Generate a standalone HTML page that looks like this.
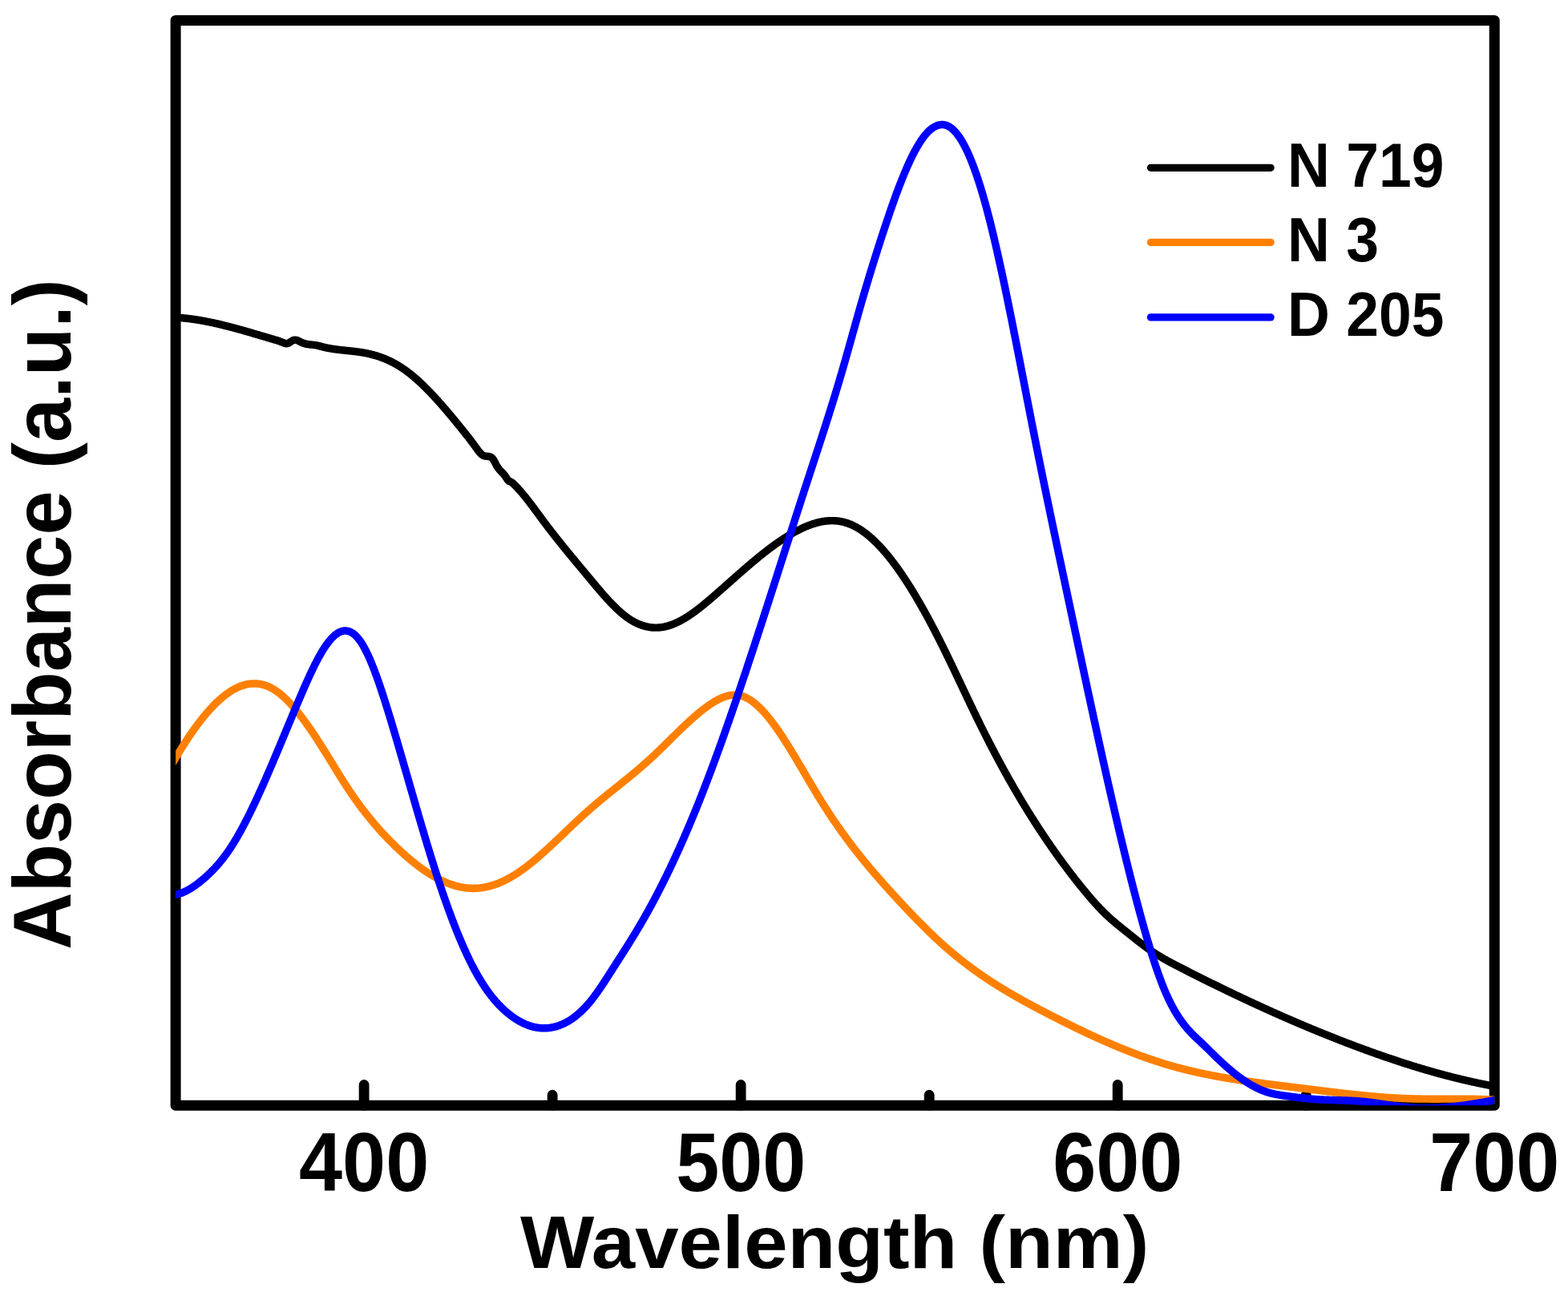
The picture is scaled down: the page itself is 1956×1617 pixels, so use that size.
<!DOCTYPE html>
<html><head><meta charset="utf-8"><title>Absorbance spectra</title>
<style>html,body{margin:0;padding:0;background:#fff;overflow:hidden}svg{display:block}</style>
</head><body>
<svg xmlns="http://www.w3.org/2000/svg" width="1956" height="1617" viewBox="0 0 1956 1617">
<defs><clipPath id="c"><rect x="219.1" y="25.4" width="1645.15" height="1353.80"/></clipPath></defs>
<rect width="1956" height="1617" fill="#fff"/>
<rect x="219.1" y="25.4" width="1645.15" height="1353.80" fill="none" stroke="#000" stroke-width="13" stroke-linejoin="round"/>
<g stroke="#000" stroke-width="12.8" stroke-linecap="round"><line x1="454.12" y1="1379.20" x2="454.12" y2="1353.5"/><line x1="924.16" y1="1379.20" x2="924.16" y2="1353.5"/><line x1="1394.21" y1="1379.20" x2="1394.21" y2="1353.5"/><line x1="689.14" y1="1379.20" x2="689.14" y2="1366.2"/><line x1="1159.19" y1="1379.20" x2="1159.19" y2="1366.2"/><line x1="1629.23" y1="1379.20" x2="1629.23" y2="1366.2"/></g>
<g clip-path="url(#c)" fill="none" stroke-width="9.45" stroke-linejoin="round" stroke-linecap="round">
<path stroke="#000" d="M215.0,395.9L215.5,396.0 216.0,396.0 216.5,396.0 217.0,396.0 217.5,396.0 218.0,396.1 218.5,396.1 219.0,396.1 219.5,396.1 220.0,396.2 220.5,396.2 221.0,396.2 221.5,396.3 222.0,396.3 222.5,396.3 223.0,396.4 223.5,396.4 224.0,396.4 224.5,396.5 225.0,396.5 225.5,396.6 226.0,396.6 226.5,396.6 227.0,396.7 227.5,396.7 228.0,396.8 228.5,396.8 229.0,396.9 229.5,396.9 230.0,397.0 230.5,397.0 231.0,397.1 231.5,397.1 232.0,397.2 232.5,397.2 233.0,397.3 233.5,397.3 234.0,397.4 234.5,397.5 235.0,397.5 235.5,397.6 236.0,397.6 236.5,397.7 237.0,397.8 237.5,397.8 238.0,397.9 238.5,398.0 239.0,398.0 239.5,398.1 240.0,398.2 240.5,398.2 241.0,398.3 241.5,398.4 242.0,398.4 242.5,398.5 243.0,398.6 243.5,398.7 244.0,398.7 244.5,398.8 245.0,398.9 245.5,399.0 246.0,399.0 246.5,399.1 247.0,399.2 247.5,399.3 248.0,399.4 248.5,399.4 249.0,399.5 249.5,399.6 250.0,399.7 250.5,399.8 251.0,399.9 251.5,400.0 252.0,400.1 252.5,400.1 253.0,400.2 253.5,400.3 254.0,400.4 254.5,400.5 255.0,400.6 255.5,400.7 256.0,400.8 256.5,400.9 257.0,401.0 257.5,401.1 258.0,401.2 258.5,401.3 259.0,401.4 259.5,401.5 260.0,401.6 260.5,401.7 261.0,401.8 261.5,401.9 262.0,402.0 262.5,402.1 263.0,402.2 263.5,402.3 264.0,402.4 264.5,402.5 265.0,402.6 265.5,402.7 266.0,402.8 266.5,402.9 267.0,403.0 267.5,403.1 268.0,403.3 268.5,403.4 269.0,403.5 269.5,403.6 270.0,403.7 270.5,403.8 271.0,403.9 271.5,404.0 272.0,404.2 272.5,404.3 273.0,404.4 273.5,404.5 274.0,404.6 274.5,404.7 275.0,404.9 275.5,405.0 276.0,405.1 276.5,405.2 277.0,405.3 277.5,405.5 278.0,405.6 278.5,405.7 279.0,405.8 279.5,406.0 280.0,406.1 280.5,406.2 281.0,406.3 281.5,406.5 282.0,406.6 282.5,406.7 283.0,406.8 283.5,407.0 284.0,407.1 284.5,407.2 285.0,407.3 285.5,407.5 286.0,407.6 286.5,407.7 287.0,407.9 287.5,408.0 288.0,408.1 288.5,408.3 289.0,408.4 289.5,408.5 290.0,408.6 290.5,408.8 291.0,408.9 291.5,409.0 292.0,409.2 292.5,409.3 293.0,409.5 293.5,409.6 294.0,409.7 294.5,409.9 295.0,410.0 295.5,410.1 296.0,410.3 296.5,410.4 297.0,410.5 297.5,410.7 298.0,410.8 298.5,411.0 299.0,411.1 299.5,411.2 300.0,411.4 300.5,411.5 301.0,411.7 301.5,411.8 302.0,411.9 302.5,412.1 303.0,412.2 303.5,412.4 304.0,412.5 304.5,412.6 305.0,412.8 305.5,412.9 306.0,413.1 306.5,413.2 307.0,413.4 307.5,413.5 308.0,413.6 308.5,413.8 309.0,413.9 309.5,414.1 310.0,414.2 310.5,414.4 311.0,414.5 311.5,414.7 312.0,414.8 312.5,414.9 313.0,415.1 313.5,415.2 314.0,415.4 314.5,415.5 315.0,415.7 315.5,415.8 316.0,416.0 316.5,416.1 317.0,416.3 317.5,416.4 318.0,416.6 318.5,416.7 319.0,416.8 319.5,417.0 320.0,417.1 320.5,417.3 321.0,417.4 321.5,417.6 322.0,417.7 322.5,417.9 323.0,418.0 323.5,418.2 324.0,418.3 324.5,418.5 325.0,418.6 325.5,418.8 326.0,418.9 326.5,419.1 327.0,419.2 327.5,419.4 328.0,419.5 328.5,419.6 329.0,419.8 329.5,419.9 330.0,420.1 330.5,420.2 331.0,420.4 331.5,420.5 332.0,420.7 332.5,420.8 333.0,421.0 333.5,421.1 334.0,421.3 334.5,421.4 335.0,421.6 335.5,421.7 336.0,421.9 336.5,422.0 337.0,422.2 337.5,422.3 338.0,422.5 338.5,422.6 339.0,422.8 339.5,422.9 340.0,423.0 340.5,423.2 341.0,423.3 341.5,423.5 342.0,423.6 342.5,423.8 343.0,423.9 343.5,424.1 344.0,424.2 344.5,424.4 345.0,424.5 345.5,424.7 346.0,424.9 346.5,425.0 347.0,425.2 347.5,425.4 348.0,425.5 348.5,425.7 349.0,425.9 349.5,426.1 350.0,426.3 350.5,426.4 351.0,426.6 351.5,426.8 352.0,427.0 352.5,427.3 353.0,427.5 353.5,427.7 354.0,427.9 354.5,428.1 355.0,428.2 355.5,428.4 356.0,428.5 356.5,428.6 357.0,428.7 357.5,428.7 358.0,428.7 358.5,428.6 359.0,428.4 359.5,428.2 360.0,428.0 360.5,427.8 361.0,427.5 361.5,427.1 362.0,426.8 362.5,426.5 363.0,426.1 363.5,425.8 364.0,425.5 364.5,425.2 365.0,424.9 365.5,424.6 366.0,424.4 366.5,424.3 367.0,424.2 367.5,424.1 368.0,424.1 368.5,424.1 369.0,424.2 369.5,424.2 370.0,424.4 370.5,424.5 371.0,424.7 371.5,424.9 372.0,425.1 372.5,425.3 373.0,425.6 373.5,425.8 374.0,426.1 374.5,426.4 375.0,426.6 375.5,426.9 376.0,427.1 376.5,427.4 377.0,427.6 377.5,427.8 378.0,428.0 378.5,428.2 379.0,428.4 379.5,428.5 380.0,428.7 380.5,428.8 381.0,428.9 381.5,429.1 382.0,429.2 382.5,429.3 383.0,429.4 383.5,429.5 384.0,429.5 384.5,429.6 385.0,429.7 385.5,429.7 386.0,429.8 386.5,429.9 387.0,429.9 387.5,430.0 388.0,430.0 388.5,430.1 389.0,430.1 389.5,430.2 390.0,430.2 390.5,430.3 391.0,430.3 391.5,430.4 392.0,430.4 392.5,430.5 393.0,430.6 393.5,430.6 394.0,430.7 394.5,430.8 395.0,430.9 395.5,431.0 396.0,431.1 396.5,431.2 397.0,431.3 397.5,431.5 398.0,431.6 398.5,431.7 399.0,431.9 399.5,432.0 400.0,432.1 400.5,432.3 401.0,432.4 401.5,432.5 402.0,432.7 402.5,432.8 403.0,432.9 403.5,433.1 404.0,433.2 404.5,433.3 405.0,433.4 405.5,433.5 406.0,433.6 406.5,433.7 407.0,433.8 407.5,434.0 408.0,434.1 408.5,434.2 409.0,434.3 409.5,434.4 410.0,434.4 410.5,434.5 411.0,434.6 411.5,434.7 412.0,434.8 412.5,434.9 413.0,435.0 413.5,435.1 414.0,435.1 414.5,435.2 415.0,435.3 415.5,435.4 416.0,435.5 416.5,435.5 417.0,435.6 417.5,435.7 418.0,435.7 418.5,435.8 419.0,435.9 419.5,435.9 420.0,436.0 420.5,436.1 421.0,436.1 421.5,436.2 422.0,436.3 422.5,436.3 423.0,436.4 423.5,436.4 424.0,436.5 424.5,436.6 425.0,436.6 425.5,436.7 426.0,436.7 426.5,436.8 427.0,436.8 427.5,436.9 428.0,436.9 428.5,437.0 429.0,437.0 429.5,437.1 430.0,437.2 430.5,437.2 431.0,437.3 431.5,437.3 432.0,437.4 432.5,437.4 433.0,437.5 433.5,437.5 434.0,437.6 434.5,437.6 435.0,437.7 435.5,437.7 436.0,437.8 436.5,437.8 437.0,437.9 437.5,437.9 438.0,438.0 438.5,438.0 439.0,438.1 439.5,438.1 440.0,438.2 440.5,438.3 441.0,438.3 441.5,438.4 442.0,438.4 442.5,438.5 443.0,438.6 443.5,438.6 444.0,438.7 444.5,438.7 445.0,438.8 445.5,438.9 446.0,438.9 446.5,439.0 447.0,439.1 447.5,439.1 448.0,439.2 448.5,439.3 449.0,439.4 449.5,439.4 450.0,439.5 450.5,439.6 451.0,439.7 451.5,439.7 452.0,439.8 452.5,439.9 453.0,440.0 453.5,440.1 454.0,440.2 454.5,440.3 455.0,440.3 455.5,440.4 456.0,440.5 456.5,440.6 457.0,440.7 457.5,440.8 458.0,440.9 458.5,441.0 459.0,441.1 459.5,441.3 460.0,441.4 460.5,441.5 461.0,441.6 461.5,441.7 462.0,441.8 462.5,442.0 463.0,442.1 463.5,442.2 464.0,442.3 464.5,442.5 465.0,442.6 465.5,442.7 466.0,442.9 466.5,443.0 467.0,443.1 467.5,443.3 468.0,443.4 468.5,443.6 469.0,443.7 469.5,443.9 470.0,444.0 470.5,444.2 471.0,444.3 471.5,444.5 472.0,444.7 472.5,444.8 473.0,445.0 473.5,445.2 474.0,445.3 474.5,445.5 475.0,445.7 475.5,445.9 476.0,446.1 476.5,446.2 477.0,446.4 477.5,446.6 478.0,446.8 478.5,447.0 479.0,447.2 479.5,447.4 480.0,447.6 480.5,447.8 481.0,448.0 481.5,448.2 482.0,448.5 482.5,448.7 483.0,448.9 483.5,449.1 484.0,449.3 484.5,449.6 485.0,449.8 485.5,450.0 486.0,450.3 486.5,450.5 487.0,450.7 487.5,451.0 488.0,451.2 488.5,451.5 489.0,451.7 489.5,452.0 490.0,452.2 490.5,452.5 491.0,452.8 491.5,453.0 492.0,453.3 492.5,453.6 493.0,453.9 493.5,454.1 494.0,454.4 494.5,454.7 495.0,455.0 495.5,455.3 496.0,455.6 496.5,455.9 497.0,456.2 497.5,456.5 498.0,456.8 498.5,457.1 499.0,457.4 499.5,457.7 500.0,458.1 500.5,458.4 501.0,458.7 501.5,459.0 502.0,459.4 502.5,459.7 503.0,460.0 503.5,460.4 504.0,460.7 504.5,461.1 505.0,461.4 505.5,461.8 506.0,462.1 506.5,462.5 507.0,462.9 507.5,463.2 508.0,463.6 508.5,464.0 509.0,464.4 509.5,464.8 510.0,465.1 510.5,465.5 511.0,465.9 511.5,466.3 512.0,466.7 512.5,467.1 513.0,467.5 513.5,467.9 514.0,468.3 514.5,468.7 515.0,469.2 515.5,469.6 516.0,470.0 516.5,470.4 517.0,470.8 517.5,471.3 518.0,471.7 518.5,472.1 519.0,472.6 519.5,473.0 520.0,473.4 520.5,473.9 521.0,474.3 521.5,474.8 522.0,475.2 522.5,475.7 523.0,476.2 523.5,476.6 524.0,477.1 524.5,477.5 525.0,478.0 525.5,478.5 526.0,479.0 526.5,479.4 527.0,479.9 527.5,480.4 528.0,480.9 528.5,481.4 529.0,481.8 529.5,482.3 530.0,482.8 530.5,483.3 531.0,483.8 531.5,484.3 532.0,484.8 532.5,485.3 533.0,485.8 533.5,486.3 534.0,486.8 534.5,487.4 535.0,487.9 535.5,488.4 536.0,488.9 536.5,489.4 537.0,489.9 537.5,490.5 538.0,491.0 538.5,491.5 539.0,492.1 539.5,492.6 540.0,493.1 540.5,493.7 541.0,494.2 541.5,494.7 542.0,495.3 542.5,495.8 543.0,496.4 543.5,496.9 544.0,497.5 544.5,498.0 545.0,498.6 545.5,499.1 546.0,499.7 546.5,500.2 547.0,500.8 547.5,501.3 548.0,501.9 548.5,502.5 549.0,503.0 549.5,503.6 550.0,504.2 550.5,504.7 551.0,505.3 551.5,505.9 552.0,506.5 552.5,507.0 553.0,507.6 553.5,508.2 554.0,508.8 554.5,509.3 555.0,509.9 555.5,510.5 556.0,511.1 556.5,511.7 557.0,512.3 557.5,512.9 558.0,513.4 558.5,514.0 559.0,514.6 559.5,515.2 560.0,515.8 560.5,516.4 561.0,517.0 561.5,517.6 562.0,518.2 562.5,518.8 563.0,519.4 563.5,520.0 564.0,520.6 564.5,521.2 565.0,521.8 565.5,522.4 566.0,523.0 566.5,523.6 567.0,524.2 567.5,524.8 568.0,525.4 568.5,526.1 569.0,526.7 569.5,527.3 570.0,527.9 570.5,528.5 571.0,529.1 571.5,529.7 572.0,530.3 572.5,531.0 573.0,531.6 573.5,532.2 574.0,532.8 574.5,533.4 575.0,534.0 575.5,534.7 576.0,535.3 576.5,535.9 577.0,536.5 577.5,537.1 578.0,537.8 578.5,538.4 579.0,539.0 579.5,539.6 580.0,540.3 580.5,540.9 581.0,541.5 581.5,542.2 582.0,542.8 582.5,543.4 583.0,544.1 583.5,544.7 584.0,545.3 584.5,546.0 585.0,546.6 585.5,547.3 586.0,547.9 586.5,548.6 587.0,549.2 587.5,549.9 588.0,550.5 588.5,551.2 589.0,551.9 589.5,552.5 590.0,553.2 590.5,553.9 591.0,554.6 591.5,555.3 592.0,555.9 592.5,556.6 593.0,557.3 593.5,558.0 594.0,558.7 594.5,559.4 595.0,560.1 595.5,560.8 596.0,561.5 596.5,562.2 597.0,562.8 597.5,563.4 598.0,564.0 598.5,564.6 599.0,565.2 599.5,565.7 600.0,566.2 600.5,566.7 601.0,567.1 601.5,567.5 602.0,567.8 602.5,568.1 603.0,568.4 603.5,568.6 604.0,568.8 604.5,568.9 605.0,569.0 605.5,569.1 606.0,569.2 606.5,569.2 607.0,569.3 607.5,569.3 608.0,569.3 608.5,569.4 609.0,569.4 609.5,569.5 610.0,569.6 610.5,569.7 611.0,569.8 611.5,570.0 612.0,570.2 612.5,570.5 613.0,570.8 613.5,571.1 614.0,571.6 614.5,572.1 615.0,572.7 615.5,573.4 616.0,574.2 616.5,575.1 617.0,576.0 617.5,577.0 618.0,578.0 618.5,579.0 619.0,580.0 619.5,580.9 620.0,581.7 620.5,582.5 621.0,583.3 621.5,584.0 622.0,584.6 622.5,585.3 623.0,585.9 623.5,586.5 624.0,587.0 624.5,587.6 625.0,588.1 625.5,588.6 626.0,589.1 626.5,589.6 627.0,590.2 627.5,590.7 628.0,591.2 628.5,591.8 629.0,592.4 629.5,593.0 630.0,593.7 630.5,594.4 631.0,595.2 631.5,596.0 632.0,596.8 632.5,597.5 633.0,598.2 633.5,598.9 634.0,599.4 634.5,599.9 635.0,600.3 635.5,600.5 636.0,600.7 636.5,600.9 637.0,601.1 637.5,601.3 638.0,601.6 638.5,601.9 639.0,602.3 639.5,602.7 640.0,603.2 640.5,603.6 641.0,604.1 641.5,604.6 642.0,605.1 642.5,605.6 643.0,606.1 643.5,606.6 644.0,607.1 644.5,607.6 645.0,608.2 645.5,608.7 646.0,609.2 646.5,609.8 647.0,610.3 647.5,610.9 648.0,611.4 648.5,612.0 649.0,612.6 649.5,613.1 650.0,613.7 650.5,614.3 651.0,614.9 651.5,615.5 652.0,616.1 652.5,616.7 653.0,617.3 653.5,617.9 654.0,618.5 654.5,619.1 655.0,619.7 655.5,620.3 656.0,621.0 656.5,621.6 657.0,622.2 657.5,622.9 658.0,623.5 658.5,624.1 659.0,624.8 659.5,625.4 660.0,626.1 660.5,626.7 661.0,627.4 661.5,628.0 662.0,628.7 662.5,629.3 663.0,630.0 663.5,630.7 664.0,631.3 664.5,632.0 665.0,632.7 665.5,633.3 666.0,634.0 666.5,634.7 667.0,635.4 667.5,636.0 668.0,636.7 668.5,637.4 669.0,638.1 669.5,638.7 670.0,639.4 670.5,640.1 671.0,640.8 671.5,641.5 672.0,642.1 672.5,642.8 673.0,643.5 673.5,644.2 674.0,644.8 674.5,645.5 675.0,646.2 675.5,646.9 676.0,647.6 676.5,648.2 677.0,648.9 677.5,649.6 678.0,650.2 678.5,650.9 679.0,651.6 679.5,652.3 680.0,652.9 680.5,653.6 681.0,654.3 681.5,654.9 682.0,655.6 682.5,656.2 683.0,656.9 683.5,657.6 684.0,658.2 684.5,658.9 685.0,659.5 685.5,660.2 686.0,660.8 686.5,661.5 687.0,662.1 687.5,662.8 688.0,663.4 688.5,664.1 689.0,664.7 689.5,665.3 690.0,666.0 690.5,666.6 691.0,667.3 691.5,667.9 692.0,668.5 692.5,669.2 693.0,669.8 693.5,670.4 694.0,671.1 694.5,671.7 695.0,672.3 695.5,673.0 696.0,673.6 696.5,674.2 697.0,674.8 697.5,675.5 698.0,676.1 698.5,676.7 699.0,677.3 699.5,678.0 700.0,678.6 700.5,679.2 701.0,679.8 701.5,680.4 702.0,681.1 702.5,681.7 703.0,682.3 703.5,682.9 704.0,683.5 704.5,684.2 705.0,684.8 705.5,685.4 706.0,686.0 706.5,686.6 707.0,687.2 707.5,687.8 708.0,688.4 708.5,689.1 709.0,689.7 709.5,690.3 710.0,690.9 710.5,691.5 711.0,692.1 711.5,692.7 712.0,693.3 712.5,693.9 713.0,694.5 713.5,695.1 714.0,695.7 714.5,696.3 715.0,696.9 715.5,697.5 716.0,698.1 716.5,698.7 717.0,699.4 717.5,700.0 718.0,700.6 718.5,701.2 719.0,701.8 719.5,702.4 720.0,703.0 720.5,703.6 721.0,704.2 721.5,704.8 722.0,705.4 722.5,706.0 723.0,706.6 723.5,707.2 724.0,707.8 724.5,708.4 725.0,709.0 725.5,709.6 726.0,710.2 726.5,710.8 727.0,711.4 727.5,712.0 728.0,712.6 728.5,713.2 729.0,713.8 729.5,714.4 730.0,715.0 730.5,715.6 731.0,716.2 731.5,716.8 732.0,717.4 732.5,718.0 733.0,718.6 733.5,719.2 734.0,719.8 734.5,720.4 735.0,721.0 735.5,721.6 736.0,722.2 736.5,722.8 737.0,723.4 737.5,724.0 738.0,724.6 738.5,725.2 739.0,725.8 739.5,726.4 740.0,727.0 740.5,727.6 741.0,728.2 741.5,728.8 742.0,729.4 742.5,730.0 743.0,730.6 743.5,731.2 744.0,731.8 744.5,732.4 745.0,733.0 745.5,733.5 746.0,734.1 746.5,734.7 747.0,735.3 747.5,735.9 748.0,736.5 748.5,737.1 749.0,737.7 749.5,738.2 750.0,738.8 750.5,739.4 751.0,740.0 751.5,740.5 752.0,741.1 752.5,741.7 753.0,742.3 753.5,742.8 754.0,743.4 754.5,744.0 755.0,744.5 755.5,745.1 756.0,745.6 756.5,746.2 757.0,746.7 757.5,747.3 758.0,747.8 758.5,748.4 759.0,748.9 759.5,749.5 760.0,750.0 760.5,750.5 761.0,751.1 761.5,751.6 762.0,752.1 762.5,752.6 763.0,753.2 763.5,753.7 764.0,754.2 764.5,754.7 765.0,755.2 765.5,755.7 766.0,756.2 766.5,756.7 767.0,757.2 767.5,757.7 768.0,758.2 768.5,758.7 769.0,759.2 769.5,759.6 770.0,760.1 770.5,760.6 771.0,761.0 771.5,761.5 772.0,762.0 772.5,762.4 773.0,762.9 773.5,763.3 774.0,763.7 774.5,764.2 775.0,764.6 775.5,765.0 776.0,765.5 776.5,765.9 777.0,766.3 777.5,766.7 778.0,767.1 778.5,767.5 779.0,767.9 779.5,768.3 780.0,768.7 780.5,769.1 781.0,769.4 781.5,769.8 782.0,770.2 782.5,770.5 783.0,770.9 783.5,771.2 784.0,771.6 784.5,771.9 785.0,772.3 785.5,772.6 786.0,772.9 786.5,773.2 787.0,773.6 787.5,773.9 788.0,774.2 788.5,774.5 789.0,774.8 789.5,775.0 790.0,775.3 790.5,775.6 791.0,775.9 791.5,776.1 792.0,776.4 792.5,776.7 793.0,776.9 793.5,777.2 794.0,777.4 794.5,777.6 795.0,777.9 795.5,778.1 796.0,778.3 796.5,778.5 797.0,778.8 797.5,779.0 798.0,779.2 798.5,779.4 799.0,779.5 799.5,779.7 800.0,779.9 800.5,780.1 801.0,780.3 801.5,780.4 802.0,780.6 802.5,780.7 803.0,780.9 803.5,781.0 804.0,781.2 804.5,781.3 805.0,781.4 805.5,781.6 806.0,781.7 806.5,781.8 807.0,781.9 807.5,782.0 808.0,782.1 808.5,782.2 809.0,782.3 809.5,782.4 810.0,782.5 810.5,782.6 811.0,782.6 811.5,782.7 812.0,782.8 812.5,782.8 813.0,782.9 813.5,782.9 814.0,783.0 814.5,783.0 815.0,783.0 815.5,783.1 816.0,783.1 816.5,783.1 817.0,783.1 817.5,783.1 818.0,783.1 818.5,783.1 819.0,783.1 819.5,783.1 820.0,783.1 820.5,783.1 821.0,783.0 821.5,783.0 822.0,783.0 822.5,782.9 823.0,782.9 823.5,782.8 824.0,782.8 824.5,782.7 825.0,782.7 825.5,782.6 826.0,782.5 826.5,782.4 827.0,782.4 827.5,782.3 828.0,782.2 828.5,782.1 829.0,782.0 829.5,781.9 830.0,781.8 830.5,781.7 831.0,781.5 831.5,781.4 832.0,781.3 832.5,781.1 833.0,781.0 833.5,780.9 834.0,780.7 834.5,780.6 835.0,780.4 835.5,780.2 836.0,780.1 836.5,779.9 837.0,779.7 837.5,779.6 838.0,779.4 838.5,779.2 839.0,779.0 839.5,778.8 840.0,778.6 840.5,778.4 841.0,778.2 841.5,778.0 842.0,777.8 842.5,777.6 843.0,777.3 843.5,777.1 844.0,776.9 844.5,776.6 845.0,776.4 845.5,776.2 846.0,775.9 846.5,775.7 847.0,775.4 847.5,775.2 848.0,774.9 848.5,774.7 849.0,774.4 849.5,774.1 850.0,773.8 850.5,773.6 851.0,773.3 851.5,773.0 852.0,772.7 852.5,772.4 853.0,772.1 853.5,771.9 854.0,771.6 854.5,771.3 855.0,770.9 855.5,770.6 856.0,770.3 856.5,770.0 857.0,769.7 857.5,769.4 858.0,769.1 858.5,768.7 859.0,768.4 859.5,768.1 860.0,767.8 860.5,767.4 861.0,767.1 861.5,766.7 862.0,766.4 862.5,766.0 863.0,765.7 863.5,765.4 864.0,765.0 864.5,764.6 865.0,764.3 865.5,763.9 866.0,763.6 866.5,763.2 867.0,762.8 867.5,762.5 868.0,762.1 868.5,761.7 869.0,761.3 869.5,761.0 870.0,760.6 870.5,760.2 871.0,759.8 871.5,759.4 872.0,759.0 872.5,758.7 873.0,758.3 873.5,757.9 874.0,757.5 874.5,757.1 875.0,756.7 875.5,756.3 876.0,755.9 876.5,755.5 877.0,755.1 877.5,754.7 878.0,754.3 878.5,753.9 879.0,753.4 879.5,753.0 880.0,752.6 880.5,752.2 881.0,751.8 881.5,751.4 882.0,751.0 882.5,750.5 883.0,750.1 883.5,749.7 884.0,749.3 884.5,748.8 885.0,748.4 885.5,748.0 886.0,747.6 886.5,747.1 887.0,746.7 887.5,746.3 888.0,745.9 888.5,745.4 889.0,745.0 889.5,744.6 890.0,744.1 890.5,743.7 891.0,743.3 891.5,742.8 892.0,742.4 892.5,741.9 893.0,741.5 893.5,741.1 894.0,740.6 894.5,740.2 895.0,739.8 895.5,739.3 896.0,738.9 896.5,738.4 897.0,738.0 897.5,737.6 898.0,737.1 898.5,736.7 899.0,736.2 899.5,735.8 900.0,735.4 900.5,734.9 901.0,734.5 901.5,734.0 902.0,733.6 902.5,733.1 903.0,732.7 903.5,732.3 904.0,731.8 904.5,731.4 905.0,730.9 905.5,730.5 906.0,730.0 906.5,729.6 907.0,729.2 907.5,728.7 908.0,728.3 908.5,727.8 909.0,727.4 909.5,726.9 910.0,726.5 910.5,726.1 911.0,725.6 911.5,725.2 912.0,724.7 912.5,724.3 913.0,723.8 913.5,723.4 914.0,723.0 914.5,722.5 915.0,722.1 915.5,721.6 916.0,721.2 916.5,720.7 917.0,720.3 917.5,719.9 918.0,719.4 918.5,719.0 919.0,718.5 919.5,718.1 920.0,717.7 920.5,717.2 921.0,716.8 921.5,716.3 922.0,715.9 922.5,715.5 923.0,715.0 923.5,714.6 924.0,714.1 924.5,713.7 925.0,713.3 925.5,712.8 926.0,712.4 926.5,712.0 927.0,711.5 927.5,711.1 928.0,710.7 928.5,710.2 929.0,709.8 929.5,709.4 930.0,708.9 930.5,708.5 931.0,708.1 931.5,707.6 932.0,707.2 932.5,706.8 933.0,706.3 933.5,705.9 934.0,705.5 934.5,705.1 935.0,704.6 935.5,704.2 936.0,703.8 936.5,703.4 937.0,702.9 937.5,702.5 938.0,702.1 938.5,701.7 939.0,701.2 939.5,700.8 940.0,700.4 940.5,700.0 941.0,699.6 941.5,699.2 942.0,698.7 942.5,698.3 943.0,697.9 943.5,697.5 944.0,697.1 944.5,696.7 945.0,696.3 945.5,695.9 946.0,695.4 946.5,695.0 947.0,694.6 947.5,694.2 948.0,693.8 948.5,693.4 949.0,693.0 949.5,692.6 950.0,692.2 950.5,691.8 951.0,691.4 951.5,691.0 952.0,690.6 952.5,690.2 953.0,689.8 953.5,689.4 954.0,689.0 954.5,688.6 955.0,688.3 955.5,687.9 956.0,687.5 956.5,687.1 957.0,686.7 957.5,686.3 958.0,685.9 958.5,685.6 959.0,685.2 959.5,684.8 960.0,684.4 960.5,684.0 961.0,683.7 961.5,683.3 962.0,682.9 962.5,682.5 963.0,682.2 963.5,681.8 964.0,681.4 964.5,681.1 965.0,680.7 965.5,680.3 966.0,680.0 966.5,679.6 967.0,679.3 967.5,678.9 968.0,678.5 968.5,678.2 969.0,677.8 969.5,677.5 970.0,677.1 970.5,676.8 971.0,676.4 971.5,676.1 972.0,675.7 972.5,675.4 973.0,675.1 973.5,674.7 974.0,674.4 974.5,674.1 975.0,673.7 975.5,673.4 976.0,673.1 976.5,672.7 977.0,672.4 977.5,672.1 978.0,671.7 978.5,671.4 979.0,671.1 979.5,670.8 980.0,670.5 980.5,670.2 981.0,669.8 981.5,669.5 982.0,669.2 982.5,668.9 983.0,668.6 983.5,668.3 984.0,668.0 984.5,667.7 985.0,667.4 985.5,667.1 986.0,666.8 986.5,666.5 987.0,666.2 987.5,665.9 988.0,665.6 988.5,665.4 989.0,665.1 989.5,664.8 990.0,664.5 990.5,664.2 991.0,664.0 991.5,663.7 992.0,663.4 992.5,663.1 993.0,662.9 993.5,662.6 994.0,662.3 994.5,662.1 995.0,661.8 995.5,661.6 996.0,661.3 996.5,661.1 997.0,660.8 997.5,660.6 998.0,660.3 998.5,660.1 999.0,659.8 999.5,659.6 1000.0,659.4 1000.5,659.1 1001.0,658.9 1001.5,658.7 1002.0,658.4 1002.5,658.2 1003.0,658.0 1003.5,657.8 1004.0,657.5 1004.5,657.3 1005.0,657.1 1005.5,656.9 1006.0,656.7 1006.5,656.5 1007.0,656.3 1007.5,656.1 1008.0,655.9 1008.5,655.7 1009.0,655.5 1009.5,655.3 1010.0,655.1 1010.5,654.9 1011.0,654.8 1011.5,654.6 1012.0,654.4 1012.5,654.2 1013.0,654.1 1013.5,653.9 1014.0,653.7 1014.5,653.6 1015.0,653.4 1015.5,653.3 1016.0,653.1 1016.5,653.0 1017.0,652.8 1017.5,652.7 1018.0,652.5 1018.5,652.4 1019.0,652.2 1019.5,652.1 1020.0,652.0 1020.5,651.9 1021.0,651.7 1021.5,651.6 1022.0,651.5 1022.5,651.4 1023.0,651.3 1023.5,651.2 1024.0,651.1 1024.5,651.0 1025.0,650.9 1025.5,650.8 1026.0,650.7 1026.5,650.6 1027.0,650.5 1027.5,650.4 1028.0,650.4 1028.5,650.3 1029.0,650.2 1029.5,650.2 1030.0,650.1 1030.5,650.0 1031.0,650.0 1031.5,649.9 1032.0,649.9 1032.5,649.9 1033.0,649.8 1033.5,649.8 1034.0,649.7 1034.5,649.7 1035.0,649.7 1035.5,649.7 1036.0,649.7 1036.5,649.6 1037.0,649.6 1037.5,649.6 1038.0,649.6 1038.5,649.6 1039.0,649.6 1039.5,649.7 1040.0,649.7 1040.5,649.7 1041.0,649.7 1041.5,649.7 1042.0,649.8 1042.5,649.8 1043.0,649.8 1043.5,649.9 1044.0,649.9 1044.5,650.0 1045.0,650.0 1045.5,650.1 1046.0,650.2 1046.5,650.2 1047.0,650.3 1047.5,650.4 1048.0,650.5 1048.5,650.6 1049.0,650.7 1049.5,650.8 1050.0,650.9 1050.5,651.0 1051.0,651.1 1051.5,651.2 1052.0,651.3 1052.5,651.4 1053.0,651.6 1053.5,651.7 1054.0,651.8 1054.5,652.0 1055.0,652.1 1055.5,652.3 1056.0,652.4 1056.5,652.6 1057.0,652.7 1057.5,652.9 1058.0,653.1 1058.5,653.3 1059.0,653.5 1059.5,653.6 1060.0,653.8 1060.5,654.0 1061.0,654.2 1061.5,654.5 1062.0,654.7 1062.5,654.9 1063.0,655.1 1063.5,655.3 1064.0,655.6 1064.5,655.8 1065.0,656.1 1065.5,656.3 1066.0,656.6 1066.5,656.8 1067.0,657.1 1067.5,657.4 1068.0,657.6 1068.5,657.9 1069.0,658.2 1069.5,658.5 1070.0,658.8 1070.5,659.1 1071.0,659.4 1071.5,659.7 1072.0,660.0 1072.5,660.3 1073.0,660.6 1073.5,660.9 1074.0,661.3 1074.5,661.6 1075.0,661.9 1075.5,662.3 1076.0,662.6 1076.5,663.0 1077.0,663.3 1077.5,663.7 1078.0,664.1 1078.5,664.4 1079.0,664.8 1079.5,665.2 1080.0,665.6 1080.5,665.9 1081.0,666.3 1081.5,666.7 1082.0,667.1 1082.5,667.5 1083.0,668.0 1083.5,668.4 1084.0,668.8 1084.5,669.2 1085.0,669.6 1085.5,670.1 1086.0,670.5 1086.5,670.9 1087.0,671.4 1087.5,671.8 1088.0,672.3 1088.5,672.7 1089.0,673.2 1089.5,673.7 1090.0,674.1 1090.5,674.6 1091.0,675.1 1091.5,675.6 1092.0,676.1 1092.5,676.5 1093.0,677.0 1093.5,677.5 1094.0,678.0 1094.5,678.5 1095.0,679.1 1095.5,679.6 1096.0,680.1 1096.5,680.6 1097.0,681.1 1097.5,681.7 1098.0,682.2 1098.5,682.7 1099.0,683.3 1099.5,683.8 1100.0,684.4 1100.5,684.9 1101.0,685.5 1101.5,686.1 1102.0,686.6 1102.5,687.2 1103.0,687.8 1103.5,688.4 1104.0,688.9 1104.5,689.5 1105.0,690.1 1105.5,690.7 1106.0,691.3 1106.5,691.9 1107.0,692.5 1107.5,693.1 1108.0,693.7 1108.5,694.3 1109.0,695.0 1109.5,695.6 1110.0,696.2 1110.5,696.9 1111.0,697.5 1111.5,698.1 1112.0,698.8 1112.5,699.4 1113.0,700.1 1113.5,700.7 1114.0,701.4 1114.5,702.0 1115.0,702.7 1115.5,703.4 1116.0,704.0 1116.5,704.7 1117.0,705.4 1117.5,706.1 1118.0,706.8 1118.5,707.4 1119.0,708.1 1119.5,708.8 1120.0,709.5 1120.5,710.2 1121.0,710.9 1121.5,711.6 1122.0,712.4 1122.5,713.1 1123.0,713.8 1123.5,714.5 1124.0,715.2 1124.5,716.0 1125.0,716.7 1125.5,717.4 1126.0,718.2 1126.5,718.9 1127.0,719.7 1127.5,720.4 1128.0,721.2 1128.5,721.9 1129.0,722.7 1129.5,723.4 1130.0,724.2 1130.5,725.0 1131.0,725.7 1131.5,726.5 1132.0,727.3 1132.5,728.1 1133.0,728.9 1133.5,729.7 1134.0,730.4 1134.5,731.2 1135.0,732.0 1135.5,732.8 1136.0,733.6 1136.5,734.4 1137.0,735.2 1137.5,736.1 1138.0,736.9 1138.5,737.7 1139.0,738.5 1139.5,739.3 1140.0,740.2 1140.5,741.0 1141.0,741.8 1141.5,742.7 1142.0,743.5 1142.5,744.3 1143.0,745.2 1143.5,746.0 1144.0,746.9 1144.5,747.7 1145.0,748.6 1145.5,749.4 1146.0,750.3 1146.5,751.2 1147.0,752.0 1147.5,752.9 1148.0,753.8 1148.5,754.7 1149.0,755.5 1149.5,756.4 1150.0,757.3 1150.5,758.2 1151.0,759.1 1151.5,760.0 1152.0,760.8 1152.5,761.7 1153.0,762.6 1153.5,763.5 1154.0,764.4 1154.5,765.4 1155.0,766.3 1155.5,767.2 1156.0,768.1 1156.5,769.0 1157.0,769.9 1157.5,770.8 1158.0,771.8 1158.5,772.7 1159.0,773.6 1159.5,774.6 1160.0,775.5 1160.5,776.4 1161.0,777.4 1161.5,778.3 1162.0,779.3 1162.5,780.2 1163.0,781.2 1163.5,782.1 1164.0,783.1 1164.5,784.0 1165.0,785.0 1165.5,785.9 1166.0,786.9 1166.5,787.9 1167.0,788.8 1167.5,789.8 1168.0,790.8 1168.5,791.7 1169.0,792.7 1169.5,793.7 1170.0,794.7 1170.5,795.7 1171.0,796.6 1171.5,797.6 1172.0,798.6 1172.5,799.6 1173.0,800.6 1173.5,801.6 1174.0,802.6 1174.5,803.6 1175.0,804.6 1175.5,805.6 1176.0,806.6 1176.5,807.6 1177.0,808.6 1177.5,809.6 1178.0,810.6 1178.5,811.7 1179.0,812.7 1179.5,813.7 1180.0,814.7 1180.5,815.7 1181.0,816.8 1181.5,817.8 1182.0,818.8 1182.5,819.9 1183.0,820.9 1183.5,821.9 1184.0,822.9 1184.5,824.0 1185.0,825.0 1185.5,826.1 1186.0,827.1 1186.5,828.1 1187.0,829.2 1187.5,830.2 1188.0,831.3 1188.5,832.3 1189.0,833.4 1189.5,834.4 1190.0,835.4 1190.5,836.5 1191.0,837.5 1191.5,838.6 1192.0,839.6 1192.5,840.7 1193.0,841.8 1193.5,842.8 1194.0,843.9 1194.5,844.9 1195.0,846.0 1195.5,847.0 1196.0,848.1 1196.5,849.1 1197.0,850.2 1197.5,851.2 1198.0,852.3 1198.5,853.4 1199.0,854.4 1199.5,855.5 1200.0,856.5 1200.5,857.6 1201.0,858.6 1201.5,859.7 1202.0,860.8 1202.5,861.8 1203.0,862.9 1203.5,863.9 1204.0,865.0 1204.5,866.0 1205.0,867.1 1205.5,868.1 1206.0,869.2 1206.5,870.3 1207.0,871.3 1207.5,872.4 1208.0,873.4 1208.5,874.5 1209.0,875.5 1209.5,876.6 1210.0,877.6 1210.5,878.7 1211.0,879.7 1211.5,880.8 1212.0,881.8 1212.5,882.8 1213.0,883.9 1213.5,884.9 1214.0,886.0 1214.5,887.0 1215.0,888.1 1215.5,889.1 1216.0,890.1 1216.5,891.2 1217.0,892.2 1217.5,893.2 1218.0,894.3 1218.5,895.3 1219.0,896.3 1219.5,897.3 1220.0,898.4 1220.5,899.4 1221.0,900.4 1221.5,901.4 1222.0,902.4 1222.5,903.5 1223.0,904.5 1223.5,905.5 1224.0,906.5 1224.5,907.5 1225.0,908.5 1225.5,909.5 1226.0,910.5 1226.5,911.5 1227.0,912.5 1227.5,913.5 1228.0,914.5 1228.5,915.5 1229.0,916.5 1229.5,917.5 1230.0,918.5 1230.5,919.5 1231.0,920.4 1231.5,921.4 1232.0,922.4 1232.5,923.4 1233.0,924.4 1233.5,925.3 1234.0,926.3 1234.5,927.3 1235.0,928.3 1235.5,929.2 1236.0,930.2 1236.5,931.2 1237.0,932.1 1237.5,933.1 1238.0,934.0 1238.5,935.0 1239.0,935.9 1239.5,936.9 1240.0,937.9 1240.5,938.8 1241.0,939.8 1241.5,940.7 1242.0,941.6 1242.5,942.6 1243.0,943.5 1243.5,944.5 1244.0,945.4 1244.5,946.3 1245.0,947.3 1245.5,948.2 1246.0,949.1 1246.5,950.1 1247.0,951.0 1247.5,951.9 1248.0,952.8 1248.5,953.8 1249.0,954.7 1249.5,955.6 1250.0,956.5 1250.5,957.4 1251.0,958.4 1251.5,959.3 1252.0,960.2 1252.5,961.1 1253.0,962.0 1253.5,962.9 1254.0,963.8 1254.5,964.7 1255.0,965.6 1255.5,966.5 1256.0,967.4 1256.5,968.3 1257.0,969.2 1257.5,970.1 1258.0,971.0 1258.5,971.9 1259.0,972.7 1259.5,973.6 1260.0,974.5 1260.5,975.4 1261.0,976.3 1261.5,977.1 1262.0,978.0 1262.5,978.9 1263.0,979.8 1263.5,980.6 1264.0,981.5 1264.5,982.4 1265.0,983.2 1265.5,984.1 1266.0,985.0 1266.5,985.8 1267.0,986.7 1267.5,987.5 1268.0,988.4 1268.5,989.3 1269.0,990.1 1269.5,991.0 1270.0,991.8 1270.5,992.7 1271.0,993.5 1271.5,994.3 1272.0,995.2 1272.5,996.0 1273.0,996.9 1273.5,997.7 1274.0,998.5 1274.5,999.4 1275.0,1000.2 1275.5,1001.0 1276.0,1001.9 1276.5,1002.7 1277.0,1003.5 1277.5,1004.3 1278.0,1005.2 1278.5,1006.0 1279.0,1006.8 1279.5,1007.6 1280.0,1008.4 1280.5,1009.2 1281.0,1010.1 1281.5,1010.9 1282.0,1011.7 1282.5,1012.5 1283.0,1013.3 1283.5,1014.1 1284.0,1014.9 1284.5,1015.7 1285.0,1016.5 1285.5,1017.3 1286.0,1018.1 1286.5,1018.9 1287.0,1019.7 1287.5,1020.5 1288.0,1021.3 1288.5,1022.1 1289.0,1022.8 1289.5,1023.6 1290.0,1024.4 1290.5,1025.2 1291.0,1026.0 1291.5,1026.8 1292.0,1027.5 1292.5,1028.3 1293.0,1029.1 1293.5,1029.9 1294.0,1030.6 1294.5,1031.4 1295.0,1032.2 1295.5,1032.9 1296.0,1033.7 1296.5,1034.5 1297.0,1035.2 1297.5,1036.0 1298.0,1036.7 1298.5,1037.5 1299.0,1038.3 1299.5,1039.0 1300.0,1039.8 1300.5,1040.5 1301.0,1041.3 1301.5,1042.0 1302.0,1042.8 1302.5,1043.5 1303.0,1044.3 1303.5,1045.0 1304.0,1045.7 1304.5,1046.5 1305.0,1047.2 1305.5,1048.0 1306.0,1048.7 1306.5,1049.4 1307.0,1050.2 1307.5,1050.9 1308.0,1051.6 1308.5,1052.3 1309.0,1053.1 1309.5,1053.8 1310.0,1054.5 1310.5,1055.2 1311.0,1056.0 1311.5,1056.7 1312.0,1057.4 1312.5,1058.1 1313.0,1058.8 1313.5,1059.5 1314.0,1060.3 1314.5,1061.0 1315.0,1061.7 1315.5,1062.4 1316.0,1063.1 1316.5,1063.8 1317.0,1064.5 1317.5,1065.2 1318.0,1065.9 1318.5,1066.6 1319.0,1067.3 1319.5,1068.0 1320.0,1068.7 1320.5,1069.4 1321.0,1070.1 1321.5,1070.8 1322.0,1071.5 1322.5,1072.1 1323.0,1072.8 1323.5,1073.5 1324.0,1074.2 1324.5,1074.9 1325.0,1075.6 1325.5,1076.2 1326.0,1076.9 1326.5,1077.6 1327.0,1078.3 1327.5,1078.9 1328.0,1079.6 1328.5,1080.3 1329.0,1081.0 1329.5,1081.6 1330.0,1082.3 1330.5,1083.0 1331.0,1083.6 1331.5,1084.3 1332.0,1085.0 1332.5,1085.6 1333.0,1086.3 1333.5,1086.9 1334.0,1087.6 1334.5,1088.3 1335.0,1088.9 1335.5,1089.6 1336.0,1090.2 1336.5,1090.9 1337.0,1091.5 1337.5,1092.2 1338.0,1092.8 1338.5,1093.5 1339.0,1094.1 1339.5,1094.7 1340.0,1095.4 1340.5,1096.0 1341.0,1096.7 1341.5,1097.3 1342.0,1097.9 1342.5,1098.6 1343.0,1099.2 1343.5,1099.8 1344.0,1100.5 1344.5,1101.1 1345.0,1101.7 1345.5,1102.4 1346.0,1103.0 1346.5,1103.6 1347.0,1104.2 1347.5,1104.9 1348.0,1105.5 1348.5,1106.1 1349.0,1106.7 1349.5,1107.3 1350.0,1107.9 1350.5,1108.6 1351.0,1109.2 1351.5,1109.8 1352.0,1110.4 1352.5,1111.0 1353.0,1111.6 1353.5,1112.2 1354.0,1112.8 1354.5,1113.4 1355.0,1114.0 1355.5,1114.6 1356.0,1115.2 1356.5,1115.8 1357.0,1116.4 1357.5,1117.0 1358.0,1117.6 1358.5,1118.2 1359.0,1118.8 1359.5,1119.4 1360.0,1119.9 1360.5,1120.5 1361.0,1121.1 1361.5,1121.7 1362.0,1122.3 1362.5,1122.8 1363.0,1123.4 1363.5,1124.0 1364.0,1124.5 1364.5,1125.1 1365.0,1125.7 1365.5,1126.2 1366.0,1126.8 1366.5,1127.3 1367.0,1127.9 1367.5,1128.4 1368.0,1129.0 1368.5,1129.5 1369.0,1130.1 1369.5,1130.6 1370.0,1131.1 1370.5,1131.7 1371.0,1132.2 1371.5,1132.7 1372.0,1133.3 1372.5,1133.8 1373.0,1134.3 1373.5,1134.8 1374.0,1135.3 1374.5,1135.8 1375.0,1136.4 1375.5,1136.9 1376.0,1137.4 1376.5,1137.9 1377.0,1138.4 1377.5,1138.9 1378.0,1139.3 1378.5,1139.8 1379.0,1140.3 1379.5,1140.8 1380.0,1141.3 1380.5,1141.8 1381.0,1142.2 1381.5,1142.7 1382.0,1143.2 1382.5,1143.6 1383.0,1144.1 1383.5,1144.5 1384.0,1145.0 1384.5,1145.4 1385.0,1145.9 1385.5,1146.3 1386.0,1146.8 1386.5,1147.2 1387.0,1147.7 1387.5,1148.1 1388.0,1148.5 1388.5,1149.0 1389.0,1149.4 1389.5,1149.8 1390.0,1150.2 1390.5,1150.7 1391.0,1151.1 1391.5,1151.5 1392.0,1151.9 1392.5,1152.3 1393.0,1152.8 1393.5,1153.2 1394.0,1153.6 1394.5,1154.0 1395.0,1154.4 1395.5,1154.8 1396.0,1155.2 1396.5,1155.6 1397.0,1156.1 1397.5,1156.5 1398.0,1156.9 1398.5,1157.3 1399.0,1157.7 1399.5,1158.1 1400.0,1158.5 1400.5,1158.9 1401.0,1159.3 1401.5,1159.7 1402.0,1160.1 1402.5,1160.5 1403.0,1160.9 1403.5,1161.3 1404.0,1161.7 1404.5,1162.1 1405.0,1162.5 1405.5,1162.9 1406.0,1163.3 1406.5,1163.7 1407.0,1164.1 1407.5,1164.5 1408.0,1164.9 1408.5,1165.3 1409.0,1165.7 1409.5,1166.1 1410.0,1166.5 1410.5,1166.9 1411.0,1167.3 1411.5,1167.7 1412.0,1168.1 1412.5,1168.5 1413.0,1168.9 1413.5,1169.3 1414.0,1169.7 1414.5,1170.1 1415.0,1170.5 1415.5,1170.9 1416.0,1171.3 1416.5,1171.7 1417.0,1172.1 1417.5,1172.5 1418.0,1172.9 1418.5,1173.3 1419.0,1173.7 1419.5,1174.0 1420.0,1174.4 1420.5,1174.8 1421.0,1175.2 1421.5,1175.6 1422.0,1176.0 1422.5,1176.4 1423.0,1176.7 1423.5,1177.1 1424.0,1177.5 1424.5,1177.9 1425.0,1178.3 1425.5,1178.6 1426.0,1179.0 1426.5,1179.4 1427.0,1179.8 1427.5,1180.1 1428.0,1180.5 1428.5,1180.9 1429.0,1181.2 1429.5,1181.6 1430.0,1182.0 1430.5,1182.3 1431.0,1182.7 1431.5,1183.0 1432.0,1183.4 1432.5,1183.8 1433.0,1184.1 1433.5,1184.5 1434.0,1184.8 1434.5,1185.2 1435.0,1185.5 1435.5,1185.9 1436.0,1186.2 1436.5,1186.6 1437.0,1186.9 1437.5,1187.2 1438.0,1187.6 1438.5,1187.9 1439.0,1188.3 1439.5,1188.6 1440.0,1188.9 1440.5,1189.2 1441.0,1189.6 1441.5,1189.9 1442.0,1190.2 1442.5,1190.5 1443.0,1190.9 1443.5,1191.2 1444.0,1191.5 1444.5,1191.8 1445.0,1192.1 1445.5,1192.4 1446.0,1192.7 1446.5,1193.0 1447.0,1193.3 1447.5,1193.6 1448.0,1193.9 1448.5,1194.2 1449.0,1194.5 1449.5,1194.8 1450.0,1195.1 1450.5,1195.4 1451.0,1195.7 1451.5,1196.0 1452.0,1196.3 1452.5,1196.6 1453.0,1196.8 1453.5,1197.1 1454.0,1197.4 1454.5,1197.7 1455.0,1198.0 1455.5,1198.2 1456.0,1198.5 1456.5,1198.8 1457.0,1199.1 1457.5,1199.3 1458.0,1199.6 1458.5,1199.9 1459.0,1200.2 1459.5,1200.4 1460.0,1200.7 1460.5,1201.0 1461.0,1201.2 1461.5,1201.5 1462.0,1201.8 1462.5,1202.0 1463.0,1202.3 1463.5,1202.5 1464.0,1202.8 1464.5,1203.1 1465.0,1203.3 1465.5,1203.6 1466.0,1203.9 1466.5,1204.1 1467.0,1204.4 1467.5,1204.6 1468.0,1204.9 1468.5,1205.1 1469.0,1205.4 1469.5,1205.7 1470.0,1205.9 1470.5,1206.2 1471.0,1206.4 1471.5,1206.7 1472.0,1206.9 1472.5,1207.2 1473.0,1207.5 1473.5,1207.7 1474.0,1208.0 1474.5,1208.2 1475.0,1208.5 1475.5,1208.7 1476.0,1209.0 1476.5,1209.2 1477.0,1209.5 1477.5,1209.8 1478.0,1210.0 1478.5,1210.3 1479.0,1210.5 1479.5,1210.8 1480.0,1211.0 1480.5,1211.3 1481.0,1211.5 1481.5,1211.8 1482.0,1212.0 1482.5,1212.3 1483.0,1212.6 1483.5,1212.8 1484.0,1213.1 1484.5,1213.3 1485.0,1213.6 1485.5,1213.8 1486.0,1214.1 1486.5,1214.3 1487.0,1214.6 1487.5,1214.8 1488.0,1215.1 1488.5,1215.3 1489.0,1215.6 1489.5,1215.8 1490.0,1216.1 1490.5,1216.3 1491.0,1216.6 1491.5,1216.9 1492.0,1217.1 1492.5,1217.4 1493.0,1217.6 1493.5,1217.9 1494.0,1218.1 1494.5,1218.4 1495.0,1218.6 1495.5,1218.9 1496.0,1219.1 1496.5,1219.4 1497.0,1219.6 1497.5,1219.9 1498.0,1220.1 1498.5,1220.4 1499.0,1220.6 1499.5,1220.9 1500.0,1221.1 1500.5,1221.4 1501.0,1221.6 1501.5,1221.9 1502.0,1222.1 1502.5,1222.4 1503.0,1222.6 1503.5,1222.9 1504.0,1223.1 1504.5,1223.3 1505.0,1223.6 1505.5,1223.8 1506.0,1224.1 1506.5,1224.3 1507.0,1224.6 1507.5,1224.8 1508.0,1225.1 1508.5,1225.3 1509.0,1225.6 1509.5,1225.8 1510.0,1226.1 1510.5,1226.3 1511.0,1226.6 1511.5,1226.8 1512.0,1227.1 1512.5,1227.3 1513.0,1227.5 1513.5,1227.8 1514.0,1228.0 1514.5,1228.3 1515.0,1228.5 1515.5,1228.8 1516.0,1229.0 1516.5,1229.3 1517.0,1229.5 1517.5,1229.8 1518.0,1230.0 1518.5,1230.2 1519.0,1230.5 1519.5,1230.7 1520.0,1231.0 1520.5,1231.2 1521.0,1231.5 1521.5,1231.7 1522.0,1232.0 1522.5,1232.2 1523.0,1232.4 1523.5,1232.7 1524.0,1232.9 1524.5,1233.2 1525.0,1233.4 1525.5,1233.7 1526.0,1233.9 1526.5,1234.1 1527.0,1234.4 1527.5,1234.6 1528.0,1234.9 1528.5,1235.1 1529.0,1235.3 1529.5,1235.6 1530.0,1235.8 1530.5,1236.1 1531.0,1236.3 1531.5,1236.6 1532.0,1236.8 1532.5,1237.0 1533.0,1237.3 1533.5,1237.5 1534.0,1237.8 1534.5,1238.0 1535.0,1238.2 1535.5,1238.5 1536.0,1238.7 1536.5,1239.0 1537.0,1239.2 1537.5,1239.4 1538.0,1239.7 1538.5,1239.9 1539.0,1240.2 1539.5,1240.4 1540.0,1240.6 1540.5,1240.9 1541.0,1241.1 1541.5,1241.3 1542.0,1241.6 1542.5,1241.8 1543.0,1242.1 1543.5,1242.3 1544.0,1242.5 1544.5,1242.8 1545.0,1243.0 1545.5,1243.2 1546.0,1243.5 1546.5,1243.7 1547.0,1244.0 1547.5,1244.2 1548.0,1244.4 1548.5,1244.7 1549.0,1244.9 1549.5,1245.1 1550.0,1245.4 1550.5,1245.6 1551.0,1245.8 1551.5,1246.1 1552.0,1246.3 1552.5,1246.5 1553.0,1246.8 1553.5,1247.0 1554.0,1247.2 1554.5,1247.5 1555.0,1247.7 1555.5,1247.9 1556.0,1248.2 1556.5,1248.4 1557.0,1248.7 1557.5,1248.9 1558.0,1249.1 1558.5,1249.4 1559.0,1249.6 1559.5,1249.8 1560.0,1250.0 1560.5,1250.3 1561.0,1250.5 1561.5,1250.7 1562.0,1251.0 1562.5,1251.2 1563.0,1251.4 1563.5,1251.7 1564.0,1251.9 1564.5,1252.1 1565.0,1252.4 1565.5,1252.6 1566.0,1252.8 1566.5,1253.1 1567.0,1253.3 1567.5,1253.5 1568.0,1253.8 1568.5,1254.0 1569.0,1254.2 1569.5,1254.4 1570.0,1254.7 1570.5,1254.9 1571.0,1255.1 1571.5,1255.4 1572.0,1255.6 1572.5,1255.8 1573.0,1256.0 1573.5,1256.3 1574.0,1256.5 1574.5,1256.7 1575.0,1257.0 1575.5,1257.2 1576.0,1257.4 1576.5,1257.6 1577.0,1257.9 1577.5,1258.1 1578.0,1258.3 1578.5,1258.5 1579.0,1258.8 1579.5,1259.0 1580.0,1259.2 1580.5,1259.5 1581.0,1259.7 1581.5,1259.9 1582.0,1260.1 1582.5,1260.4 1583.0,1260.6 1583.5,1260.8 1584.0,1261.0 1584.5,1261.3 1585.0,1261.5 1585.5,1261.7 1586.0,1261.9 1586.5,1262.2 1587.0,1262.4 1587.5,1262.6 1588.0,1262.8 1588.5,1263.1 1589.0,1263.3 1589.5,1263.5 1590.0,1263.7 1590.5,1264.0 1591.0,1264.2 1591.5,1264.4 1592.0,1264.6 1592.5,1264.8 1593.0,1265.1 1593.5,1265.3 1594.0,1265.5 1594.5,1265.7 1595.0,1266.0 1595.5,1266.2 1596.0,1266.4 1596.5,1266.6 1597.0,1266.8 1597.5,1267.1 1598.0,1267.3 1598.5,1267.5 1599.0,1267.7 1599.5,1267.9 1600.0,1268.2 1600.5,1268.4 1601.0,1268.6 1601.5,1268.8 1602.0,1269.0 1602.5,1269.3 1603.0,1269.5 1603.5,1269.7 1604.0,1269.9 1604.5,1270.1 1605.0,1270.4 1605.5,1270.6 1606.0,1270.8 1606.5,1271.0 1607.0,1271.2 1607.5,1271.4 1608.0,1271.7 1608.5,1271.9 1609.0,1272.1 1609.5,1272.3 1610.0,1272.5 1610.5,1272.7 1611.0,1273.0 1611.5,1273.2 1612.0,1273.4 1612.5,1273.6 1613.0,1273.8 1613.5,1274.0 1614.0,1274.3 1614.5,1274.5 1615.0,1274.7 1615.5,1274.9 1616.0,1275.1 1616.5,1275.3 1617.0,1275.5 1617.5,1275.8 1618.0,1276.0 1618.5,1276.2 1619.0,1276.4 1619.5,1276.6 1620.0,1276.8 1620.5,1277.0 1621.0,1277.3 1621.5,1277.5 1622.0,1277.7 1622.5,1277.9 1623.0,1278.1 1623.5,1278.3 1624.0,1278.5 1624.5,1278.7 1625.0,1279.0 1625.5,1279.2 1626.0,1279.4 1626.5,1279.6 1627.0,1279.8 1627.5,1280.0 1628.0,1280.2 1628.5,1280.4 1629.0,1280.6 1629.5,1280.8 1630.0,1281.1 1630.5,1281.3 1631.0,1281.5 1631.5,1281.7 1632.0,1281.9 1632.5,1282.1 1633.0,1282.3 1633.5,1282.5 1634.0,1282.7 1634.5,1282.9 1635.0,1283.1 1635.5,1283.4 1636.0,1283.6 1636.5,1283.8 1637.0,1284.0 1637.5,1284.2 1638.0,1284.4 1638.5,1284.6 1639.0,1284.8 1639.5,1285.0 1640.0,1285.2 1640.5,1285.4 1641.0,1285.6 1641.5,1285.8 1642.0,1286.0 1642.5,1286.3 1643.0,1286.5 1643.5,1286.7 1644.0,1286.9 1644.5,1287.1 1645.0,1287.3 1645.5,1287.5 1646.0,1287.7 1646.5,1287.9 1647.0,1288.1 1647.5,1288.3 1648.0,1288.5 1648.5,1288.7 1649.0,1288.9 1649.5,1289.1 1650.0,1289.3 1650.5,1289.5 1651.0,1289.7 1651.5,1289.9 1652.0,1290.1 1652.5,1290.3 1653.0,1290.5 1653.5,1290.7 1654.0,1290.9 1654.5,1291.1 1655.0,1291.3 1655.5,1291.5 1656.0,1291.7 1656.5,1291.9 1657.0,1292.1 1657.5,1292.3 1658.0,1292.5 1658.5,1292.7 1659.0,1292.9 1659.5,1293.1 1660.0,1293.3 1660.5,1293.5 1661.0,1293.7 1661.5,1293.9 1662.0,1294.1 1662.5,1294.3 1663.0,1294.5 1663.5,1294.7 1664.0,1294.9 1664.5,1295.1 1665.0,1295.3 1665.5,1295.5 1666.0,1295.7 1666.5,1295.9 1667.0,1296.1 1667.5,1296.3 1668.0,1296.5 1668.5,1296.7 1669.0,1296.9 1669.5,1297.1 1670.0,1297.3 1670.5,1297.5 1671.0,1297.7 1671.5,1297.9 1672.0,1298.1 1672.5,1298.3 1673.0,1298.4 1673.5,1298.6 1674.0,1298.8 1674.5,1299.0 1675.0,1299.2 1675.5,1299.4 1676.0,1299.6 1676.5,1299.8 1677.0,1300.0 1677.5,1300.2 1678.0,1300.4 1678.5,1300.6 1679.0,1300.8 1679.5,1301.0 1680.0,1301.1 1680.5,1301.3 1681.0,1301.5 1681.5,1301.7 1682.0,1301.9 1682.5,1302.1 1683.0,1302.3 1683.5,1302.5 1684.0,1302.7 1684.5,1302.9 1685.0,1303.1 1685.5,1303.2 1686.0,1303.4 1686.5,1303.6 1687.0,1303.8 1687.5,1304.0 1688.0,1304.2 1688.5,1304.4 1689.0,1304.6 1689.5,1304.8 1690.0,1304.9 1690.5,1305.1 1691.0,1305.3 1691.5,1305.5 1692.0,1305.7 1692.5,1305.9 1693.0,1306.1 1693.5,1306.3 1694.0,1306.4 1694.5,1306.6 1695.0,1306.8 1695.5,1307.0 1696.0,1307.2 1696.5,1307.4 1697.0,1307.6 1697.5,1307.7 1698.0,1307.9 1698.5,1308.1 1699.0,1308.3 1699.5,1308.5 1700.0,1308.7 1700.5,1308.8 1701.0,1309.0 1701.5,1309.2 1702.0,1309.4 1702.5,1309.6 1703.0,1309.8 1703.5,1309.9 1704.0,1310.1 1704.5,1310.3 1705.0,1310.5 1705.5,1310.7 1706.0,1310.9 1706.5,1311.0 1707.0,1311.2 1707.5,1311.4 1708.0,1311.6 1708.5,1311.8 1709.0,1311.9 1709.5,1312.1 1710.0,1312.3 1710.5,1312.5 1711.0,1312.7 1711.5,1312.8 1712.0,1313.0 1712.5,1313.2 1713.0,1313.4 1713.5,1313.6 1714.0,1313.7 1714.5,1313.9 1715.0,1314.1 1715.5,1314.3 1716.0,1314.4 1716.5,1314.6 1717.0,1314.8 1717.5,1315.0 1718.0,1315.1 1718.5,1315.3 1719.0,1315.5 1719.5,1315.7 1720.0,1315.9 1720.5,1316.0 1721.0,1316.2 1721.5,1316.4 1722.0,1316.6 1722.5,1316.7 1723.0,1316.9 1723.5,1317.1 1724.0,1317.3 1724.5,1317.4 1725.0,1317.6 1725.5,1317.8 1726.0,1317.9 1726.5,1318.1 1727.0,1318.3 1727.5,1318.5 1728.0,1318.6 1728.5,1318.8 1729.0,1319.0 1729.5,1319.2 1730.0,1319.3 1730.5,1319.5 1731.0,1319.7 1731.5,1319.8 1732.0,1320.0 1732.5,1320.2 1733.0,1320.3 1733.5,1320.5 1734.0,1320.7 1734.5,1320.9 1735.0,1321.0 1735.5,1321.2 1736.0,1321.4 1736.5,1321.5 1737.0,1321.7 1737.5,1321.9 1738.0,1322.0 1738.5,1322.2 1739.0,1322.4 1739.5,1322.5 1740.0,1322.7 1740.5,1322.9 1741.0,1323.0 1741.5,1323.2 1742.0,1323.4 1742.5,1323.5 1743.0,1323.7 1743.5,1323.9 1744.0,1324.0 1744.5,1324.2 1745.0,1324.4 1745.5,1324.5 1746.0,1324.7 1746.5,1324.8 1747.0,1325.0 1747.5,1325.2 1748.0,1325.3 1748.5,1325.5 1749.0,1325.7 1749.5,1325.8 1750.0,1326.0 1750.5,1326.1 1751.0,1326.3 1751.5,1326.5 1752.0,1326.6 1752.5,1326.8 1753.0,1326.9 1753.5,1327.1 1754.0,1327.3 1754.5,1327.4 1755.0,1327.6 1755.5,1327.7 1756.0,1327.9 1756.5,1328.1 1757.0,1328.2 1757.5,1328.4 1758.0,1328.5 1758.5,1328.7 1759.0,1328.9 1759.5,1329.0 1760.0,1329.2 1760.5,1329.3 1761.0,1329.5 1761.5,1329.6 1762.0,1329.8 1762.5,1329.9 1763.0,1330.1 1763.5,1330.3 1764.0,1330.4 1764.5,1330.6 1765.0,1330.7 1765.5,1330.9 1766.0,1331.0 1766.5,1331.2 1767.0,1331.3 1767.5,1331.5 1768.0,1331.6 1768.5,1331.8 1769.0,1331.9 1769.5,1332.1 1770.0,1332.2 1770.5,1332.4 1771.0,1332.5 1771.5,1332.7 1772.0,1332.8 1772.5,1333.0 1773.0,1333.1 1773.5,1333.3 1774.0,1333.4 1774.5,1333.6 1775.0,1333.7 1775.5,1333.9 1776.0,1334.0 1776.5,1334.2 1777.0,1334.3 1777.5,1334.5 1778.0,1334.6 1778.5,1334.8 1779.0,1334.9 1779.5,1335.1 1780.0,1335.2 1780.5,1335.4 1781.0,1335.5 1781.5,1335.7 1782.0,1335.8 1782.5,1335.9 1783.0,1336.1 1783.5,1336.2 1784.0,1336.4 1784.5,1336.5 1785.0,1336.7 1785.5,1336.8 1786.0,1336.9 1786.5,1337.1 1787.0,1337.2 1787.5,1337.4 1788.0,1337.5 1788.5,1337.7 1789.0,1337.8 1789.5,1337.9 1790.0,1338.1 1790.5,1338.2 1791.0,1338.4 1791.5,1338.5 1792.0,1338.6 1792.5,1338.8 1793.0,1338.9 1793.5,1339.0 1794.0,1339.2 1794.5,1339.3 1795.0,1339.5 1795.5,1339.6 1796.0,1339.7 1796.5,1339.9 1797.0,1340.0 1797.5,1340.1 1798.0,1340.3 1798.5,1340.4 1799.0,1340.5 1799.5,1340.7 1800.0,1340.8 1800.5,1340.9 1801.0,1341.1 1801.5,1341.2 1802.0,1341.3 1802.5,1341.5 1803.0,1341.6 1803.5,1341.7 1804.0,1341.9 1804.5,1342.0 1805.0,1342.1 1805.5,1342.3 1806.0,1342.4 1806.5,1342.5 1807.0,1342.7 1807.5,1342.8 1808.0,1342.9 1808.5,1343.0 1809.0,1343.2 1809.5,1343.3 1810.0,1343.4 1810.5,1343.6 1811.0,1343.7 1811.5,1343.8 1812.0,1343.9 1812.5,1344.1 1813.0,1344.2 1813.5,1344.3 1814.0,1344.4 1814.5,1344.6 1815.0,1344.7 1815.5,1344.8 1816.0,1344.9 1816.5,1345.1 1817.0,1345.2 1817.5,1345.3 1818.0,1345.4 1818.5,1345.6 1819.0,1345.7 1819.5,1345.8 1820.0,1345.9 1820.5,1346.0 1821.0,1346.2 1821.5,1346.3 1822.0,1346.4 1822.5,1346.5 1823.0,1346.6 1823.5,1346.8 1824.0,1346.9 1824.5,1347.0 1825.0,1347.1 1825.5,1347.2 1826.0,1347.4 1826.5,1347.5 1827.0,1347.6 1827.5,1347.7 1828.0,1347.8 1828.5,1347.9 1829.0,1348.1 1829.5,1348.2 1830.0,1348.3 1830.5,1348.4 1831.0,1348.5 1831.5,1348.6 1832.0,1348.7 1832.5,1348.9 1833.0,1349.0 1833.5,1349.1 1834.0,1349.2 1834.5,1349.3 1835.0,1349.4 1835.5,1349.5 1836.0,1349.6 1836.5,1349.8 1837.0,1349.9 1837.5,1350.0 1838.0,1350.1 1838.5,1350.2 1839.0,1350.3 1839.5,1350.4 1840.0,1350.5 1840.5,1350.6 1841.0,1350.7 1841.5,1350.8 1842.0,1350.9 1842.5,1351.1 1843.0,1351.2 1843.5,1351.3 1844.0,1351.4 1844.5,1351.5 1845.0,1351.6 1845.5,1351.7 1846.0,1351.8 1846.5,1351.9 1847.0,1352.0 1847.5,1352.1 1848.0,1352.2 1848.5,1352.3 1849.0,1352.4 1849.5,1352.5 1850.0,1352.6 1850.5,1352.7 1851.0,1352.8 1851.5,1352.9 1852.0,1353.0 1852.5,1353.1 1853.0,1353.2 1853.5,1353.3 1854.0,1353.4 1854.5,1353.5 1855.0,1353.6 1855.5,1353.7 1856.0,1353.8 1856.5,1353.9 1857.0,1354.0 1857.5,1354.1 1858.0,1354.2 1858.5,1354.3 1859.0,1354.4 1859.5,1354.5 1860.0,1354.6 1860.5,1354.6 1861.0,1354.7 1861.5,1354.8 1862.0,1354.9 1862.5,1355.0 1863.0,1355.1 1863.5,1355.2 1864.0,1355.3 1864.5,1355.4 1865.0,1355.5 1865.5,1355.6 1866.0,1355.6 1866.5,1355.7 1867.0,1355.8 1867.5,1355.9 1868.0,1356.0"/>
<path stroke="#ff8000" d="M215.0,952.7L215.5,951.8 216.0,950.9 216.5,950.1 217.0,949.2 217.5,948.4 218.0,947.5 218.5,946.7 219.0,945.8 219.5,945.0 220.0,944.1 220.5,943.3 221.0,942.5 221.5,941.6 222.0,940.8 222.5,940.0 223.0,939.1 223.5,938.3 224.0,937.5 224.5,936.7 225.0,935.9 225.5,935.1 226.0,934.3 226.5,933.5 227.0,932.7 227.5,931.9 228.0,931.1 228.5,930.3 229.0,929.5 229.5,928.7 230.0,927.9 230.5,927.2 231.0,926.4 231.5,925.6 232.0,924.8 232.5,924.1 233.0,923.3 233.5,922.5 234.0,921.8 234.5,921.0 235.0,920.3 235.5,919.5 236.0,918.8 236.5,918.1 237.0,917.3 237.5,916.6 238.0,915.8 238.5,915.1 239.0,914.4 239.5,913.7 240.0,913.0 240.5,912.2 241.0,911.5 241.5,910.8 242.0,910.1 242.5,909.4 243.0,908.7 243.5,908.0 244.0,907.3 244.5,906.7 245.0,906.0 245.5,905.3 246.0,904.6 246.5,904.0 247.0,903.3 247.5,902.6 248.0,902.0 248.5,901.3 249.0,900.6 249.5,900.0 250.0,899.4 250.5,898.7 251.0,898.1 251.5,897.4 252.0,896.8 252.5,896.2 253.0,895.6 253.5,894.9 254.0,894.3 254.5,893.7 255.0,893.1 255.5,892.5 256.0,891.9 256.5,891.3 257.0,890.7 257.5,890.1 258.0,889.5 258.5,889.0 259.0,888.4 259.5,887.8 260.0,887.2 260.5,886.7 261.0,886.1 261.5,885.6 262.0,885.0 262.5,884.5 263.0,883.9 263.5,883.4 264.0,882.8 264.5,882.3 265.0,881.8 265.5,881.2 266.0,880.7 266.5,880.2 267.0,879.7 267.5,879.2 268.0,878.7 268.5,878.2 269.0,877.7 269.5,877.2 270.0,876.7 270.5,876.2 271.0,875.8 271.5,875.3 272.0,874.8 272.5,874.4 273.0,873.9 273.5,873.5 274.0,873.0 274.5,872.6 275.0,872.1 275.5,871.7 276.0,871.3 276.5,870.8 277.0,870.4 277.5,870.0 278.0,869.6 278.5,869.2 279.0,868.8 279.5,868.4 280.0,868.0 280.5,867.6 281.0,867.2 281.5,866.8 282.0,866.4 282.5,866.1 283.0,865.7 283.5,865.3 284.0,865.0 284.5,864.6 285.0,864.3 285.5,863.9 286.0,863.6 286.5,863.3 287.0,862.9 287.5,862.6 288.0,862.3 288.5,862.0 289.0,861.7 289.5,861.4 290.0,861.1 290.5,860.8 291.0,860.5 291.5,860.2 292.0,859.9 292.5,859.7 293.0,859.4 293.5,859.1 294.0,858.9 294.5,858.6 295.0,858.4 295.5,858.1 296.0,857.9 296.5,857.7 297.0,857.4 297.5,857.2 298.0,857.0 298.5,856.8 299.0,856.6 299.5,856.4 300.0,856.2 300.5,856.0 301.0,855.8 301.5,855.6 302.0,855.5 302.5,855.3 303.0,855.1 303.5,855.0 304.0,854.8 304.5,854.7 305.0,854.5 305.5,854.4 306.0,854.3 306.5,854.2 307.0,854.0 307.5,853.9 308.0,853.8 308.5,853.7 309.0,853.6 309.5,853.5 310.0,853.4 310.5,853.4 311.0,853.3 311.5,853.2 312.0,853.2 312.5,853.1 313.0,853.1 313.5,853.0 314.0,853.0 314.5,852.9 315.0,852.9 315.5,852.9 316.0,852.9 316.5,852.9 317.0,852.9 317.5,852.9 318.0,852.9 318.5,852.9 319.0,852.9 319.5,852.9 320.0,852.9 320.5,853.0 321.0,853.0 321.5,853.1 322.0,853.1 322.5,853.2 323.0,853.3 323.5,853.3 324.0,853.4 324.5,853.5 325.0,853.6 325.5,853.7 326.0,853.8 326.5,853.9 327.0,854.0 327.5,854.1 328.0,854.3 328.5,854.4 329.0,854.5 329.5,854.7 330.0,854.8 330.5,855.0 331.0,855.2 331.5,855.3 332.0,855.5 332.5,855.7 333.0,855.9 333.5,856.1 334.0,856.3 334.5,856.5 335.0,856.7 335.5,856.9 336.0,857.2 336.5,857.4 337.0,857.6 337.5,857.9 338.0,858.1 338.5,858.4 339.0,858.7 339.5,858.9 340.0,859.2 340.5,859.5 341.0,859.8 341.5,860.1 342.0,860.4 342.5,860.7 343.0,861.1 343.5,861.4 344.0,861.7 344.5,862.1 345.0,862.4 345.5,862.8 346.0,863.1 346.5,863.5 347.0,863.8 347.5,864.2 348.0,864.6 348.5,865.0 349.0,865.4 349.5,865.8 350.0,866.2 350.5,866.6 351.0,867.0 351.5,867.5 352.0,867.9 352.5,868.3 353.0,868.8 353.5,869.2 354.0,869.7 354.5,870.1 355.0,870.6 355.5,871.0 356.0,871.5 356.5,872.0 357.0,872.5 357.5,873.0 358.0,873.5 358.5,874.0 359.0,874.5 359.5,875.0 360.0,875.5 360.5,876.0 361.0,876.5 361.5,877.1 362.0,877.6 362.5,878.1 363.0,878.7 363.5,879.2 364.0,879.8 364.5,880.3 365.0,880.9 365.5,881.5 366.0,882.0 366.5,882.6 367.0,883.2 367.5,883.8 368.0,884.4 368.5,885.0 369.0,885.6 369.5,886.2 370.0,886.8 370.5,887.4 371.0,888.0 371.5,888.6 372.0,889.3 372.5,889.9 373.0,890.5 373.5,891.1 374.0,891.8 374.5,892.4 375.0,893.1 375.5,893.7 376.0,894.4 376.5,895.0 377.0,895.7 377.5,896.4 378.0,897.0 378.5,897.7 379.0,898.4 379.5,899.1 380.0,899.7 380.5,900.4 381.0,901.1 381.5,901.8 382.0,902.5 382.5,903.2 383.0,903.9 383.5,904.6 384.0,905.3 384.5,906.0 385.0,906.7 385.5,907.5 386.0,908.2 386.5,908.9 387.0,909.6 387.5,910.3 388.0,911.1 388.5,911.8 389.0,912.5 389.5,913.3 390.0,914.0 390.5,914.8 391.0,915.5 391.5,916.3 392.0,917.0 392.5,917.8 393.0,918.5 393.5,919.3 394.0,920.0 394.5,920.8 395.0,921.6 395.5,922.3 396.0,923.1 396.5,923.9 397.0,924.7 397.5,925.4 398.0,926.2 398.5,927.0 399.0,927.8 399.5,928.5 400.0,929.3 400.5,930.1 401.0,930.9 401.5,931.7 402.0,932.5 402.5,933.3 403.0,934.1 403.5,934.9 404.0,935.7 404.5,936.5 405.0,937.2 405.5,938.0 406.0,938.9 406.5,939.7 407.0,940.5 407.5,941.3 408.0,942.1 408.5,942.9 409.0,943.7 409.5,944.5 410.0,945.3 410.5,946.1 411.0,946.9 411.5,947.7 412.0,948.5 412.5,949.4 413.0,950.2 413.5,951.0 414.0,951.8 414.5,952.6 415.0,953.4 415.5,954.3 416.0,955.1 416.5,955.9 417.0,956.7 417.5,957.5 418.0,958.3 418.5,959.2 419.0,960.0 419.5,960.8 420.0,961.6 420.5,962.4 421.0,963.2 421.5,964.0 422.0,964.8 422.5,965.7 423.0,966.5 423.5,967.3 424.0,968.1 424.5,968.9 425.0,969.7 425.5,970.5 426.0,971.3 426.5,972.1 427.0,972.9 427.5,973.7 428.0,974.5 428.5,975.3 429.0,976.0 429.5,976.8 430.0,977.6 430.5,978.4 431.0,979.2 431.5,979.9 432.0,980.7 432.5,981.5 433.0,982.2 433.5,983.0 434.0,983.8 434.5,984.5 435.0,985.3 435.5,986.0 436.0,986.8 436.5,987.5 437.0,988.2 437.5,989.0 438.0,989.7 438.5,990.5 439.0,991.2 439.5,991.9 440.0,992.6 440.5,993.4 441.0,994.1 441.5,994.8 442.0,995.5 442.5,996.2 443.0,996.9 443.5,997.6 444.0,998.3 444.5,999.0 445.0,999.7 445.5,1000.4 446.0,1001.1 446.5,1001.8 447.0,1002.5 447.5,1003.2 448.0,1003.9 448.5,1004.5 449.0,1005.2 449.5,1005.9 450.0,1006.6 450.5,1007.2 451.0,1007.9 451.5,1008.5 452.0,1009.2 452.5,1009.9 453.0,1010.5 453.5,1011.2 454.0,1011.8 454.5,1012.5 455.0,1013.1 455.5,1013.8 456.0,1014.4 456.5,1015.0 457.0,1015.7 457.5,1016.3 458.0,1016.9 458.5,1017.6 459.0,1018.2 459.5,1018.8 460.0,1019.4 460.5,1020.1 461.0,1020.7 461.5,1021.3 462.0,1021.9 462.5,1022.5 463.0,1023.1 463.5,1023.7 464.0,1024.3 464.5,1024.9 465.0,1025.5 465.5,1026.1 466.0,1026.7 466.5,1027.3 467.0,1027.9 467.5,1028.5 468.0,1029.0 468.5,1029.6 469.0,1030.2 469.5,1030.8 470.0,1031.4 470.5,1031.9 471.0,1032.5 471.5,1033.1 472.0,1033.6 472.5,1034.2 473.0,1034.8 473.5,1035.3 474.0,1035.9 474.5,1036.4 475.0,1037.0 475.5,1037.5 476.0,1038.1 476.5,1038.6 477.0,1039.2 477.5,1039.7 478.0,1040.3 478.5,1040.8 479.0,1041.3 479.5,1041.9 480.0,1042.4 480.5,1042.9 481.0,1043.5 481.5,1044.0 482.0,1044.5 482.5,1045.0 483.0,1045.6 483.5,1046.1 484.0,1046.6 484.5,1047.1 485.0,1047.6 485.5,1048.1 486.0,1048.7 486.5,1049.2 487.0,1049.7 487.5,1050.2 488.0,1050.7 488.5,1051.2 489.0,1051.7 489.5,1052.2 490.0,1052.7 490.5,1053.2 491.0,1053.7 491.5,1054.1 492.0,1054.6 492.5,1055.1 493.0,1055.6 493.5,1056.1 494.0,1056.6 494.5,1057.1 495.0,1057.5 495.5,1058.0 496.0,1058.5 496.5,1059.0 497.0,1059.4 497.5,1059.9 498.0,1060.4 498.5,1060.8 499.0,1061.3 499.5,1061.8 500.0,1062.2 500.5,1062.7 501.0,1063.1 501.5,1063.6 502.0,1064.0 502.5,1064.5 503.0,1064.9 503.5,1065.4 504.0,1065.8 504.5,1066.3 505.0,1066.7 505.5,1067.2 506.0,1067.6 506.5,1068.1 507.0,1068.5 507.5,1068.9 508.0,1069.4 508.5,1069.8 509.0,1070.2 509.5,1070.6 510.0,1071.1 510.5,1071.5 511.0,1071.9 511.5,1072.3 512.0,1072.7 512.5,1073.2 513.0,1073.6 513.5,1074.0 514.0,1074.4 514.5,1074.8 515.0,1075.2 515.5,1075.6 516.0,1076.0 516.5,1076.4 517.0,1076.8 517.5,1077.2 518.0,1077.6 518.5,1078.0 519.0,1078.4 519.5,1078.8 520.0,1079.2 520.5,1079.5 521.0,1079.9 521.5,1080.3 522.0,1080.7 522.5,1081.1 523.0,1081.4 523.5,1081.8 524.0,1082.2 524.5,1082.5 525.0,1082.9 525.5,1083.3 526.0,1083.6 526.5,1084.0 527.0,1084.3 527.5,1084.7 528.0,1085.0 528.5,1085.4 529.0,1085.7 529.5,1086.1 530.0,1086.4 530.5,1086.8 531.0,1087.1 531.5,1087.4 532.0,1087.8 532.5,1088.1 533.0,1088.4 533.5,1088.8 534.0,1089.1 534.5,1089.4 535.0,1089.7 535.5,1090.0 536.0,1090.3 536.5,1090.7 537.0,1091.0 537.5,1091.3 538.0,1091.6 538.5,1091.9 539.0,1092.2 539.5,1092.5 540.0,1092.8 540.5,1093.1 541.0,1093.4 541.5,1093.6 542.0,1093.9 542.5,1094.2 543.0,1094.5 543.5,1094.8 544.0,1095.0 544.5,1095.3 545.0,1095.6 545.5,1095.9 546.0,1096.1 546.5,1096.4 547.0,1096.6 547.5,1096.9 548.0,1097.2 548.5,1097.4 549.0,1097.7 549.5,1097.9 550.0,1098.1 550.5,1098.4 551.0,1098.6 551.5,1098.9 552.0,1099.1 552.5,1099.3 553.0,1099.6 553.5,1099.8 554.0,1100.0 554.5,1100.2 555.0,1100.4 555.5,1100.7 556.0,1100.9 556.5,1101.1 557.0,1101.3 557.5,1101.5 558.0,1101.7 558.5,1101.9 559.0,1102.1 559.5,1102.3 560.0,1102.5 560.5,1102.7 561.0,1102.8 561.5,1103.0 562.0,1103.2 562.5,1103.4 563.0,1103.5 563.5,1103.7 564.0,1103.9 564.5,1104.0 565.0,1104.2 565.5,1104.4 566.0,1104.5 566.5,1104.7 567.0,1104.8 567.5,1105.0 568.0,1105.1 568.5,1105.3 569.0,1105.4 569.5,1105.5 570.0,1105.7 570.5,1105.8 571.0,1105.9 571.5,1106.0 572.0,1106.2 572.5,1106.3 573.0,1106.4 573.5,1106.5 574.0,1106.6 574.5,1106.7 575.0,1106.8 575.5,1106.9 576.0,1107.0 576.5,1107.1 577.0,1107.2 577.5,1107.3 578.0,1107.3 578.5,1107.4 579.0,1107.5 579.5,1107.6 580.0,1107.6 580.5,1107.7 581.0,1107.8 581.5,1107.8 582.0,1107.9 582.5,1107.9 583.0,1108.0 583.5,1108.0 584.0,1108.1 584.5,1108.1 585.0,1108.2 585.5,1108.2 586.0,1108.2 586.5,1108.3 587.0,1108.3 587.5,1108.3 588.0,1108.3 588.5,1108.3 589.0,1108.3 589.5,1108.4 590.0,1108.4 590.5,1108.4 591.0,1108.4 591.5,1108.3 592.0,1108.3 592.5,1108.3 593.0,1108.3 593.5,1108.3 594.0,1108.3 594.5,1108.2 595.0,1108.2 595.5,1108.2 596.0,1108.1 596.5,1108.1 597.0,1108.1 597.5,1108.0 598.0,1108.0 598.5,1107.9 599.0,1107.9 599.5,1107.8 600.0,1107.7 600.5,1107.7 601.0,1107.6 601.5,1107.5 602.0,1107.5 602.5,1107.4 603.0,1107.3 603.5,1107.2 604.0,1107.1 604.5,1107.0 605.0,1106.9 605.5,1106.8 606.0,1106.7 606.5,1106.6 607.0,1106.5 607.5,1106.4 608.0,1106.3 608.5,1106.2 609.0,1106.1 609.5,1105.9 610.0,1105.8 610.5,1105.7 611.0,1105.6 611.5,1105.4 612.0,1105.3 612.5,1105.1 613.0,1105.0 613.5,1104.8 614.0,1104.7 614.5,1104.5 615.0,1104.4 615.5,1104.2 616.0,1104.1 616.5,1103.9 617.0,1103.7 617.5,1103.6 618.0,1103.4 618.5,1103.2 619.0,1103.0 619.5,1102.8 620.0,1102.7 620.5,1102.5 621.0,1102.3 621.5,1102.1 622.0,1101.9 622.5,1101.7 623.0,1101.5 623.5,1101.3 624.0,1101.1 624.5,1100.8 625.0,1100.6 625.5,1100.4 626.0,1100.2 626.5,1100.0 627.0,1099.7 627.5,1099.5 628.0,1099.3 628.5,1099.0 629.0,1098.8 629.5,1098.5 630.0,1098.3 630.5,1098.1 631.0,1097.8 631.5,1097.5 632.0,1097.3 632.5,1097.0 633.0,1096.8 633.5,1096.5 634.0,1096.2 634.5,1096.0 635.0,1095.7 635.5,1095.4 636.0,1095.1 636.5,1094.9 637.0,1094.6 637.5,1094.3 638.0,1094.0 638.5,1093.7 639.0,1093.4 639.5,1093.1 640.0,1092.8 640.5,1092.5 641.0,1092.2 641.5,1091.9 642.0,1091.6 642.5,1091.3 643.0,1091.0 643.5,1090.6 644.0,1090.3 644.5,1090.0 645.0,1089.7 645.5,1089.3 646.0,1089.0 646.5,1088.7 647.0,1088.3 647.5,1088.0 648.0,1087.6 648.5,1087.3 649.0,1087.0 649.5,1086.6 650.0,1086.3 650.5,1085.9 651.0,1085.5 651.5,1085.2 652.0,1084.8 652.5,1084.5 653.0,1084.1 653.5,1083.7 654.0,1083.4 654.5,1083.0 655.0,1082.6 655.5,1082.3 656.0,1081.9 656.5,1081.5 657.0,1081.1 657.5,1080.7 658.0,1080.3 658.5,1080.0 659.0,1079.6 659.5,1079.2 660.0,1078.8 660.5,1078.4 661.0,1078.0 661.5,1077.6 662.0,1077.2 662.5,1076.8 663.0,1076.4 663.5,1076.0 664.0,1075.6 664.5,1075.2 665.0,1074.8 665.5,1074.4 666.0,1073.9 666.5,1073.5 667.0,1073.1 667.5,1072.7 668.0,1072.3 668.5,1071.8 669.0,1071.4 669.5,1071.0 670.0,1070.6 670.5,1070.1 671.0,1069.7 671.5,1069.3 672.0,1068.9 672.5,1068.4 673.0,1068.0 673.5,1067.5 674.0,1067.1 674.5,1066.7 675.0,1066.2 675.5,1065.8 676.0,1065.3 676.5,1064.9 677.0,1064.5 677.5,1064.0 678.0,1063.6 678.5,1063.1 679.0,1062.7 679.5,1062.2 680.0,1061.8 680.5,1061.3 681.0,1060.9 681.5,1060.4 682.0,1060.0 682.5,1059.5 683.0,1059.0 683.5,1058.6 684.0,1058.1 684.5,1057.7 685.0,1057.2 685.5,1056.7 686.0,1056.3 686.5,1055.8 687.0,1055.4 687.5,1054.9 688.0,1054.4 688.5,1054.0 689.0,1053.5 689.5,1053.0 690.0,1052.6 690.5,1052.1 691.0,1051.6 691.5,1051.1 692.0,1050.7 692.5,1050.2 693.0,1049.7 693.5,1049.3 694.0,1048.8 694.5,1048.3 695.0,1047.8 695.5,1047.4 696.0,1046.9 696.5,1046.4 697.0,1045.9 697.5,1045.5 698.0,1045.0 698.5,1044.5 699.0,1044.0 699.5,1043.6 700.0,1043.1 700.5,1042.6 701.0,1042.1 701.5,1041.7 702.0,1041.2 702.5,1040.7 703.0,1040.2 703.5,1039.8 704.0,1039.3 704.5,1038.8 705.0,1038.3 705.5,1037.8 706.0,1037.4 706.5,1036.9 707.0,1036.4 707.5,1035.9 708.0,1035.5 708.5,1035.0 709.0,1034.5 709.5,1034.0 710.0,1033.5 710.5,1033.1 711.0,1032.6 711.5,1032.1 712.0,1031.6 712.5,1031.2 713.0,1030.7 713.5,1030.2 714.0,1029.7 714.5,1029.3 715.0,1028.8 715.5,1028.3 716.0,1027.9 716.5,1027.4 717.0,1026.9 717.5,1026.4 718.0,1026.0 718.5,1025.5 719.0,1025.0 719.5,1024.6 720.0,1024.1 720.5,1023.6 721.0,1023.2 721.5,1022.7 722.0,1022.2 722.5,1021.8 723.0,1021.3 723.5,1020.8 724.0,1020.4 724.5,1019.9 725.0,1019.4 725.5,1019.0 726.0,1018.5 726.5,1018.1 727.0,1017.6 727.5,1017.2 728.0,1016.7 728.5,1016.2 729.0,1015.8 729.5,1015.3 730.0,1014.9 730.5,1014.4 731.0,1014.0 731.5,1013.5 732.0,1013.1 732.5,1012.6 733.0,1012.2 733.5,1011.8 734.0,1011.3 734.5,1010.9 735.0,1010.4 735.5,1010.0 736.0,1009.6 736.5,1009.1 737.0,1008.7 737.5,1008.2 738.0,1007.8 738.5,1007.4 739.0,1006.9 739.5,1006.5 740.0,1006.1 740.5,1005.7 741.0,1005.2 741.5,1004.8 742.0,1004.4 742.5,1004.0 743.0,1003.5 743.5,1003.1 744.0,1002.7 744.5,1002.3 745.0,1001.8 745.5,1001.4 746.0,1001.0 746.5,1000.6 747.0,1000.2 747.5,999.7 748.0,999.3 748.5,998.9 749.0,998.5 749.5,998.1 750.0,997.7 750.5,997.3 751.0,996.8 751.5,996.4 752.0,996.0 752.5,995.6 753.0,995.2 753.5,994.8 754.0,994.4 754.5,994.0 755.0,993.6 755.5,993.2 756.0,992.7 756.5,992.3 757.0,991.9 757.5,991.5 758.0,991.1 758.5,990.7 759.0,990.3 759.5,989.9 760.0,989.5 760.5,989.1 761.0,988.7 761.5,988.3 762.0,987.9 762.5,987.5 763.0,987.1 763.5,986.7 764.0,986.3 764.5,985.9 765.0,985.5 765.5,985.1 766.0,984.7 766.5,984.3 767.0,983.9 767.5,983.5 768.0,983.1 768.5,982.7 769.0,982.3 769.5,981.9 770.0,981.5 770.5,981.1 771.0,980.7 771.5,980.3 772.0,979.9 772.5,979.5 773.0,979.1 773.5,978.7 774.0,978.3 774.5,977.9 775.0,977.5 775.5,977.0 776.0,976.6 776.5,976.2 777.0,975.8 777.5,975.4 778.0,975.0 778.5,974.6 779.0,974.2 779.5,973.8 780.0,973.4 780.5,973.0 781.0,972.6 781.5,972.2 782.0,971.8 782.5,971.4 783.0,971.0 783.5,970.6 784.0,970.2 784.5,969.8 785.0,969.3 785.5,968.9 786.0,968.5 786.5,968.1 787.0,967.7 787.5,967.3 788.0,966.9 788.5,966.5 789.0,966.1 789.5,965.6 790.0,965.2 790.5,964.8 791.0,964.4 791.5,964.0 792.0,963.6 792.5,963.1 793.0,962.7 793.5,962.3 794.0,961.9 794.5,961.5 795.0,961.0 795.5,960.6 796.0,960.2 796.5,959.8 797.0,959.3 797.5,958.9 798.0,958.5 798.5,958.1 799.0,957.6 799.5,957.2 800.0,956.8 800.5,956.3 801.0,955.9 801.5,955.5 802.0,955.0 802.5,954.6 803.0,954.2 803.5,953.7 804.0,953.3 804.5,952.8 805.0,952.4 805.5,952.0 806.0,951.5 806.5,951.1 807.0,950.6 807.5,950.2 808.0,949.7 808.5,949.3 809.0,948.8 809.5,948.4 810.0,947.9 810.5,947.5 811.0,947.0 811.5,946.5 812.0,946.1 812.5,945.6 813.0,945.2 813.5,944.7 814.0,944.2 814.5,943.8 815.0,943.3 815.5,942.8 816.0,942.4 816.5,941.9 817.0,941.4 817.5,940.9 818.0,940.5 818.5,940.0 819.0,939.5 819.5,939.0 820.0,938.6 820.5,938.1 821.0,937.6 821.5,937.1 822.0,936.6 822.5,936.1 823.0,935.7 823.5,935.2 824.0,934.7 824.5,934.2 825.0,933.7 825.5,933.2 826.0,932.7 826.5,932.3 827.0,931.8 827.5,931.3 828.0,930.8 828.5,930.3 829.0,929.8 829.5,929.3 830.0,928.8 830.5,928.3 831.0,927.8 831.5,927.3 832.0,926.8 832.5,926.4 833.0,925.9 833.5,925.4 834.0,924.9 834.5,924.4 835.0,923.9 835.5,923.4 836.0,922.9 836.5,922.4 837.0,921.9 837.5,921.4 838.0,920.9 838.5,920.4 839.0,919.9 839.5,919.4 840.0,919.0 840.5,918.5 841.0,918.0 841.5,917.5 842.0,917.0 842.5,916.5 843.0,916.0 843.5,915.5 844.0,915.0 844.5,914.5 845.0,914.0 845.5,913.6 846.0,913.1 846.5,912.6 847.0,912.1 847.5,911.6 848.0,911.1 848.5,910.6 849.0,910.2 849.5,909.7 850.0,909.2 850.5,908.7 851.0,908.2 851.5,907.8 852.0,907.3 852.5,906.8 853.0,906.3 853.5,905.9 854.0,905.4 854.5,904.9 855.0,904.4 855.5,904.0 856.0,903.5 856.5,903.0 857.0,902.6 857.5,902.1 858.0,901.6 858.5,901.2 859.0,900.7 859.5,900.3 860.0,899.8 860.5,899.3 861.0,898.9 861.5,898.4 862.0,898.0 862.5,897.5 863.0,897.1 863.5,896.6 864.0,896.2 864.5,895.8 865.0,895.3 865.5,894.9 866.0,894.4 866.5,894.0 867.0,893.6 867.5,893.1 868.0,892.7 868.5,892.3 869.0,891.8 869.5,891.4 870.0,891.0 870.5,890.6 871.0,890.2 871.5,889.7 872.0,889.3 872.5,888.9 873.0,888.5 873.5,888.1 874.0,887.7 874.5,887.3 875.0,886.9 875.5,886.5 876.0,886.1 876.5,885.7 877.0,885.3 877.5,884.9 878.0,884.6 878.5,884.2 879.0,883.8 879.5,883.4 880.0,883.0 880.5,882.7 881.0,882.3 881.5,881.9 882.0,881.6 882.5,881.2 883.0,880.9 883.5,880.5 884.0,880.2 884.5,879.8 885.0,879.5 885.5,879.1 886.0,878.8 886.5,878.4 887.0,878.1 887.5,877.8 888.0,877.5 888.5,877.1 889.0,876.8 889.5,876.5 890.0,876.2 890.5,875.9 891.0,875.6 891.5,875.3 892.0,875.0 892.5,874.7 893.0,874.4 893.5,874.1 894.0,873.9 894.5,873.6 895.0,873.3 895.5,873.0 896.0,872.8 896.5,872.5 897.0,872.3 897.5,872.0 898.0,871.8 898.5,871.6 899.0,871.3 899.5,871.1 900.0,870.9 900.5,870.7 901.0,870.5 901.5,870.3 902.0,870.1 902.5,869.9 903.0,869.7 903.5,869.5 904.0,869.3 904.5,869.2 905.0,869.0 905.5,868.8 906.0,868.7 906.5,868.6 907.0,868.4 907.5,868.3 908.0,868.2 908.5,868.0 909.0,867.9 909.5,867.8 910.0,867.7 910.5,867.6 911.0,867.5 911.5,867.5 912.0,867.4 912.5,867.3 913.0,867.3 913.5,867.2 914.0,867.2 914.5,867.1 915.0,867.1 915.5,867.1 916.0,867.1 916.5,867.1 917.0,867.1 917.5,867.1 918.0,867.1 918.5,867.1 919.0,867.2 919.5,867.2 920.0,867.3 920.5,867.3 921.0,867.4 921.5,867.5 922.0,867.6 922.5,867.6 923.0,867.7 923.5,867.9 924.0,868.0 924.5,868.1 925.0,868.2 925.5,868.4 926.0,868.5 926.5,868.7 927.0,868.9 927.5,869.1 928.0,869.2 928.5,869.4 929.0,869.7 929.5,869.9 930.0,870.1 930.5,870.3 931.0,870.6 931.5,870.8 932.0,871.1 932.5,871.3 933.0,871.6 933.5,871.9 934.0,872.2 934.5,872.5 935.0,872.8 935.5,873.1 936.0,873.4 936.5,873.7 937.0,874.1 937.5,874.4 938.0,874.8 938.5,875.1 939.0,875.5 939.5,875.9 940.0,876.3 940.5,876.6 941.0,877.0 941.5,877.4 942.0,877.9 942.5,878.3 943.0,878.7 943.5,879.1 944.0,879.6 944.5,880.0 945.0,880.5 945.5,880.9 946.0,881.4 946.5,881.8 947.0,882.3 947.5,882.8 948.0,883.3 948.5,883.8 949.0,884.3 949.5,884.8 950.0,885.3 950.5,885.8 951.0,886.4 951.5,886.9 952.0,887.5 952.5,888.0 953.0,888.5 953.5,889.1 954.0,889.7 954.5,890.2 955.0,890.8 955.5,891.4 956.0,892.0 956.5,892.6 957.0,893.2 957.5,893.8 958.0,894.4 958.5,895.0 959.0,895.6 959.5,896.2 960.0,896.9 960.5,897.5 961.0,898.1 961.5,898.8 962.0,899.4 962.5,900.1 963.0,900.7 963.5,901.4 964.0,902.1 964.5,902.7 965.0,903.4 965.5,904.1 966.0,904.8 966.5,905.5 967.0,906.1 967.5,906.8 968.0,907.5 968.5,908.2 969.0,909.0 969.5,909.7 970.0,910.4 970.5,911.1 971.0,911.8 971.5,912.6 972.0,913.3 972.5,914.0 973.0,914.8 973.5,915.5 974.0,916.3 974.5,917.0 975.0,917.8 975.5,918.5 976.0,919.3 976.5,920.0 977.0,920.8 977.5,921.6 978.0,922.4 978.5,923.1 979.0,923.9 979.5,924.7 980.0,925.5 980.5,926.3 981.0,927.0 981.5,927.8 982.0,928.6 982.5,929.4 983.0,930.2 983.5,931.0 984.0,931.8 984.5,932.6 985.0,933.5 985.5,934.3 986.0,935.1 986.5,935.9 987.0,936.7 987.5,937.5 988.0,938.3 988.5,939.2 989.0,940.0 989.5,940.8 990.0,941.7 990.5,942.5 991.0,943.3 991.5,944.1 992.0,945.0 992.5,945.8 993.0,946.7 993.5,947.5 994.0,948.3 994.5,949.2 995.0,950.0 995.5,950.9 996.0,951.7 996.5,952.5 997.0,953.4 997.5,954.2 998.0,955.1 998.5,955.9 999.0,956.8 999.5,957.6 1000.0,958.5 1000.5,959.3 1001.0,960.2 1001.5,961.0 1002.0,961.9 1002.5,962.7 1003.0,963.6 1003.5,964.4 1004.0,965.3 1004.5,966.1 1005.0,967.0 1005.5,967.8 1006.0,968.7 1006.5,969.5 1007.0,970.4 1007.5,971.2 1008.0,972.1 1008.5,972.9 1009.0,973.8 1009.5,974.6 1010.0,975.5 1010.5,976.3 1011.0,977.2 1011.5,978.0 1012.0,978.9 1012.5,979.7 1013.0,980.6 1013.5,981.4 1014.0,982.2 1014.5,983.1 1015.0,983.9 1015.5,984.8 1016.0,985.6 1016.5,986.4 1017.0,987.3 1017.5,988.1 1018.0,988.9 1018.5,989.8 1019.0,990.6 1019.5,991.4 1020.0,992.2 1020.5,993.1 1021.0,993.9 1021.5,994.7 1022.0,995.5 1022.5,996.3 1023.0,997.1 1023.5,998.0 1024.0,998.8 1024.5,999.6 1025.0,1000.4 1025.5,1001.2 1026.0,1002.0 1026.5,1002.8 1027.0,1003.6 1027.5,1004.4 1028.0,1005.1 1028.5,1005.9 1029.0,1006.7 1029.5,1007.5 1030.0,1008.3 1030.5,1009.1 1031.0,1009.8 1031.5,1010.6 1032.0,1011.4 1032.5,1012.2 1033.0,1012.9 1033.5,1013.7 1034.0,1014.4 1034.5,1015.2 1035.0,1016.0 1035.5,1016.7 1036.0,1017.5 1036.5,1018.2 1037.0,1019.0 1037.5,1019.7 1038.0,1020.5 1038.5,1021.2 1039.0,1022.0 1039.5,1022.7 1040.0,1023.4 1040.5,1024.2 1041.0,1024.9 1041.5,1025.6 1042.0,1026.4 1042.5,1027.1 1043.0,1027.8 1043.5,1028.5 1044.0,1029.3 1044.5,1030.0 1045.0,1030.7 1045.5,1031.4 1046.0,1032.1 1046.5,1032.9 1047.0,1033.6 1047.5,1034.3 1048.0,1035.0 1048.5,1035.7 1049.0,1036.4 1049.5,1037.1 1050.0,1037.8 1050.5,1038.5 1051.0,1039.2 1051.5,1039.9 1052.0,1040.6 1052.5,1041.3 1053.0,1041.9 1053.5,1042.6 1054.0,1043.3 1054.5,1044.0 1055.0,1044.7 1055.5,1045.4 1056.0,1046.0 1056.5,1046.7 1057.0,1047.4 1057.5,1048.1 1058.0,1048.7 1058.5,1049.4 1059.0,1050.1 1059.5,1050.7 1060.0,1051.4 1060.5,1052.1 1061.0,1052.7 1061.5,1053.4 1062.0,1054.0 1062.5,1054.7 1063.0,1055.3 1063.5,1056.0 1064.0,1056.7 1064.5,1057.3 1065.0,1058.0 1065.5,1058.6 1066.0,1059.2 1066.5,1059.9 1067.0,1060.5 1067.5,1061.2 1068.0,1061.8 1068.5,1062.4 1069.0,1063.1 1069.5,1063.7 1070.0,1064.4 1070.5,1065.0 1071.0,1065.6 1071.5,1066.2 1072.0,1066.9 1072.5,1067.5 1073.0,1068.1 1073.5,1068.8 1074.0,1069.4 1074.5,1070.0 1075.0,1070.6 1075.5,1071.2 1076.0,1071.9 1076.5,1072.5 1077.0,1073.1 1077.5,1073.7 1078.0,1074.3 1078.5,1074.9 1079.0,1075.5 1079.5,1076.1 1080.0,1076.7 1080.5,1077.4 1081.0,1078.0 1081.5,1078.6 1082.0,1079.2 1082.5,1079.8 1083.0,1080.4 1083.5,1081.0 1084.0,1081.6 1084.5,1082.2 1085.0,1082.8 1085.5,1083.3 1086.0,1083.9 1086.5,1084.5 1087.0,1085.1 1087.5,1085.7 1088.0,1086.3 1088.5,1086.9 1089.0,1087.5 1089.5,1088.1 1090.0,1088.6 1090.5,1089.2 1091.0,1089.8 1091.5,1090.4 1092.0,1091.0 1092.5,1091.6 1093.0,1092.1 1093.5,1092.7 1094.0,1093.3 1094.5,1093.9 1095.0,1094.4 1095.5,1095.0 1096.0,1095.6 1096.5,1096.2 1097.0,1096.7 1097.5,1097.3 1098.0,1097.9 1098.5,1098.4 1099.0,1099.0 1099.5,1099.6 1100.0,1100.1 1100.5,1100.7 1101.0,1101.3 1101.5,1101.8 1102.0,1102.4 1102.5,1103.0 1103.0,1103.5 1103.5,1104.1 1104.0,1104.6 1104.5,1105.2 1105.0,1105.8 1105.5,1106.3 1106.0,1106.9 1106.5,1107.4 1107.0,1108.0 1107.5,1108.5 1108.0,1109.1 1108.5,1109.7 1109.0,1110.2 1109.5,1110.8 1110.0,1111.3 1110.5,1111.9 1111.0,1112.4 1111.5,1113.0 1112.0,1113.5 1112.5,1114.1 1113.0,1114.6 1113.5,1115.2 1114.0,1115.7 1114.5,1116.3 1115.0,1116.8 1115.5,1117.3 1116.0,1117.9 1116.5,1118.4 1117.0,1119.0 1117.5,1119.5 1118.0,1120.1 1118.5,1120.6 1119.0,1121.2 1119.5,1121.7 1120.0,1122.2 1120.5,1122.8 1121.0,1123.3 1121.5,1123.9 1122.0,1124.4 1122.5,1124.9 1123.0,1125.5 1123.5,1126.0 1124.0,1126.6 1124.5,1127.1 1125.0,1127.6 1125.5,1128.2 1126.0,1128.7 1126.5,1129.2 1127.0,1129.8 1127.5,1130.3 1128.0,1130.8 1128.5,1131.4 1129.0,1131.9 1129.5,1132.4 1130.0,1133.0 1130.5,1133.5 1131.0,1134.0 1131.5,1134.6 1132.0,1135.1 1132.5,1135.6 1133.0,1136.1 1133.5,1136.7 1134.0,1137.2 1134.5,1137.7 1135.0,1138.2 1135.5,1138.8 1136.0,1139.3 1136.5,1139.8 1137.0,1140.3 1137.5,1140.9 1138.0,1141.4 1138.5,1141.9 1139.0,1142.4 1139.5,1142.9 1140.0,1143.5 1140.5,1144.0 1141.0,1144.5 1141.5,1145.0 1142.0,1145.5 1142.5,1146.0 1143.0,1146.6 1143.5,1147.1 1144.0,1147.6 1144.5,1148.1 1145.0,1148.6 1145.5,1149.1 1146.0,1149.6 1146.5,1150.1 1147.0,1150.6 1147.5,1151.1 1148.0,1151.7 1148.5,1152.2 1149.0,1152.7 1149.5,1153.2 1150.0,1153.7 1150.5,1154.2 1151.0,1154.7 1151.5,1155.2 1152.0,1155.7 1152.5,1156.2 1153.0,1156.7 1153.5,1157.2 1154.0,1157.7 1154.5,1158.2 1155.0,1158.6 1155.5,1159.1 1156.0,1159.6 1156.5,1160.1 1157.0,1160.6 1157.5,1161.1 1158.0,1161.6 1158.5,1162.1 1159.0,1162.6 1159.5,1163.1 1160.0,1163.5 1160.5,1164.0 1161.0,1164.5 1161.5,1165.0 1162.0,1165.5 1162.5,1165.9 1163.0,1166.4 1163.5,1166.9 1164.0,1167.4 1164.5,1167.8 1165.0,1168.3 1165.5,1168.8 1166.0,1169.3 1166.5,1169.7 1167.0,1170.2 1167.5,1170.7 1168.0,1171.1 1168.5,1171.6 1169.0,1172.1 1169.5,1172.5 1170.0,1173.0 1170.5,1173.5 1171.0,1173.9 1171.5,1174.4 1172.0,1174.8 1172.5,1175.3 1173.0,1175.8 1173.5,1176.2 1174.0,1176.7 1174.5,1177.1 1175.0,1177.6 1175.5,1178.0 1176.0,1178.5 1176.5,1178.9 1177.0,1179.4 1177.5,1179.8 1178.0,1180.3 1178.5,1180.7 1179.0,1181.1 1179.5,1181.6 1180.0,1182.0 1180.5,1182.5 1181.0,1182.9 1181.5,1183.3 1182.0,1183.8 1182.5,1184.2 1183.0,1184.6 1183.5,1185.1 1184.0,1185.5 1184.5,1185.9 1185.0,1186.4 1185.5,1186.8 1186.0,1187.2 1186.5,1187.6 1187.0,1188.1 1187.5,1188.5 1188.0,1188.9 1188.5,1189.3 1189.0,1189.7 1189.5,1190.1 1190.0,1190.6 1190.5,1191.0 1191.0,1191.4 1191.5,1191.8 1192.0,1192.2 1192.5,1192.6 1193.0,1193.0 1193.5,1193.4 1194.0,1193.8 1194.5,1194.3 1195.0,1194.7 1195.5,1195.1 1196.0,1195.5 1196.5,1195.9 1197.0,1196.3 1197.5,1196.7 1198.0,1197.1 1198.5,1197.5 1199.0,1197.8 1199.5,1198.2 1200.0,1198.6 1200.5,1199.0 1201.0,1199.4 1201.5,1199.8 1202.0,1200.2 1202.5,1200.6 1203.0,1201.0 1203.5,1201.4 1204.0,1201.7 1204.5,1202.1 1205.0,1202.5 1205.5,1202.9 1206.0,1203.3 1206.5,1203.6 1207.0,1204.0 1207.5,1204.4 1208.0,1204.8 1208.5,1205.2 1209.0,1205.5 1209.5,1205.9 1210.0,1206.3 1210.5,1206.6 1211.0,1207.0 1211.5,1207.4 1212.0,1207.8 1212.5,1208.1 1213.0,1208.5 1213.5,1208.8 1214.0,1209.2 1214.5,1209.6 1215.0,1209.9 1215.5,1210.3 1216.0,1210.7 1216.5,1211.0 1217.0,1211.4 1217.5,1211.7 1218.0,1212.1 1218.5,1212.4 1219.0,1212.8 1219.5,1213.2 1220.0,1213.5 1220.5,1213.9 1221.0,1214.2 1221.5,1214.6 1222.0,1214.9 1222.5,1215.3 1223.0,1215.6 1223.5,1216.0 1224.0,1216.3 1224.5,1216.6 1225.0,1217.0 1225.5,1217.3 1226.0,1217.7 1226.5,1218.0 1227.0,1218.4 1227.5,1218.7 1228.0,1219.0 1228.5,1219.4 1229.0,1219.7 1229.5,1220.0 1230.0,1220.4 1230.5,1220.7 1231.0,1221.1 1231.5,1221.4 1232.0,1221.7 1232.5,1222.1 1233.0,1222.4 1233.5,1222.7 1234.0,1223.0 1234.5,1223.4 1235.0,1223.7 1235.5,1224.0 1236.0,1224.3 1236.5,1224.7 1237.0,1225.0 1237.5,1225.3 1238.0,1225.6 1238.5,1226.0 1239.0,1226.3 1239.5,1226.6 1240.0,1226.9 1240.5,1227.2 1241.0,1227.6 1241.5,1227.9 1242.0,1228.2 1242.5,1228.5 1243.0,1228.8 1243.5,1229.1 1244.0,1229.5 1244.5,1229.8 1245.0,1230.1 1245.5,1230.4 1246.0,1230.7 1246.5,1231.0 1247.0,1231.3 1247.5,1231.6 1248.0,1231.9 1248.5,1232.3 1249.0,1232.6 1249.5,1232.9 1250.0,1233.2 1250.5,1233.5 1251.0,1233.8 1251.5,1234.1 1252.0,1234.4 1252.5,1234.7 1253.0,1235.0 1253.5,1235.3 1254.0,1235.6 1254.5,1235.9 1255.0,1236.2 1255.5,1236.5 1256.0,1236.8 1256.5,1237.1 1257.0,1237.4 1257.5,1237.7 1258.0,1238.0 1258.5,1238.3 1259.0,1238.6 1259.5,1238.9 1260.0,1239.2 1260.5,1239.5 1261.0,1239.7 1261.5,1240.0 1262.0,1240.3 1262.5,1240.6 1263.0,1240.9 1263.5,1241.2 1264.0,1241.5 1264.5,1241.8 1265.0,1242.1 1265.5,1242.4 1266.0,1242.6 1266.5,1242.9 1267.0,1243.2 1267.5,1243.5 1268.0,1243.8 1268.5,1244.1 1269.0,1244.3 1269.5,1244.6 1270.0,1244.9 1270.5,1245.2 1271.0,1245.5 1271.5,1245.8 1272.0,1246.0 1272.5,1246.3 1273.0,1246.6 1273.5,1246.9 1274.0,1247.2 1274.5,1247.4 1275.0,1247.7 1275.5,1248.0 1276.0,1248.3 1276.5,1248.6 1277.0,1248.8 1277.5,1249.1 1278.0,1249.4 1278.5,1249.7 1279.0,1249.9 1279.5,1250.2 1280.0,1250.5 1280.5,1250.8 1281.0,1251.0 1281.5,1251.3 1282.0,1251.6 1282.5,1251.8 1283.0,1252.1 1283.5,1252.4 1284.0,1252.7 1284.5,1252.9 1285.0,1253.2 1285.5,1253.5 1286.0,1253.7 1286.5,1254.0 1287.0,1254.3 1287.5,1254.5 1288.0,1254.8 1288.5,1255.1 1289.0,1255.3 1289.5,1255.6 1290.0,1255.9 1290.5,1256.1 1291.0,1256.4 1291.5,1256.7 1292.0,1256.9 1292.5,1257.2 1293.0,1257.5 1293.5,1257.7 1294.0,1258.0 1294.5,1258.3 1295.0,1258.5 1295.5,1258.8 1296.0,1259.1 1296.5,1259.3 1297.0,1259.6 1297.5,1259.8 1298.0,1260.1 1298.5,1260.4 1299.0,1260.6 1299.5,1260.9 1300.0,1261.2 1300.5,1261.4 1301.0,1261.7 1301.5,1261.9 1302.0,1262.2 1302.5,1262.5 1303.0,1262.7 1303.5,1263.0 1304.0,1263.2 1304.5,1263.5 1305.0,1263.8 1305.5,1264.0 1306.0,1264.3 1306.5,1264.5 1307.0,1264.8 1307.5,1265.0 1308.0,1265.3 1308.5,1265.6 1309.0,1265.8 1309.5,1266.1 1310.0,1266.3 1310.5,1266.6 1311.0,1266.9 1311.5,1267.1 1312.0,1267.4 1312.5,1267.6 1313.0,1267.9 1313.5,1268.1 1314.0,1268.4 1314.5,1268.6 1315.0,1268.9 1315.5,1269.2 1316.0,1269.4 1316.5,1269.7 1317.0,1269.9 1317.5,1270.2 1318.0,1270.4 1318.5,1270.7 1319.0,1270.9 1319.5,1271.2 1320.0,1271.4 1320.5,1271.7 1321.0,1272.0 1321.5,1272.2 1322.0,1272.5 1322.5,1272.7 1323.0,1273.0 1323.5,1273.2 1324.0,1273.5 1324.5,1273.7 1325.0,1274.0 1325.5,1274.2 1326.0,1274.5 1326.5,1274.7 1327.0,1275.0 1327.5,1275.2 1328.0,1275.5 1328.5,1275.7 1329.0,1276.0 1329.5,1276.2 1330.0,1276.5 1330.5,1276.7 1331.0,1277.0 1331.5,1277.2 1332.0,1277.5 1332.5,1277.7 1333.0,1278.0 1333.5,1278.2 1334.0,1278.5 1334.5,1278.7 1335.0,1278.9 1335.5,1279.2 1336.0,1279.4 1336.5,1279.7 1337.0,1279.9 1337.5,1280.2 1338.0,1280.4 1338.5,1280.7 1339.0,1280.9 1339.5,1281.2 1340.0,1281.4 1340.5,1281.6 1341.0,1281.9 1341.5,1282.1 1342.0,1282.4 1342.5,1282.6 1343.0,1282.9 1343.5,1283.1 1344.0,1283.3 1344.5,1283.6 1345.0,1283.8 1345.5,1284.1 1346.0,1284.3 1346.5,1284.5 1347.0,1284.8 1347.5,1285.0 1348.0,1285.3 1348.5,1285.5 1349.0,1285.7 1349.5,1286.0 1350.0,1286.2 1350.5,1286.5 1351.0,1286.7 1351.5,1286.9 1352.0,1287.2 1352.5,1287.4 1353.0,1287.6 1353.5,1287.9 1354.0,1288.1 1354.5,1288.4 1355.0,1288.6 1355.5,1288.8 1356.0,1289.1 1356.5,1289.3 1357.0,1289.5 1357.5,1289.8 1358.0,1290.0 1358.5,1290.2 1359.0,1290.5 1359.5,1290.7 1360.0,1290.9 1360.5,1291.2 1361.0,1291.4 1361.5,1291.6 1362.0,1291.9 1362.5,1292.1 1363.0,1292.3 1363.5,1292.5 1364.0,1292.8 1364.5,1293.0 1365.0,1293.2 1365.5,1293.5 1366.0,1293.7 1366.5,1293.9 1367.0,1294.2 1367.5,1294.4 1368.0,1294.6 1368.5,1294.8 1369.0,1295.1 1369.5,1295.3 1370.0,1295.5 1370.5,1295.7 1371.0,1296.0 1371.5,1296.2 1372.0,1296.4 1372.5,1296.6 1373.0,1296.9 1373.5,1297.1 1374.0,1297.3 1374.5,1297.5 1375.0,1297.8 1375.5,1298.0 1376.0,1298.2 1376.5,1298.4 1377.0,1298.6 1377.5,1298.9 1378.0,1299.1 1378.5,1299.3 1379.0,1299.5 1379.5,1299.7 1380.0,1300.0 1380.5,1300.2 1381.0,1300.4 1381.5,1300.6 1382.0,1300.8 1382.5,1301.0 1383.0,1301.3 1383.5,1301.5 1384.0,1301.7 1384.5,1301.9 1385.0,1302.1 1385.5,1302.3 1386.0,1302.6 1386.5,1302.8 1387.0,1303.0 1387.5,1303.2 1388.0,1303.4 1388.5,1303.6 1389.0,1303.8 1389.5,1304.1 1390.0,1304.3 1390.5,1304.5 1391.0,1304.7 1391.5,1304.9 1392.0,1305.1 1392.5,1305.3 1393.0,1305.5 1393.5,1305.7 1394.0,1305.9 1394.5,1306.1 1395.0,1306.4 1395.5,1306.6 1396.0,1306.8 1396.5,1307.0 1397.0,1307.2 1397.5,1307.4 1398.0,1307.6 1398.5,1307.8 1399.0,1308.0 1399.5,1308.2 1400.0,1308.4 1400.5,1308.6 1401.0,1308.8 1401.5,1309.0 1402.0,1309.2 1402.5,1309.4 1403.0,1309.6 1403.5,1309.8 1404.0,1310.0 1404.5,1310.2 1405.0,1310.4 1405.5,1310.6 1406.0,1310.8 1406.5,1311.0 1407.0,1311.2 1407.5,1311.4 1408.0,1311.6 1408.5,1311.8 1409.0,1312.0 1409.5,1312.2 1410.0,1312.4 1410.5,1312.6 1411.0,1312.8 1411.5,1313.0 1412.0,1313.2 1412.5,1313.4 1413.0,1313.6 1413.5,1313.7 1414.0,1313.9 1414.5,1314.1 1415.0,1314.3 1415.5,1314.5 1416.0,1314.7 1416.5,1314.9 1417.0,1315.1 1417.5,1315.3 1418.0,1315.5 1418.5,1315.6 1419.0,1315.8 1419.5,1316.0 1420.0,1316.2 1420.5,1316.4 1421.0,1316.6 1421.5,1316.8 1422.0,1316.9 1422.5,1317.1 1423.0,1317.3 1423.5,1317.5 1424.0,1317.7 1424.5,1317.9 1425.0,1318.0 1425.5,1318.2 1426.0,1318.4 1426.5,1318.6 1427.0,1318.8 1427.5,1318.9 1428.0,1319.1 1428.5,1319.3 1429.0,1319.5 1429.5,1319.6 1430.0,1319.8 1430.5,1320.0 1431.0,1320.2 1431.5,1320.3 1432.0,1320.5 1432.5,1320.7 1433.0,1320.9 1433.5,1321.0 1434.0,1321.2 1434.5,1321.4 1435.0,1321.6 1435.5,1321.7 1436.0,1321.9 1436.5,1322.1 1437.0,1322.2 1437.5,1322.4 1438.0,1322.6 1438.5,1322.7 1439.0,1322.9 1439.5,1323.1 1440.0,1323.2 1440.5,1323.4 1441.0,1323.6 1441.5,1323.7 1442.0,1323.9 1442.5,1324.1 1443.0,1324.2 1443.5,1324.4 1444.0,1324.6 1444.5,1324.7 1445.0,1324.9 1445.5,1325.0 1446.0,1325.2 1446.5,1325.4 1447.0,1325.5 1447.5,1325.7 1448.0,1325.8 1448.5,1326.0 1449.0,1326.2 1449.5,1326.3 1450.0,1326.5 1450.5,1326.6 1451.0,1326.8 1451.5,1326.9 1452.0,1327.1 1452.5,1327.2 1453.0,1327.4 1453.5,1327.5 1454.0,1327.7 1454.5,1327.8 1455.0,1328.0 1455.5,1328.1 1456.0,1328.3 1456.5,1328.4 1457.0,1328.6 1457.5,1328.7 1458.0,1328.9 1458.5,1329.0 1459.0,1329.2 1459.5,1329.3 1460.0,1329.5 1460.5,1329.6 1461.0,1329.8 1461.5,1329.9 1462.0,1330.0 1462.5,1330.2 1463.0,1330.3 1463.5,1330.5 1464.0,1330.6 1464.5,1330.7 1465.0,1330.9 1465.5,1331.0 1466.0,1331.2 1466.5,1331.3 1467.0,1331.4 1467.5,1331.6 1468.0,1331.7 1468.5,1331.8 1469.0,1332.0 1469.5,1332.1 1470.0,1332.3 1470.5,1332.4 1471.0,1332.5 1471.5,1332.7 1472.0,1332.8 1472.5,1332.9 1473.0,1333.0 1473.5,1333.2 1474.0,1333.3 1474.5,1333.4 1475.0,1333.6 1475.5,1333.7 1476.0,1333.8 1476.5,1333.9 1477.0,1334.1 1477.5,1334.2 1478.0,1334.3 1478.5,1334.5 1479.0,1334.6 1479.5,1334.7 1480.0,1334.8 1480.5,1334.9 1481.0,1335.1 1481.5,1335.2 1482.0,1335.3 1482.5,1335.4 1483.0,1335.6 1483.5,1335.7 1484.0,1335.8 1484.5,1335.9 1485.0,1336.0 1485.5,1336.2 1486.0,1336.3 1486.5,1336.4 1487.0,1336.5 1487.5,1336.6 1488.0,1336.7 1488.5,1336.9 1489.0,1337.0 1489.5,1337.1 1490.0,1337.2 1490.5,1337.3 1491.0,1337.4 1491.5,1337.5 1492.0,1337.7 1492.5,1337.8 1493.0,1337.9 1493.5,1338.0 1494.0,1338.1 1494.5,1338.2 1495.0,1338.3 1495.5,1338.4 1496.0,1338.5 1496.5,1338.6 1497.0,1338.8 1497.5,1338.9 1498.0,1339.0 1498.5,1339.1 1499.0,1339.2 1499.5,1339.3 1500.0,1339.4 1500.5,1339.5 1501.0,1339.6 1501.5,1339.7 1502.0,1339.8 1502.5,1339.9 1503.0,1340.0 1503.5,1340.1 1504.0,1340.2 1504.5,1340.3 1505.0,1340.4 1505.5,1340.5 1506.0,1340.6 1506.5,1340.7 1507.0,1340.8 1507.5,1340.9 1508.0,1341.0 1508.5,1341.1 1509.0,1341.2 1509.5,1341.3 1510.0,1341.4 1510.5,1341.5 1511.0,1341.6 1511.5,1341.7 1512.0,1341.8 1512.5,1341.9 1513.0,1342.0 1513.5,1342.1 1514.0,1342.2 1514.5,1342.3 1515.0,1342.4 1515.5,1342.5 1516.0,1342.6 1516.5,1342.7 1517.0,1342.8 1517.5,1342.8 1518.0,1342.9 1518.5,1343.0 1519.0,1343.1 1519.5,1343.2 1520.0,1343.3 1520.5,1343.4 1521.0,1343.5 1521.5,1343.6 1522.0,1343.7 1522.5,1343.8 1523.0,1343.8 1523.5,1343.9 1524.0,1344.0 1524.5,1344.1 1525.0,1344.2 1525.5,1344.3 1526.0,1344.4 1526.5,1344.5 1527.0,1344.5 1527.5,1344.6 1528.0,1344.7 1528.5,1344.8 1529.0,1344.9 1529.5,1345.0 1530.0,1345.1 1530.5,1345.1 1531.0,1345.2 1531.5,1345.3 1532.0,1345.4 1532.5,1345.5 1533.0,1345.6 1533.5,1345.6 1534.0,1345.7 1534.5,1345.8 1535.0,1345.9 1535.5,1346.0 1536.0,1346.0 1536.5,1346.1 1537.0,1346.2 1537.5,1346.3 1538.0,1346.4 1538.5,1346.4 1539.0,1346.5 1539.5,1346.6 1540.0,1346.7 1540.5,1346.8 1541.0,1346.8 1541.5,1346.9 1542.0,1347.0 1542.5,1347.1 1543.0,1347.1 1543.5,1347.2 1544.0,1347.3 1544.5,1347.4 1545.0,1347.5 1545.5,1347.5 1546.0,1347.6 1546.5,1347.7 1547.0,1347.8 1547.5,1347.8 1548.0,1347.9 1548.5,1348.0 1549.0,1348.1 1549.5,1348.1 1550.0,1348.2 1550.5,1348.3 1551.0,1348.4 1551.5,1348.4 1552.0,1348.5 1552.5,1348.6 1553.0,1348.6 1553.5,1348.7 1554.0,1348.8 1554.5,1348.9 1555.0,1348.9 1555.5,1349.0 1556.0,1349.1 1556.5,1349.2 1557.0,1349.2 1557.5,1349.3 1558.0,1349.4 1558.5,1349.4 1559.0,1349.5 1559.5,1349.6 1560.0,1349.6 1560.5,1349.7 1561.0,1349.8 1561.5,1349.9 1562.0,1349.9 1562.5,1350.0 1563.0,1350.1 1563.5,1350.1 1564.0,1350.2 1564.5,1350.3 1565.0,1350.3 1565.5,1350.4 1566.0,1350.5 1566.5,1350.5 1567.0,1350.6 1567.5,1350.7 1568.0,1350.7 1568.5,1350.8 1569.0,1350.9 1569.5,1350.9 1570.0,1351.0 1570.5,1351.1 1571.0,1351.1 1571.5,1351.2 1572.0,1351.3 1572.5,1351.3 1573.0,1351.4 1573.5,1351.5 1574.0,1351.5 1574.5,1351.6 1575.0,1351.7 1575.5,1351.7 1576.0,1351.8 1576.5,1351.9 1577.0,1351.9 1577.5,1352.0 1578.0,1352.1 1578.5,1352.1 1579.0,1352.2 1579.5,1352.3 1580.0,1352.3 1580.5,1352.4 1581.0,1352.4 1581.5,1352.5 1582.0,1352.6 1582.5,1352.6 1583.0,1352.7 1583.5,1352.8 1584.0,1352.8 1584.5,1352.9 1585.0,1353.0 1585.5,1353.0 1586.0,1353.1 1586.5,1353.1 1587.0,1353.2 1587.5,1353.3 1588.0,1353.3 1588.5,1353.4 1589.0,1353.5 1589.5,1353.5 1590.0,1353.6 1590.5,1353.6 1591.0,1353.7 1591.5,1353.8 1592.0,1353.8 1592.5,1353.9 1593.0,1354.0 1593.5,1354.0 1594.0,1354.1 1594.5,1354.1 1595.0,1354.2 1595.5,1354.3 1596.0,1354.3 1596.5,1354.4 1597.0,1354.5 1597.5,1354.5 1598.0,1354.6 1598.5,1354.6 1599.0,1354.7 1599.5,1354.8 1600.0,1354.8 1600.5,1354.9 1601.0,1354.9 1601.5,1355.0 1602.0,1355.1 1602.5,1355.1 1603.0,1355.2 1603.5,1355.3 1604.0,1355.3 1604.5,1355.4 1605.0,1355.4 1605.5,1355.5 1606.0,1355.6 1606.5,1355.6 1607.0,1355.7 1607.5,1355.7 1608.0,1355.8 1608.5,1355.9 1609.0,1355.9 1609.5,1356.0 1610.0,1356.1 1610.5,1356.1 1611.0,1356.2 1611.5,1356.2 1612.0,1356.3 1612.5,1356.4 1613.0,1356.4 1613.5,1356.5 1614.0,1356.5 1614.5,1356.6 1615.0,1356.7 1615.5,1356.7 1616.0,1356.8 1616.5,1356.9 1617.0,1356.9 1617.5,1357.0 1618.0,1357.0 1618.5,1357.1 1619.0,1357.2 1619.5,1357.2 1620.0,1357.3 1620.5,1357.4 1621.0,1357.4 1621.5,1357.5 1622.0,1357.5 1622.5,1357.6 1623.0,1357.7 1623.5,1357.7 1624.0,1357.8 1624.5,1357.9 1625.0,1357.9 1625.5,1358.0 1626.0,1358.0 1626.5,1358.1 1627.0,1358.2 1627.5,1358.2 1628.0,1358.3 1628.5,1358.4 1629.0,1358.4 1629.5,1358.5 1630.0,1358.5 1630.5,1358.6 1631.0,1358.7 1631.5,1358.7 1632.0,1358.8 1632.5,1358.9 1633.0,1358.9 1633.5,1359.0 1634.0,1359.0 1634.5,1359.1 1635.0,1359.2 1635.5,1359.2 1636.0,1359.3 1636.5,1359.4 1637.0,1359.4 1637.5,1359.5 1638.0,1359.5 1638.5,1359.6 1639.0,1359.7 1639.5,1359.7 1640.0,1359.8 1640.5,1359.9 1641.0,1359.9 1641.5,1360.0 1642.0,1360.0 1642.5,1360.1 1643.0,1360.2 1643.5,1360.2 1644.0,1360.3 1644.5,1360.4 1645.0,1360.4 1645.5,1360.5 1646.0,1360.5 1646.5,1360.6 1647.0,1360.7 1647.5,1360.7 1648.0,1360.8 1648.5,1360.9 1649.0,1360.9 1649.5,1361.0 1650.0,1361.0 1650.5,1361.1 1651.0,1361.2 1651.5,1361.2 1652.0,1361.3 1652.5,1361.3 1653.0,1361.4 1653.5,1361.5 1654.0,1361.5 1654.5,1361.6 1655.0,1361.7 1655.5,1361.7 1656.0,1361.8 1656.5,1361.8 1657.0,1361.9 1657.5,1362.0 1658.0,1362.0 1658.5,1362.1 1659.0,1362.1 1659.5,1362.2 1660.0,1362.3 1660.5,1362.3 1661.0,1362.4 1661.5,1362.4 1662.0,1362.5 1662.5,1362.6 1663.0,1362.6 1663.5,1362.7 1664.0,1362.7 1664.5,1362.8 1665.0,1362.9 1665.5,1362.9 1666.0,1363.0 1666.5,1363.0 1667.0,1363.1 1667.5,1363.2 1668.0,1363.2 1668.5,1363.3 1669.0,1363.3 1669.5,1363.4 1670.0,1363.5 1670.5,1363.5 1671.0,1363.6 1671.5,1363.6 1672.0,1363.7 1672.5,1363.7 1673.0,1363.8 1673.5,1363.9 1674.0,1363.9 1674.5,1364.0 1675.0,1364.0 1675.5,1364.1 1676.0,1364.2 1676.5,1364.2 1677.0,1364.3 1677.5,1364.3 1678.0,1364.4 1678.5,1364.4 1679.0,1364.5 1679.5,1364.6 1680.0,1364.6 1680.5,1364.7 1681.0,1364.7 1681.5,1364.8 1682.0,1364.8 1682.5,1364.9 1683.0,1364.9 1683.5,1365.0 1684.0,1365.1 1684.5,1365.1 1685.0,1365.2 1685.5,1365.2 1686.0,1365.3 1686.5,1365.3 1687.0,1365.4 1687.5,1365.4 1688.0,1365.5 1688.5,1365.5 1689.0,1365.6 1689.5,1365.6 1690.0,1365.7 1690.5,1365.8 1691.0,1365.8 1691.5,1365.9 1692.0,1365.9 1692.5,1366.0 1693.0,1366.0 1693.5,1366.1 1694.0,1366.1 1694.5,1366.2 1695.0,1366.2 1695.5,1366.3 1696.0,1366.3 1696.5,1366.4 1697.0,1366.4 1697.5,1366.5 1698.0,1366.5 1698.5,1366.6 1699.0,1366.6 1699.5,1366.7 1700.0,1366.7 1700.5,1366.8 1701.0,1366.8 1701.5,1366.9 1702.0,1366.9 1702.5,1367.0 1703.0,1367.0 1703.5,1367.1 1704.0,1367.1 1704.5,1367.2 1705.0,1367.2 1705.5,1367.3 1706.0,1367.3 1706.5,1367.4 1707.0,1367.4 1707.5,1367.4 1708.0,1367.5 1708.5,1367.5 1709.0,1367.6 1709.5,1367.6 1710.0,1367.7 1710.5,1367.7 1711.0,1367.8 1711.5,1367.8 1712.0,1367.9 1712.5,1367.9 1713.0,1367.9 1713.5,1368.0 1714.0,1368.0 1714.5,1368.1 1715.0,1368.1 1715.5,1368.2 1716.0,1368.2 1716.5,1368.2 1717.0,1368.3 1717.5,1368.3 1718.0,1368.4 1718.5,1368.4 1719.0,1368.5 1719.5,1368.5 1720.0,1368.5 1720.5,1368.6 1721.0,1368.6 1721.5,1368.7 1722.0,1368.7 1722.5,1368.7 1723.0,1368.8 1723.5,1368.8 1724.0,1368.8 1724.5,1368.9 1725.0,1368.9 1725.5,1369.0 1726.0,1369.0 1726.5,1369.0 1727.0,1369.1 1727.5,1369.1 1728.0,1369.1 1728.5,1369.2 1729.0,1369.2 1729.5,1369.3 1730.0,1369.3 1730.5,1369.3 1731.0,1369.4 1731.5,1369.4 1732.0,1369.4 1732.5,1369.5 1733.0,1369.5 1733.5,1369.5 1734.0,1369.6 1734.5,1369.6 1735.0,1369.6 1735.5,1369.7 1736.0,1369.7 1736.5,1369.7 1737.0,1369.7 1737.5,1369.8 1738.0,1369.8 1738.5,1369.8 1739.0,1369.9 1739.5,1369.9 1740.0,1369.9 1740.5,1370.0 1741.0,1370.0 1741.5,1370.0 1742.0,1370.0 1742.5,1370.1 1743.0,1370.1 1743.5,1370.1 1744.0,1370.1 1744.5,1370.2 1745.0,1370.2 1745.5,1370.2 1746.0,1370.2 1746.5,1370.3 1747.0,1370.3 1747.5,1370.3 1748.0,1370.3 1748.5,1370.4 1749.0,1370.4 1749.5,1370.4 1750.0,1370.4 1750.5,1370.5 1751.0,1370.5 1751.5,1370.5 1752.0,1370.5 1752.5,1370.5 1753.0,1370.6 1753.5,1370.6 1754.0,1370.6 1754.5,1370.6 1755.0,1370.6 1755.5,1370.7 1756.0,1370.7 1756.5,1370.7 1757.0,1370.7 1757.5,1370.7 1758.0,1370.7 1758.5,1370.8 1759.0,1370.8 1759.5,1370.8 1760.0,1370.8 1760.5,1370.8 1761.0,1370.8 1761.5,1370.8 1762.0,1370.9 1762.5,1370.9 1763.0,1370.9 1763.5,1370.9 1764.0,1370.9 1764.5,1370.9 1765.0,1370.9 1765.5,1370.9 1766.0,1371.0 1766.5,1371.0 1767.0,1371.0 1767.5,1371.0 1768.0,1371.0 1768.5,1371.0 1769.0,1371.0 1769.5,1371.0 1770.0,1371.0 1770.5,1371.0 1771.0,1371.0 1771.5,1371.0 1772.0,1371.1 1772.5,1371.1 1773.0,1371.1 1773.5,1371.1 1774.0,1371.1 1774.5,1371.1 1775.0,1371.1 1775.5,1371.1 1776.0,1371.1 1776.5,1371.1 1777.0,1371.1 1777.5,1371.1 1778.0,1371.1 1778.5,1371.1 1779.0,1371.1 1779.5,1371.1 1780.0,1371.1 1780.5,1371.1 1781.0,1371.1 1781.5,1371.1 1782.0,1371.1 1782.5,1371.1 1783.0,1371.1 1783.5,1371.1 1784.0,1371.2 1784.5,1371.2 1785.0,1371.2 1785.5,1371.2 1786.0,1371.2 1786.5,1371.2 1787.0,1371.2 1787.5,1371.2 1788.0,1371.2 1788.5,1371.2 1789.0,1371.2 1789.5,1371.2 1790.0,1371.2 1790.5,1371.2 1791.0,1371.2 1791.5,1371.2 1792.0,1371.2 1792.5,1371.2 1793.0,1371.2 1793.5,1371.2 1794.0,1371.2 1794.5,1371.2 1795.0,1371.2 1795.5,1371.2 1796.0,1371.2 1796.5,1371.2 1797.0,1371.1 1797.5,1371.1 1798.0,1371.1 1798.5,1371.1 1799.0,1371.1 1799.5,1371.1 1800.0,1371.1 1800.5,1371.1 1801.0,1371.1 1801.5,1371.1 1802.0,1371.1 1802.5,1371.1 1803.0,1371.1 1803.5,1371.1 1804.0,1371.1 1804.5,1371.1 1805.0,1371.1 1805.5,1371.1 1806.0,1371.1 1806.5,1371.1 1807.0,1371.1 1807.5,1371.1 1808.0,1371.1 1808.5,1371.1 1809.0,1371.1 1809.5,1371.1 1810.0,1371.1 1810.5,1371.1 1811.0,1371.1 1811.5,1371.1 1812.0,1371.1 1812.5,1371.1 1813.0,1371.1 1813.5,1371.1 1814.0,1371.1 1814.5,1371.1 1815.0,1371.1 1815.5,1371.1 1816.0,1371.1 1816.5,1371.1 1817.0,1371.1 1817.5,1371.1 1818.0,1371.1 1818.5,1371.1 1819.0,1371.1 1819.5,1371.1 1820.0,1371.1 1820.5,1371.1 1821.0,1371.1 1821.5,1371.1 1822.0,1371.1 1822.5,1371.1 1823.0,1371.1 1823.5,1371.1 1824.0,1371.1 1824.5,1371.1 1825.0,1371.1 1825.5,1371.1 1826.0,1371.1 1826.5,1371.1 1827.0,1371.1 1827.5,1371.2 1828.0,1371.2 1828.5,1371.2 1829.0,1371.2 1829.5,1371.2 1830.0,1371.2 1830.5,1371.2 1831.0,1371.2 1831.5,1371.2 1832.0,1371.2 1832.5,1371.2 1833.0,1371.2 1833.5,1371.2 1834.0,1371.2 1834.5,1371.2 1835.0,1371.2 1835.5,1371.2 1836.0,1371.3 1836.5,1371.3 1837.0,1371.3 1837.5,1371.3 1838.0,1371.3 1838.5,1371.3 1839.0,1371.3 1839.5,1371.3 1840.0,1371.3 1840.5,1371.3 1841.0,1371.4 1841.5,1371.4 1842.0,1371.4 1842.5,1371.4 1843.0,1371.4 1843.5,1371.4 1844.0,1371.4 1844.5,1371.4 1845.0,1371.5 1845.5,1371.5 1846.0,1371.5 1846.5,1371.5 1847.0,1371.5 1847.5,1371.5 1848.0,1371.6 1848.5,1371.6 1849.0,1371.6 1849.5,1371.6 1850.0,1371.6 1850.5,1371.6 1851.0,1371.7 1851.5,1371.7 1852.0,1371.7 1852.5,1371.7 1853.0,1371.7 1853.5,1371.8 1854.0,1371.8 1854.5,1371.8 1855.0,1371.8 1855.5,1371.9 1856.0,1371.9 1856.5,1371.9 1857.0,1371.9 1857.5,1372.0 1858.0,1372.0 1858.5,1372.0 1859.0,1372.0 1859.5,1372.1 1860.0,1372.1 1860.5,1372.1 1861.0,1372.1 1861.5,1372.2 1862.0,1372.2 1862.5,1372.2 1863.0,1372.3 1863.5,1372.3 1864.0,1372.3 1864.5,1372.4 1865.0,1372.4 1865.5,1372.4 1866.0,1372.5 1866.5,1372.5 1867.0,1372.5 1867.5,1372.6 1868.0,1372.6"/>
<path stroke="#0000ff" d="M215.0,1116.5L215.5,1116.5 216.0,1116.5 216.5,1116.5 217.0,1116.4 217.5,1116.3 218.0,1116.3 218.5,1116.2 219.0,1116.1 219.5,1116.1 220.0,1116.0 220.5,1115.9 221.0,1115.8 221.5,1115.6 222.0,1115.5 222.5,1115.4 223.0,1115.3 223.5,1115.1 224.0,1115.0 224.5,1114.8 225.0,1114.7 225.5,1114.5 226.0,1114.3 226.5,1114.1 227.0,1114.0 227.5,1113.8 228.0,1113.6 228.5,1113.4 229.0,1113.1 229.5,1112.9 230.0,1112.7 230.5,1112.5 231.0,1112.2 231.5,1112.0 232.0,1111.8 232.5,1111.5 233.0,1111.2 233.5,1111.0 234.0,1110.7 234.5,1110.4 235.0,1110.2 235.5,1109.9 236.0,1109.6 236.5,1109.3 237.0,1109.0 237.5,1108.7 238.0,1108.4 238.5,1108.1 239.0,1107.8 239.5,1107.4 240.0,1107.1 240.5,1106.8 241.0,1106.4 241.5,1106.1 242.0,1105.8 242.5,1105.4 243.0,1105.1 243.5,1104.7 244.0,1104.4 244.5,1104.0 245.0,1103.6 245.5,1103.2 246.0,1102.9 246.5,1102.5 247.0,1102.1 247.5,1101.7 248.0,1101.3 248.5,1100.9 249.0,1100.6 249.5,1100.2 250.0,1099.8 250.5,1099.3 251.0,1098.9 251.5,1098.5 252.0,1098.1 252.5,1097.7 253.0,1097.3 253.5,1096.9 254.0,1096.4 254.5,1096.0 255.0,1095.6 255.5,1095.1 256.0,1094.7 256.5,1094.3 257.0,1093.8 257.5,1093.4 258.0,1092.9 258.5,1092.4 259.0,1092.0 259.5,1091.5 260.0,1091.1 260.5,1090.6 261.0,1090.1 261.5,1089.6 262.0,1089.1 262.5,1088.7 263.0,1088.2 263.5,1087.7 264.0,1087.2 264.5,1086.7 265.0,1086.2 265.5,1085.6 266.0,1085.1 266.5,1084.6 267.0,1084.1 267.5,1083.5 268.0,1083.0 268.5,1082.5 269.0,1081.9 269.5,1081.4 270.0,1080.8 270.5,1080.3 271.0,1079.7 271.5,1079.1 272.0,1078.6 272.5,1078.0 273.0,1077.4 273.5,1076.8 274.0,1076.2 274.5,1075.6 275.0,1075.0 275.5,1074.4 276.0,1073.8 276.5,1073.1 277.0,1072.5 277.5,1071.9 278.0,1071.2 278.5,1070.6 279.0,1070.0 279.5,1069.3 280.0,1068.6 280.5,1068.0 281.0,1067.3 281.5,1066.6 282.0,1065.9 282.5,1065.2 283.0,1064.5 283.5,1063.8 284.0,1063.1 284.5,1062.4 285.0,1061.7 285.5,1060.9 286.0,1060.2 286.5,1059.5 287.0,1058.7 287.5,1058.0 288.0,1057.2 288.5,1056.4 289.0,1055.6 289.5,1054.9 290.0,1054.1 290.5,1053.3 291.0,1052.5 291.5,1051.7 292.0,1050.9 292.5,1050.0 293.0,1049.2 293.5,1048.4 294.0,1047.6 294.5,1046.7 295.0,1045.9 295.5,1045.0 296.0,1044.2 296.5,1043.3 297.0,1042.4 297.5,1041.5 298.0,1040.7 298.5,1039.8 299.0,1038.9 299.5,1038.0 300.0,1037.1 300.5,1036.2 301.0,1035.3 301.5,1034.3 302.0,1033.4 302.5,1032.5 303.0,1031.6 303.5,1030.6 304.0,1029.7 304.5,1028.7 305.0,1027.8 305.5,1026.8 306.0,1025.9 306.5,1024.9 307.0,1023.9 307.5,1022.9 308.0,1022.0 308.5,1021.0 309.0,1020.0 309.5,1019.0 310.0,1018.0 310.5,1017.0 311.0,1016.0 311.5,1015.0 312.0,1014.0 312.5,1012.9 313.0,1011.9 313.5,1010.9 314.0,1009.8 314.5,1008.8 315.0,1007.8 315.5,1006.7 316.0,1005.7 316.5,1004.6 317.0,1003.6 317.5,1002.5 318.0,1001.5 318.5,1000.4 319.0,999.3 319.5,998.2 320.0,997.2 320.5,996.1 321.0,995.0 321.5,993.9 322.0,992.8 322.5,991.7 323.0,990.6 323.5,989.5 324.0,988.4 324.5,987.3 325.0,986.2 325.5,985.1 326.0,984.0 326.5,982.9 327.0,981.8 327.5,980.7 328.0,979.5 328.5,978.4 329.0,977.3 329.5,976.1 330.0,975.0 330.5,973.9 331.0,972.7 331.5,971.6 332.0,970.4 332.5,969.3 333.0,968.1 333.5,967.0 334.0,965.8 334.5,964.7 335.0,963.5 335.5,962.4 336.0,961.2 336.5,960.0 337.0,958.9 337.5,957.7 338.0,956.5 338.5,955.4 339.0,954.2 339.5,953.0 340.0,951.9 340.5,950.7 341.0,949.5 341.5,948.3 342.0,947.1 342.5,946.0 343.0,944.8 343.5,943.6 344.0,942.4 344.5,941.2 345.0,940.0 345.5,938.8 346.0,937.6 346.5,936.5 347.0,935.3 347.5,934.1 348.0,932.9 348.5,931.7 349.0,930.5 349.5,929.3 350.0,928.1 350.5,926.9 351.0,925.7 351.5,924.5 352.0,923.3 352.5,922.1 353.0,920.9 353.5,919.7 354.0,918.5 354.5,917.3 355.0,916.1 355.5,914.9 356.0,913.7 356.5,912.5 357.0,911.3 357.5,910.1 358.0,908.9 358.5,907.7 359.0,906.5 359.5,905.3 360.0,904.1 360.5,902.9 361.0,901.7 361.5,900.5 362.0,899.3 362.5,898.1 363.0,896.9 363.5,895.7 364.0,894.5 364.5,893.3 365.0,892.1 365.5,890.9 366.0,889.7 366.5,888.5 367.0,887.3 367.5,886.2 368.0,885.0 368.5,883.8 369.0,882.6 369.5,881.4 370.0,880.2 370.5,879.0 371.0,877.9 371.5,876.7 372.0,875.5 372.5,874.3 373.0,873.1 373.5,872.0 374.0,870.8 374.5,869.6 375.0,868.5 375.5,867.3 376.0,866.1 376.5,865.0 377.0,863.8 377.5,862.6 378.0,861.5 378.5,860.3 379.0,859.2 379.5,858.0 380.0,856.9 380.5,855.8 381.0,854.6 381.5,853.5 382.0,852.4 382.5,851.2 383.0,850.1 383.5,849.0 384.0,847.9 384.5,846.8 385.0,845.7 385.5,844.6 386.0,843.5 386.5,842.4 387.0,841.4 387.5,840.3 388.0,839.2 388.5,838.2 389.0,837.1 389.5,836.1 390.0,835.0 390.5,834.0 391.0,833.0 391.5,831.9 392.0,830.9 392.5,829.9 393.0,828.9 393.5,827.9 394.0,827.0 394.5,826.0 395.0,825.0 395.5,824.1 396.0,823.1 396.5,822.2 397.0,821.2 397.5,820.3 398.0,819.4 398.5,818.5 399.0,817.6 399.5,816.7 400.0,815.9 400.5,815.0 401.0,814.1 401.5,813.3 402.0,812.5 402.5,811.6 403.0,810.8 403.5,810.0 404.0,809.2 404.5,808.5 405.0,807.7 405.5,806.9 406.0,806.2 406.5,805.5 407.0,804.8 407.5,804.0 408.0,803.4 408.5,802.7 409.0,802.0 409.5,801.4 410.0,800.7 410.5,800.1 411.0,799.5 411.5,798.9 412.0,798.3 412.5,797.7 413.0,797.1 413.5,796.6 414.0,796.1 414.5,795.5 415.0,795.0 415.5,794.6 416.0,794.1 416.5,793.6 417.0,793.2 417.5,792.7 418.0,792.3 418.5,791.9 419.0,791.5 419.5,791.2 420.0,790.8 420.5,790.5 421.0,790.1 421.5,789.8 422.0,789.5 422.5,789.3 423.0,789.0 423.5,788.7 424.0,788.5 424.5,788.3 425.0,788.1 425.5,787.9 426.0,787.7 426.5,787.6 427.0,787.5 427.5,787.3 428.0,787.2 428.5,787.2 429.0,787.1 429.5,787.0 430.0,787.0 430.5,787.0 431.0,787.0 431.5,787.0 432.0,787.1 432.5,787.1 433.0,787.2 433.5,787.3 434.0,787.4 434.5,787.5 435.0,787.6 435.5,787.8 436.0,788.0 436.5,788.2 437.0,788.4 437.5,788.6 438.0,788.9 438.5,789.2 439.0,789.5 439.5,789.8 440.0,790.1 440.5,790.4 441.0,790.8 441.5,791.2 442.0,791.6 442.5,792.0 443.0,792.5 443.5,792.9 444.0,793.4 444.5,793.9 445.0,794.5 445.5,795.0 446.0,795.6 446.5,796.1 447.0,796.8 447.5,797.4 448.0,798.0 448.5,798.7 449.0,799.4 449.5,800.1 450.0,800.8 450.5,801.6 451.0,802.3 451.5,803.1 452.0,803.9 452.5,804.8 453.0,805.6 453.5,806.5 454.0,807.4 454.5,808.3 455.0,809.2 455.5,810.1 456.0,811.1 456.5,812.1 457.0,813.1 457.5,814.1 458.0,815.1 458.5,816.2 459.0,817.2 459.5,818.3 460.0,819.4 460.5,820.5 461.0,821.7 461.5,822.8 462.0,824.0 462.5,825.2 463.0,826.4 463.5,827.6 464.0,828.8 464.5,830.0 465.0,831.3 465.5,832.5 466.0,833.8 466.5,835.1 467.0,836.4 467.5,837.7 468.0,839.1 468.5,840.4 469.0,841.8 469.5,843.1 470.0,844.5 470.5,845.9 471.0,847.3 471.5,848.7 472.0,850.1 472.5,851.6 473.0,853.0 473.5,854.5 474.0,856.0 474.5,857.4 475.0,858.9 475.5,860.4 476.0,861.9 476.5,863.4 477.0,865.0 477.5,866.5 478.0,868.0 478.5,869.6 479.0,871.1 479.5,872.7 480.0,874.3 480.5,875.8 481.0,877.4 481.5,879.0 482.0,880.6 482.5,882.2 483.0,883.8 483.5,885.4 484.0,887.1 484.5,888.7 485.0,890.3 485.5,892.0 486.0,893.6 486.5,895.2 487.0,896.9 487.5,898.5 488.0,900.2 488.5,901.9 489.0,903.5 489.5,905.2 490.0,906.9 490.5,908.5 491.0,910.2 491.5,911.9 492.0,913.6 492.5,915.3 493.0,917.0 493.5,918.6 494.0,920.3 494.5,922.0 495.0,923.7 495.5,925.4 496.0,927.1 496.5,928.8 497.0,930.6 497.5,932.3 498.0,934.0 498.5,935.7 499.0,937.4 499.5,939.1 500.0,940.8 500.5,942.6 501.0,944.3 501.5,946.0 502.0,947.7 502.5,949.4 503.0,951.2 503.5,952.9 504.0,954.6 504.5,956.4 505.0,958.1 505.5,959.8 506.0,961.6 506.5,963.3 507.0,965.0 507.5,966.8 508.0,968.5 508.5,970.2 509.0,972.0 509.5,973.7 510.0,975.4 510.5,977.2 511.0,978.9 511.5,980.6 512.0,982.4 512.5,984.1 513.0,985.8 513.5,987.6 514.0,989.3 514.5,991.0 515.0,992.7 515.5,994.5 516.0,996.2 516.5,997.9 517.0,999.7 517.5,1001.4 518.0,1003.1 518.5,1004.8 519.0,1006.6 519.5,1008.3 520.0,1010.0 520.5,1011.7 521.0,1013.4 521.5,1015.1 522.0,1016.9 522.5,1018.6 523.0,1020.3 523.5,1022.0 524.0,1023.7 524.5,1025.4 525.0,1027.1 525.5,1028.8 526.0,1030.5 526.5,1032.2 527.0,1033.9 527.5,1035.5 528.0,1037.2 528.5,1038.9 529.0,1040.6 529.5,1042.3 530.0,1043.9 530.5,1045.6 531.0,1047.3 531.5,1048.9 532.0,1050.6 532.5,1052.3 533.0,1053.9 533.5,1055.6 534.0,1057.2 534.5,1058.8 535.0,1060.5 535.5,1062.1 536.0,1063.7 536.5,1065.4 537.0,1067.0 537.5,1068.6 538.0,1070.2 538.5,1071.8 539.0,1073.4 539.5,1075.0 540.0,1076.6 540.5,1078.2 541.0,1079.8 541.5,1081.4 542.0,1083.0 542.5,1084.5 543.0,1086.1 543.5,1087.7 544.0,1089.2 544.5,1090.8 545.0,1092.3 545.5,1093.9 546.0,1095.4 546.5,1096.9 547.0,1098.4 547.5,1100.0 548.0,1101.5 548.5,1103.0 549.0,1104.5 549.5,1106.0 550.0,1107.5 550.5,1109.0 551.0,1110.4 551.5,1111.9 552.0,1113.4 552.5,1114.8 553.0,1116.3 553.5,1117.7 554.0,1119.2 554.5,1120.6 555.0,1122.1 555.5,1123.5 556.0,1124.9 556.5,1126.3 557.0,1127.7 557.5,1129.1 558.0,1130.5 558.5,1131.9 559.0,1133.3 559.5,1134.7 560.0,1136.1 560.5,1137.4 561.0,1138.8 561.5,1140.1 562.0,1141.5 562.5,1142.8 563.0,1144.2 563.5,1145.5 564.0,1146.8 564.5,1148.1 565.0,1149.5 565.5,1150.8 566.0,1152.1 566.5,1153.4 567.0,1154.6 567.5,1155.9 568.0,1157.2 568.5,1158.5 569.0,1159.7 569.5,1161.0 570.0,1162.2 570.5,1163.5 571.0,1164.7 571.5,1165.9 572.0,1167.1 572.5,1168.4 573.0,1169.6 573.5,1170.8 574.0,1172.0 574.5,1173.1 575.0,1174.3 575.5,1175.5 576.0,1176.7 576.5,1177.8 577.0,1179.0 577.5,1180.1 578.0,1181.3 578.5,1182.4 579.0,1183.5 579.5,1184.6 580.0,1185.7 580.5,1186.8 581.0,1187.9 581.5,1189.0 582.0,1190.1 582.5,1191.2 583.0,1192.2 583.5,1193.3 584.0,1194.4 584.5,1195.4 585.0,1196.4 585.5,1197.5 586.0,1198.5 586.5,1199.5 587.0,1200.5 587.5,1201.5 588.0,1202.5 588.5,1203.5 589.0,1204.5 589.5,1205.5 590.0,1206.4 590.5,1207.4 591.0,1208.3 591.5,1209.3 592.0,1210.2 592.5,1211.1 593.0,1212.0 593.5,1213.0 594.0,1213.9 594.5,1214.8 595.0,1215.6 595.5,1216.5 596.0,1217.4 596.5,1218.3 597.0,1219.1 597.5,1220.0 598.0,1220.8 598.5,1221.6 599.0,1222.5 599.5,1223.3 600.0,1224.1 600.5,1224.9 601.0,1225.7 601.5,1226.5 602.0,1227.3 602.5,1228.1 603.0,1228.8 603.5,1229.6 604.0,1230.4 604.5,1231.1 605.0,1231.9 605.5,1232.6 606.0,1233.3 606.5,1234.0 607.0,1234.8 607.5,1235.5 608.0,1236.2 608.5,1236.9 609.0,1237.6 609.5,1238.2 610.0,1238.9 610.5,1239.6 611.0,1240.3 611.5,1240.9 612.0,1241.6 612.5,1242.2 613.0,1242.9 613.5,1243.5 614.0,1244.1 614.5,1244.7 615.0,1245.3 615.5,1246.0 616.0,1246.6 616.5,1247.2 617.0,1247.7 617.5,1248.3 618.0,1248.9 618.5,1249.5 619.0,1250.0 619.5,1250.6 620.0,1251.2 620.5,1251.7 621.0,1252.3 621.5,1252.8 622.0,1253.3 622.5,1253.8 623.0,1254.4 623.5,1254.9 624.0,1255.4 624.5,1255.9 625.0,1256.4 625.5,1256.9 626.0,1257.4 626.5,1257.9 627.0,1258.4 627.5,1258.8 628.0,1259.3 628.5,1259.8 629.0,1260.2 629.5,1260.7 630.0,1261.1 630.5,1261.6 631.0,1262.0 631.5,1262.4 632.0,1262.9 632.5,1263.3 633.0,1263.7 633.5,1264.1 634.0,1264.5 634.5,1264.9 635.0,1265.3 635.5,1265.7 636.0,1266.1 636.5,1266.5 637.0,1266.9 637.5,1267.3 638.0,1267.6 638.5,1268.0 639.0,1268.4 639.5,1268.7 640.0,1269.1 640.5,1269.4 641.0,1269.8 641.5,1270.1 642.0,1270.5 642.5,1270.8 643.0,1271.1 643.5,1271.5 644.0,1271.8 644.5,1272.1 645.0,1272.4 645.5,1272.7 646.0,1273.0 646.5,1273.3 647.0,1273.6 647.5,1273.9 648.0,1274.2 648.5,1274.4 649.0,1274.7 649.5,1275.0 650.0,1275.3 650.5,1275.5 651.0,1275.8 651.5,1276.0 652.0,1276.3 652.5,1276.5 653.0,1276.8 653.5,1277.0 654.0,1277.2 654.5,1277.4 655.0,1277.7 655.5,1277.9 656.0,1278.1 656.5,1278.3 657.0,1278.5 657.5,1278.7 658.0,1278.9 658.5,1279.1 659.0,1279.3 659.5,1279.4 660.0,1279.6 660.5,1279.8 661.0,1279.9 661.5,1280.1 662.0,1280.3 662.5,1280.4 663.0,1280.6 663.5,1280.7 664.0,1280.8 664.5,1281.0 665.0,1281.1 665.5,1281.2 666.0,1281.3 666.5,1281.5 667.0,1281.6 667.5,1281.7 668.0,1281.8 668.5,1281.9 669.0,1282.0 669.5,1282.0 670.0,1282.1 670.5,1282.2 671.0,1282.3 671.5,1282.4 672.0,1282.4 672.5,1282.5 673.0,1282.5 673.5,1282.6 674.0,1282.6 674.5,1282.7 675.0,1282.7 675.5,1282.7 676.0,1282.8 676.5,1282.8 677.0,1282.8 677.5,1282.8 678.0,1282.8 678.5,1282.8 679.0,1282.8 679.5,1282.8 680.0,1282.8 680.5,1282.8 681.0,1282.8 681.5,1282.8 682.0,1282.7 682.5,1282.7 683.0,1282.7 683.5,1282.6 684.0,1282.6 684.5,1282.5 685.0,1282.5 685.5,1282.4 686.0,1282.3 686.5,1282.3 687.0,1282.2 687.5,1282.1 688.0,1282.0 688.5,1281.9 689.0,1281.8 689.5,1281.7 690.0,1281.6 690.5,1281.5 691.0,1281.4 691.5,1281.3 692.0,1281.2 692.5,1281.0 693.0,1280.9 693.5,1280.8 694.0,1280.6 694.5,1280.5 695.0,1280.3 695.5,1280.2 696.0,1280.0 696.5,1279.8 697.0,1279.7 697.5,1279.5 698.0,1279.3 698.5,1279.1 699.0,1278.9 699.5,1278.7 700.0,1278.5 700.5,1278.3 701.0,1278.1 701.5,1277.9 702.0,1277.7 702.5,1277.5 703.0,1277.2 703.5,1277.0 704.0,1276.8 704.5,1276.5 705.0,1276.3 705.5,1276.0 706.0,1275.7 706.5,1275.5 707.0,1275.2 707.5,1274.9 708.0,1274.6 708.5,1274.4 709.0,1274.1 709.5,1273.8 710.0,1273.5 710.5,1273.1 711.0,1272.8 711.5,1272.5 712.0,1272.2 712.5,1271.9 713.0,1271.5 713.5,1271.2 714.0,1270.8 714.5,1270.5 715.0,1270.1 715.5,1269.8 716.0,1269.4 716.5,1269.0 717.0,1268.6 717.5,1268.3 718.0,1267.9 718.5,1267.5 719.0,1267.1 719.5,1266.7 720.0,1266.2 720.5,1265.8 721.0,1265.4 721.5,1265.0 722.0,1264.5 722.5,1264.1 723.0,1263.7 723.5,1263.2 724.0,1262.7 724.5,1262.3 725.0,1261.8 725.5,1261.3 726.0,1260.9 726.5,1260.4 727.0,1259.9 727.5,1259.4 728.0,1258.9 728.5,1258.4 729.0,1257.8 729.5,1257.3 730.0,1256.8 730.5,1256.3 731.0,1255.7 731.5,1255.2 732.0,1254.6 732.5,1254.1 733.0,1253.5 733.5,1252.9 734.0,1252.4 734.5,1251.8 735.0,1251.2 735.5,1250.6 736.0,1250.0 736.5,1249.4 737.0,1248.8 737.5,1248.2 738.0,1247.5 738.5,1246.9 739.0,1246.3 739.5,1245.6 740.0,1245.0 740.5,1244.3 741.0,1243.7 741.5,1243.0 742.0,1242.3 742.5,1241.6 743.0,1241.0 743.5,1240.3 744.0,1239.6 744.5,1238.9 745.0,1238.2 745.5,1237.5 746.0,1236.8 746.5,1236.1 747.0,1235.3 747.5,1234.6 748.0,1233.9 748.5,1233.2 749.0,1232.4 749.5,1231.7 750.0,1230.9 750.5,1230.2 751.0,1229.5 751.5,1228.7 752.0,1227.9 752.5,1227.2 753.0,1226.4 753.5,1225.7 754.0,1224.9 754.5,1224.1 755.0,1223.4 755.5,1222.6 756.0,1221.8 756.5,1221.1 757.0,1220.3 757.5,1219.5 758.0,1218.7 758.5,1218.0 759.0,1217.2 759.5,1216.4 760.0,1215.6 760.5,1214.8 761.0,1214.1 761.5,1213.3 762.0,1212.5 762.5,1211.7 763.0,1210.9 763.5,1210.1 764.0,1209.4 764.5,1208.6 765.0,1207.8 765.5,1207.0 766.0,1206.2 766.5,1205.5 767.0,1204.7 767.5,1203.9 768.0,1203.1 768.5,1202.3 769.0,1201.6 769.5,1200.8 770.0,1200.0 770.5,1199.2 771.0,1198.4 771.5,1197.7 772.0,1196.9 772.5,1196.1 773.0,1195.3 773.5,1194.5 774.0,1193.8 774.5,1193.0 775.0,1192.2 775.5,1191.4 776.0,1190.6 776.5,1189.8 777.0,1189.1 777.5,1188.3 778.0,1187.5 778.5,1186.7 779.0,1185.9 779.5,1185.1 780.0,1184.3 780.5,1183.5 781.0,1182.7 781.5,1181.9 782.0,1181.2 782.5,1180.4 783.0,1179.6 783.5,1178.8 784.0,1178.0 784.5,1177.2 785.0,1176.4 785.5,1175.6 786.0,1174.8 786.5,1174.0 787.0,1173.1 787.5,1172.3 788.0,1171.5 788.5,1170.7 789.0,1169.9 789.5,1169.1 790.0,1168.3 790.5,1167.5 791.0,1166.6 791.5,1165.8 792.0,1165.0 792.5,1164.2 793.0,1163.3 793.5,1162.5 794.0,1161.7 794.5,1160.8 795.0,1160.0 795.5,1159.2 796.0,1158.3 796.5,1157.5 797.0,1156.7 797.5,1155.8 798.0,1155.0 798.5,1154.1 799.0,1153.3 799.5,1152.4 800.0,1151.5 800.5,1150.7 801.0,1149.8 801.5,1149.0 802.0,1148.1 802.5,1147.2 803.0,1146.3 803.5,1145.5 804.0,1144.6 804.5,1143.7 805.0,1142.8 805.5,1141.9 806.0,1141.1 806.5,1140.2 807.0,1139.3 807.5,1138.4 808.0,1137.5 808.5,1136.6 809.0,1135.7 809.5,1134.8 810.0,1133.9 810.5,1132.9 811.0,1132.0 811.5,1131.1 812.0,1130.2 812.5,1129.3 813.0,1128.3 813.5,1127.4 814.0,1126.5 814.5,1125.6 815.0,1124.6 815.5,1123.7 816.0,1122.7 816.5,1121.8 817.0,1120.9 817.5,1119.9 818.0,1119.0 818.5,1118.0 819.0,1117.1 819.5,1116.1 820.0,1115.1 820.5,1114.2 821.0,1113.2 821.5,1112.2 822.0,1111.3 822.5,1110.3 823.0,1109.3 823.5,1108.3 824.0,1107.3 824.5,1106.4 825.0,1105.4 825.5,1104.4 826.0,1103.4 826.5,1102.4 827.0,1101.4 827.5,1100.4 828.0,1099.4 828.5,1098.4 829.0,1097.4 829.5,1096.4 830.0,1095.3 830.5,1094.3 831.0,1093.3 831.5,1092.3 832.0,1091.3 832.5,1090.2 833.0,1089.2 833.5,1088.2 834.0,1087.1 834.5,1086.1 835.0,1085.1 835.5,1084.0 836.0,1083.0 836.5,1081.9 837.0,1080.9 837.5,1079.8 838.0,1078.7 838.5,1077.7 839.0,1076.6 839.5,1075.6 840.0,1074.5 840.5,1073.4 841.0,1072.3 841.5,1071.3 842.0,1070.2 842.5,1069.1 843.0,1068.0 843.5,1066.9 844.0,1065.8 844.5,1064.7 845.0,1063.6 845.5,1062.5 846.0,1061.4 846.5,1060.3 847.0,1059.2 847.5,1058.1 848.0,1057.0 848.5,1055.9 849.0,1054.8 849.5,1053.6 850.0,1052.5 850.5,1051.4 851.0,1050.2 851.5,1049.1 852.0,1048.0 852.5,1046.8 853.0,1045.7 853.5,1044.6 854.0,1043.4 854.5,1042.3 855.0,1041.1 855.5,1039.9 856.0,1038.8 856.5,1037.6 857.0,1036.5 857.5,1035.3 858.0,1034.1 858.5,1032.9 859.0,1031.8 859.5,1030.6 860.0,1029.4 860.5,1028.2 861.0,1027.0 861.5,1025.8 862.0,1024.6 862.5,1023.5 863.0,1022.3 863.5,1021.1 864.0,1019.8 864.5,1018.6 865.0,1017.4 865.5,1016.2 866.0,1015.0 866.5,1013.8 867.0,1012.6 867.5,1011.3 868.0,1010.1 868.5,1008.9 869.0,1007.6 869.5,1006.4 870.0,1005.2 870.5,1003.9 871.0,1002.7 871.5,1001.4 872.0,1000.2 872.5,998.9 873.0,997.6 873.5,996.4 874.0,995.1 874.5,993.9 875.0,992.6 875.5,991.3 876.0,990.0 876.5,988.8 877.0,987.5 877.5,986.2 878.0,984.9 878.5,983.6 879.0,982.3 879.5,981.0 880.0,979.7 880.5,978.4 881.0,977.1 881.5,975.8 882.0,974.5 882.5,973.2 883.0,971.9 883.5,970.6 884.0,969.3 884.5,967.9 885.0,966.6 885.5,965.3 886.0,964.0 886.5,962.6 887.0,961.3 887.5,960.0 888.0,958.6 888.5,957.3 889.0,955.9 889.5,954.6 890.0,953.2 890.5,951.9 891.0,950.5 891.5,949.2 892.0,947.8 892.5,946.5 893.0,945.1 893.5,943.7 894.0,942.4 894.5,941.0 895.0,939.6 895.5,938.2 896.0,936.9 896.5,935.5 897.0,934.1 897.5,932.7 898.0,931.3 898.5,929.9 899.0,928.6 899.5,927.2 900.0,925.8 900.5,924.4 901.0,923.0 901.5,921.6 902.0,920.2 902.5,918.8 903.0,917.4 903.5,915.9 904.0,914.5 904.5,913.1 905.0,911.7 905.5,910.3 906.0,908.9 906.5,907.4 907.0,906.0 907.5,904.6 908.0,903.2 908.5,901.7 909.0,900.3 909.5,898.9 910.0,897.4 910.5,896.0 911.0,894.6 911.5,893.1 912.0,891.7 912.5,890.2 913.0,888.8 913.5,887.3 914.0,885.9 914.5,884.4 915.0,883.0 915.5,881.5 916.0,880.1 916.5,878.6 917.0,877.2 917.5,875.7 918.0,874.2 918.5,872.8 919.0,871.3 919.5,869.8 920.0,868.4 920.5,866.9 921.0,865.4 921.5,863.9 922.0,862.5 922.5,861.0 923.0,859.5 923.5,858.0 924.0,856.6 924.5,855.1 925.0,853.6 925.5,852.1 926.0,850.6 926.5,849.1 927.0,847.6 927.5,846.1 928.0,844.6 928.5,843.1 929.0,841.7 929.5,840.2 930.0,838.7 930.5,837.2 931.0,835.7 931.5,834.2 932.0,832.6 932.5,831.1 933.0,829.6 933.5,828.1 934.0,826.6 934.5,825.1 935.0,823.6 935.5,822.1 936.0,820.6 936.5,819.1 937.0,817.5 937.5,816.0 938.0,814.5 938.5,813.0 939.0,811.5 939.5,809.9 940.0,808.4 940.5,806.9 941.0,805.4 941.5,803.9 942.0,802.3 942.5,800.8 943.0,799.3 943.5,797.7 944.0,796.2 944.5,794.7 945.0,793.2 945.5,791.6 946.0,790.1 946.5,788.5 947.0,787.0 947.5,785.5 948.0,783.9 948.5,782.4 949.0,780.9 949.5,779.3 950.0,777.8 950.5,776.2 951.0,774.7 951.5,773.2 952.0,771.6 952.5,770.1 953.0,768.5 953.5,767.0 954.0,765.4 954.5,763.9 955.0,762.3 955.5,760.8 956.0,759.3 956.5,757.7 957.0,756.2 957.5,754.6 958.0,753.1 958.5,751.5 959.0,750.0 959.5,748.4 960.0,746.8 960.5,745.3 961.0,743.7 961.5,742.2 962.0,740.6 962.5,739.1 963.0,737.5 963.5,736.0 964.0,734.4 964.5,732.9 965.0,731.3 965.5,729.7 966.0,728.2 966.5,726.6 967.0,725.1 967.5,723.5 968.0,722.0 968.5,720.4 969.0,718.8 969.5,717.3 970.0,715.7 970.5,714.2 971.0,712.6 971.5,711.0 972.0,709.5 972.5,707.9 973.0,706.4 973.5,704.8 974.0,703.2 974.5,701.7 975.0,700.1 975.5,698.6 976.0,697.0 976.5,695.4 977.0,693.9 977.5,692.3 978.0,690.8 978.5,689.2 979.0,687.6 979.5,686.1 980.0,684.5 980.5,683.0 981.0,681.4 981.5,679.8 982.0,678.3 982.5,676.7 983.0,675.2 983.5,673.6 984.0,672.1 984.5,670.5 985.0,668.9 985.5,667.4 986.0,665.8 986.5,664.3 987.0,662.7 987.5,661.1 988.0,659.6 988.5,658.0 989.0,656.5 989.5,654.9 990.0,653.4 990.5,651.8 991.0,650.3 991.5,648.7 992.0,647.1 992.5,645.6 993.0,644.0 993.5,642.5 994.0,640.9 994.5,639.4 995.0,637.8 995.5,636.3 996.0,634.7 996.5,633.2 997.0,631.6 997.5,630.1 998.0,628.5 998.5,627.0 999.0,625.4 999.5,623.9 1000.0,622.3 1000.5,620.8 1001.0,619.3 1001.5,617.7 1002.0,616.2 1002.5,614.6 1003.0,613.1 1003.5,611.5 1004.0,610.0 1004.5,608.5 1005.0,606.9 1005.5,605.4 1006.0,603.9 1006.5,602.3 1007.0,600.8 1007.5,599.2 1008.0,597.7 1008.5,596.2 1009.0,594.7 1009.5,593.1 1010.0,591.6 1010.5,590.1 1011.0,588.5 1011.5,587.0 1012.0,585.5 1012.5,583.9 1013.0,582.4 1013.5,580.9 1014.0,579.4 1014.5,577.8 1015.0,576.3 1015.5,574.8 1016.0,573.2 1016.5,571.7 1017.0,570.2 1017.5,568.6 1018.0,567.1 1018.5,565.6 1019.0,564.1 1019.5,562.5 1020.0,561.0 1020.5,559.5 1021.0,557.9 1021.5,556.4 1022.0,554.8 1022.5,553.3 1023.0,551.8 1023.5,550.2 1024.0,548.7 1024.5,547.1 1025.0,545.6 1025.5,544.0 1026.0,542.5 1026.5,540.9 1027.0,539.4 1027.5,537.8 1028.0,536.3 1028.5,534.7 1029.0,533.2 1029.5,531.6 1030.0,530.0 1030.5,528.5 1031.0,526.9 1031.5,525.3 1032.0,523.7 1032.5,522.2 1033.0,520.6 1033.5,519.0 1034.0,517.4 1034.5,515.8 1035.0,514.2 1035.5,512.6 1036.0,511.0 1036.5,509.4 1037.0,507.8 1037.5,506.2 1038.0,504.6 1038.5,503.0 1039.0,501.4 1039.5,499.8 1040.0,498.1 1040.5,496.5 1041.0,494.9 1041.5,493.3 1042.0,491.6 1042.5,490.0 1043.0,488.3 1043.5,486.7 1044.0,485.0 1044.5,483.4 1045.0,481.7 1045.5,480.0 1046.0,478.3 1046.5,476.7 1047.0,475.0 1047.5,473.3 1048.0,471.6 1048.5,469.9 1049.0,468.2 1049.5,466.5 1050.0,464.8 1050.5,463.1 1051.0,461.3 1051.5,459.6 1052.0,457.9 1052.5,456.1 1053.0,454.4 1053.5,452.7 1054.0,450.9 1054.5,449.2 1055.0,447.4 1055.5,445.6 1056.0,443.9 1056.5,442.1 1057.0,440.3 1057.5,438.5 1058.0,436.8 1058.5,435.0 1059.0,433.2 1059.5,431.4 1060.0,429.6 1060.5,427.8 1061.0,426.1 1061.5,424.3 1062.0,422.5 1062.5,420.7 1063.0,418.9 1063.5,417.1 1064.0,415.3 1064.5,413.5 1065.0,411.7 1065.5,409.9 1066.0,408.2 1066.5,406.4 1067.0,404.6 1067.5,402.8 1068.0,401.0 1068.5,399.2 1069.0,397.5 1069.5,395.7 1070.0,393.9 1070.5,392.1 1071.0,390.4 1071.5,388.6 1072.0,386.9 1072.5,385.1 1073.0,383.4 1073.5,381.6 1074.0,379.9 1074.5,378.1 1075.0,376.4 1075.5,374.7 1076.0,373.0 1076.5,371.2 1077.0,369.5 1077.5,367.8 1078.0,366.1 1078.5,364.4 1079.0,362.7 1079.5,361.0 1080.0,359.4 1080.5,357.7 1081.0,356.0 1081.5,354.3 1082.0,352.7 1082.5,351.0 1083.0,349.3 1083.5,347.7 1084.0,346.0 1084.5,344.4 1085.0,342.7 1085.5,341.1 1086.0,339.5 1086.5,337.8 1087.0,336.2 1087.5,334.6 1088.0,333.0 1088.5,331.3 1089.0,329.7 1089.5,328.1 1090.0,326.5 1090.5,324.9 1091.0,323.3 1091.5,321.7 1092.0,320.1 1092.5,318.5 1093.0,317.0 1093.5,315.4 1094.0,313.8 1094.5,312.2 1095.0,310.6 1095.5,309.1 1096.0,307.5 1096.5,305.9 1097.0,304.4 1097.5,302.8 1098.0,301.3 1098.5,299.7 1099.0,298.2 1099.5,296.6 1100.0,295.1 1100.5,293.5 1101.0,292.0 1101.5,290.5 1102.0,288.9 1102.5,287.4 1103.0,285.9 1103.5,284.4 1104.0,282.9 1104.5,281.4 1105.0,279.9 1105.5,278.3 1106.0,276.9 1106.5,275.4 1107.0,273.9 1107.5,272.4 1108.0,270.9 1108.5,269.4 1109.0,268.0 1109.5,266.5 1110.0,265.0 1110.5,263.6 1111.0,262.1 1111.5,260.7 1112.0,259.3 1112.5,257.8 1113.0,256.4 1113.5,255.0 1114.0,253.6 1114.5,252.2 1115.0,250.8 1115.5,249.4 1116.0,248.0 1116.5,246.6 1117.0,245.2 1117.5,243.8 1118.0,242.5 1118.5,241.1 1119.0,239.8 1119.5,238.4 1120.0,237.1 1120.5,235.8 1121.0,234.5 1121.5,233.1 1122.0,231.8 1122.5,230.5 1123.0,229.2 1123.5,228.0 1124.0,226.7 1124.5,225.4 1125.0,224.2 1125.5,222.9 1126.0,221.7 1126.5,220.4 1127.0,219.2 1127.5,218.0 1128.0,216.8 1128.5,215.6 1129.0,214.4 1129.5,213.2 1130.0,212.1 1130.5,210.9 1131.0,209.7 1131.5,208.6 1132.0,207.5 1132.5,206.3 1133.0,205.2 1133.5,204.1 1134.0,203.0 1134.5,201.9 1135.0,200.9 1135.5,199.8 1136.0,198.8 1136.5,197.7 1137.0,196.7 1137.5,195.7 1138.0,194.7 1138.5,193.7 1139.0,192.7 1139.5,191.7 1140.0,190.7 1140.5,189.8 1141.0,188.8 1141.5,187.9 1142.0,187.0 1142.5,186.1 1143.0,185.2 1143.5,184.3 1144.0,183.4 1144.5,182.5 1145.0,181.7 1145.5,180.9 1146.0,180.0 1146.5,179.2 1147.0,178.4 1147.5,177.6 1148.0,176.9 1148.5,176.1 1149.0,175.3 1149.5,174.6 1150.0,173.9 1150.5,173.2 1151.0,172.5 1151.5,171.8 1152.0,171.1 1152.5,170.5 1153.0,169.8 1153.5,169.2 1154.0,168.6 1154.5,168.0 1155.0,167.4 1155.5,166.8 1156.0,166.3 1156.5,165.7 1157.0,165.2 1157.5,164.7 1158.0,164.2 1158.5,163.7 1159.0,163.2 1159.5,162.8 1160.0,162.3 1160.5,161.9 1161.0,161.5 1161.5,161.1 1162.0,160.7 1162.5,160.3 1163.0,159.9 1163.5,159.6 1164.0,159.3 1164.5,158.9 1165.0,158.6 1165.5,158.4 1166.0,158.1 1166.5,157.8 1167.0,157.6 1167.5,157.3 1168.0,157.1 1168.5,156.9 1169.0,156.7 1169.5,156.5 1170.0,156.4 1170.5,156.2 1171.0,156.1 1171.5,156.0 1172.0,155.9 1172.5,155.8 1173.0,155.7 1173.5,155.6 1174.0,155.6 1174.5,155.6 1175.0,155.5 1175.5,155.5 1176.0,155.5 1176.5,155.6 1177.0,155.6 1177.5,155.7 1178.0,155.8 1178.5,155.9 1179.0,156.0 1179.5,156.1 1180.0,156.2 1180.5,156.4 1181.0,156.6 1181.5,156.8 1182.0,157.0 1182.5,157.2 1183.0,157.5 1183.5,157.7 1184.0,158.0 1184.5,158.3 1185.0,158.6 1185.5,159.0 1186.0,159.3 1186.5,159.7 1187.0,160.1 1187.5,160.5 1188.0,160.9 1188.5,161.4 1189.0,161.8 1189.5,162.3 1190.0,162.8 1190.5,163.3 1191.0,163.8 1191.5,164.4 1192.0,164.9 1192.5,165.5 1193.0,166.1 1193.5,166.7 1194.0,167.4 1194.5,168.0 1195.0,168.7 1195.5,169.4 1196.0,170.1 1196.5,170.8 1197.0,171.5 1197.5,172.3 1198.0,173.0 1198.5,173.8 1199.0,174.6 1199.5,175.4 1200.0,176.3 1200.5,177.1 1201.0,178.0 1201.5,178.9 1202.0,179.8 1202.5,180.7 1203.0,181.7 1203.5,182.6 1204.0,183.6 1204.5,184.6 1205.0,185.6 1205.5,186.6 1206.0,187.7 1206.5,188.7 1207.0,189.8 1207.5,190.9 1208.0,192.0 1208.5,193.1 1209.0,194.3 1209.5,195.5 1210.0,196.6 1210.5,197.8 1211.0,199.0 1211.5,200.3 1212.0,201.5 1212.5,202.8 1213.0,204.0 1213.5,205.3 1214.0,206.6 1214.5,208.0 1215.0,209.3 1215.5,210.7 1216.0,212.1 1216.5,213.5 1217.0,214.9 1217.5,216.3 1218.0,217.7 1218.5,219.2 1219.0,220.7 1219.5,222.2 1220.0,223.7 1220.5,225.2 1221.0,226.7 1221.5,228.3 1222.0,229.9 1222.5,231.5 1223.0,233.1 1223.5,234.7 1224.0,236.3 1224.5,238.0 1225.0,239.7 1225.5,241.3 1226.0,243.1 1226.5,244.8 1227.0,246.5 1227.5,248.3 1228.0,250.0 1228.5,251.8 1229.0,253.6 1229.5,255.4 1230.0,257.3 1230.5,259.1 1231.0,261.0 1231.5,262.9 1232.0,264.8 1232.5,266.7 1233.0,268.6 1233.5,270.5 1234.0,272.5 1234.5,274.4 1235.0,276.4 1235.5,278.4 1236.0,280.4 1236.5,282.4 1237.0,284.5 1237.5,286.5 1238.0,288.6 1238.5,290.6 1239.0,292.7 1239.5,294.8 1240.0,296.9 1240.5,299.0 1241.0,301.2 1241.5,303.3 1242.0,305.5 1242.5,307.7 1243.0,309.8 1243.5,312.0 1244.0,314.2 1244.5,316.4 1245.0,318.7 1245.5,320.9 1246.0,323.1 1246.5,325.4 1247.0,327.6 1247.5,329.9 1248.0,332.2 1248.5,334.5 1249.0,336.8 1249.5,339.1 1250.0,341.4 1250.5,343.8 1251.0,346.1 1251.5,348.4 1252.0,350.8 1252.5,353.2 1253.0,355.5 1253.5,357.9 1254.0,360.3 1254.5,362.7 1255.0,365.1 1255.5,367.5 1256.0,369.9 1256.5,372.3 1257.0,374.8 1257.5,377.2 1258.0,379.7 1258.5,382.1 1259.0,384.6 1259.5,387.0 1260.0,389.5 1260.5,392.0 1261.0,394.4 1261.5,396.9 1262.0,399.4 1262.5,401.9 1263.0,404.4 1263.5,406.9 1264.0,409.4 1264.5,411.9 1265.0,414.5 1265.5,417.0 1266.0,419.5 1266.5,422.0 1267.0,424.6 1267.5,427.1 1268.0,429.6 1268.5,432.2 1269.0,434.7 1269.5,437.3 1270.0,439.8 1270.5,442.4 1271.0,444.9 1271.5,447.5 1272.0,450.0 1272.5,452.6 1273.0,455.2 1273.5,457.7 1274.0,460.3 1274.5,462.9 1275.0,465.4 1275.5,468.0 1276.0,470.6 1276.5,473.1 1277.0,475.7 1277.5,478.3 1278.0,480.8 1278.5,483.4 1279.0,486.0 1279.5,488.6 1280.0,491.1 1280.5,493.7 1281.0,496.3 1281.5,498.8 1282.0,501.4 1282.5,503.9 1283.0,506.5 1283.5,509.1 1284.0,511.6 1284.5,514.2 1285.0,516.7 1285.5,519.3 1286.0,521.8 1286.5,524.4 1287.0,526.9 1287.5,529.5 1288.0,532.0 1288.5,534.5 1289.0,537.1 1289.5,539.6 1290.0,542.1 1290.5,544.6 1291.0,547.1 1291.5,549.6 1292.0,552.2 1292.5,554.7 1293.0,557.2 1293.5,559.6 1294.0,562.1 1294.5,564.6 1295.0,567.1 1295.5,569.6 1296.0,572.1 1296.5,574.5 1297.0,577.0 1297.5,579.5 1298.0,581.9 1298.5,584.4 1299.0,586.8 1299.5,589.3 1300.0,591.7 1300.5,594.2 1301.0,596.6 1301.5,599.1 1302.0,601.5 1302.5,603.9 1303.0,606.4 1303.5,608.8 1304.0,611.2 1304.5,613.6 1305.0,616.1 1305.5,618.5 1306.0,620.9 1306.5,623.3 1307.0,625.7 1307.5,628.1 1308.0,630.5 1308.5,632.9 1309.0,635.3 1309.5,637.7 1310.0,640.1 1310.5,642.5 1311.0,644.9 1311.5,647.3 1312.0,649.7 1312.5,652.1 1313.0,654.4 1313.5,656.8 1314.0,659.2 1314.5,661.6 1315.0,664.0 1315.5,666.3 1316.0,668.7 1316.5,671.1 1317.0,673.5 1317.5,675.8 1318.0,678.2 1318.5,680.6 1319.0,682.9 1319.5,685.3 1320.0,687.7 1320.5,690.0 1321.0,692.4 1321.5,694.7 1322.0,697.1 1322.5,699.5 1323.0,701.8 1323.5,704.2 1324.0,706.5 1324.5,708.9 1325.0,711.2 1325.5,713.6 1326.0,716.0 1326.5,718.3 1327.0,720.7 1327.5,723.0 1328.0,725.4 1328.5,727.7 1329.0,730.1 1329.5,732.4 1330.0,734.8 1330.5,737.1 1331.0,739.5 1331.5,741.8 1332.0,744.2 1332.5,746.5 1333.0,748.9 1333.5,751.2 1334.0,753.6 1334.5,756.0 1335.0,758.3 1335.5,760.7 1336.0,763.0 1336.5,765.4 1337.0,767.7 1337.5,770.1 1338.0,772.4 1338.5,774.8 1339.0,777.1 1339.5,779.5 1340.0,781.8 1340.5,784.2 1341.0,786.6 1341.5,788.9 1342.0,791.3 1342.5,793.6 1343.0,796.0 1343.5,798.3 1344.0,800.7 1344.5,803.0 1345.0,805.4 1345.5,807.7 1346.0,810.1 1346.5,812.4 1347.0,814.8 1347.5,817.1 1348.0,819.5 1348.5,821.8 1349.0,824.1 1349.5,826.5 1350.0,828.8 1350.5,831.2 1351.0,833.5 1351.5,835.9 1352.0,838.2 1352.5,840.5 1353.0,842.9 1353.5,845.2 1354.0,847.5 1354.5,849.9 1355.0,852.2 1355.5,854.5 1356.0,856.9 1356.5,859.2 1357.0,861.5 1357.5,863.9 1358.0,866.2 1358.5,868.5 1359.0,870.8 1359.5,873.1 1360.0,875.5 1360.5,877.8 1361.0,880.1 1361.5,882.4 1362.0,884.7 1362.5,887.0 1363.0,889.3 1363.5,891.6 1364.0,893.9 1364.5,896.2 1365.0,898.5 1365.5,900.8 1366.0,903.1 1366.5,905.4 1367.0,907.7 1367.5,910.0 1368.0,912.3 1368.5,914.6 1369.0,916.9 1369.5,919.2 1370.0,921.4 1370.5,923.7 1371.0,926.0 1371.5,928.3 1372.0,930.5 1372.5,932.8 1373.0,935.1 1373.5,937.3 1374.0,939.6 1374.5,941.8 1375.0,944.1 1375.5,946.4 1376.0,948.6 1376.5,950.9 1377.0,953.1 1377.5,955.3 1378.0,957.6 1378.5,959.8 1379.0,962.0 1379.5,964.3 1380.0,966.5 1380.5,968.7 1381.0,970.9 1381.5,973.2 1382.0,975.4 1382.5,977.6 1383.0,979.8 1383.5,982.0 1384.0,984.2 1384.5,986.4 1385.0,988.6 1385.5,990.8 1386.0,993.0 1386.5,995.2 1387.0,997.3 1387.5,999.5 1388.0,1001.7 1388.5,1003.9 1389.0,1006.0 1389.5,1008.2 1390.0,1010.4 1390.5,1012.5 1391.0,1014.7 1391.5,1016.8 1392.0,1019.0 1392.5,1021.1 1393.0,1023.2 1393.5,1025.4 1394.0,1027.5 1394.5,1029.6 1395.0,1031.7 1395.5,1033.9 1396.0,1036.0 1396.5,1038.1 1397.0,1040.2 1397.5,1042.3 1398.0,1044.4 1398.5,1046.5 1399.0,1048.6 1399.5,1050.6 1400.0,1052.7 1400.5,1054.8 1401.0,1056.9 1401.5,1058.9 1402.0,1061.0 1402.5,1063.1 1403.0,1065.1 1403.5,1067.2 1404.0,1069.2 1404.5,1071.2 1405.0,1073.3 1405.5,1075.3 1406.0,1077.3 1406.5,1079.3 1407.0,1081.4 1407.5,1083.4 1408.0,1085.4 1408.5,1087.4 1409.0,1089.4 1409.5,1091.3 1410.0,1093.3 1410.5,1095.3 1411.0,1097.3 1411.5,1099.3 1412.0,1101.2 1412.5,1103.2 1413.0,1105.1 1413.5,1107.1 1414.0,1109.0 1414.5,1111.0 1415.0,1112.9 1415.5,1114.8 1416.0,1116.7 1416.5,1118.6 1417.0,1120.6 1417.5,1122.5 1418.0,1124.4 1418.5,1126.3 1419.0,1128.1 1419.5,1130.0 1420.0,1131.9 1420.5,1133.8 1421.0,1135.6 1421.5,1137.5 1422.0,1139.3 1422.5,1141.2 1423.0,1143.0 1423.5,1144.8 1424.0,1146.6 1424.5,1148.5 1425.0,1150.3 1425.5,1152.1 1426.0,1153.8 1426.5,1155.6 1427.0,1157.4 1427.5,1159.2 1428.0,1160.9 1428.5,1162.7 1429.0,1164.4 1429.5,1166.2 1430.0,1167.9 1430.5,1169.6 1431.0,1171.3 1431.5,1173.0 1432.0,1174.7 1432.5,1176.4 1433.0,1178.0 1433.5,1179.7 1434.0,1181.3 1434.5,1183.0 1435.0,1184.6 1435.5,1186.2 1436.0,1187.9 1436.5,1189.5 1437.0,1191.0 1437.5,1192.6 1438.0,1194.2 1438.5,1195.8 1439.0,1197.3 1439.5,1198.8 1440.0,1200.4 1440.5,1201.9 1441.0,1203.4 1441.5,1204.9 1442.0,1206.4 1442.5,1207.8 1443.0,1209.3 1443.5,1210.8 1444.0,1212.2 1444.5,1213.6 1445.0,1215.0 1445.5,1216.4 1446.0,1217.8 1446.5,1219.2 1447.0,1220.5 1447.5,1221.9 1448.0,1223.2 1448.5,1224.6 1449.0,1225.9 1449.5,1227.2 1450.0,1228.4 1450.5,1229.7 1451.0,1231.0 1451.5,1232.2 1452.0,1233.4 1452.5,1234.7 1453.0,1235.9 1453.5,1237.0 1454.0,1238.2 1454.5,1239.4 1455.0,1240.5 1455.5,1241.6 1456.0,1242.8 1456.5,1243.9 1457.0,1244.9 1457.5,1246.0 1458.0,1247.1 1458.5,1248.1 1459.0,1249.1 1459.5,1250.2 1460.0,1251.2 1460.5,1252.2 1461.0,1253.1 1461.5,1254.1 1462.0,1255.0 1462.5,1256.0 1463.0,1256.9 1463.5,1257.8 1464.0,1258.7 1464.5,1259.6 1465.0,1260.5 1465.5,1261.4 1466.0,1262.2 1466.5,1263.0 1467.0,1263.9 1467.5,1264.7 1468.0,1265.5 1468.5,1266.3 1469.0,1267.1 1469.5,1267.9 1470.0,1268.6 1470.5,1269.4 1471.0,1270.1 1471.5,1270.9 1472.0,1271.6 1472.5,1272.3 1473.0,1273.0 1473.5,1273.7 1474.0,1274.4 1474.5,1275.1 1475.0,1275.8 1475.5,1276.5 1476.0,1277.1 1476.5,1277.8 1477.0,1278.4 1477.5,1279.0 1478.0,1279.7 1478.5,1280.3 1479.0,1280.9 1479.5,1281.5 1480.0,1282.1 1480.5,1282.7 1481.0,1283.3 1481.5,1283.8 1482.0,1284.4 1482.5,1285.0 1483.0,1285.5 1483.5,1286.1 1484.0,1286.6 1484.5,1287.2 1485.0,1287.7 1485.5,1288.2 1486.0,1288.8 1486.5,1289.3 1487.0,1289.8 1487.5,1290.3 1488.0,1290.8 1488.5,1291.3 1489.0,1291.8 1489.5,1292.3 1490.0,1292.8 1490.5,1293.3 1491.0,1293.8 1491.5,1294.2 1492.0,1294.7 1492.5,1295.2 1493.0,1295.7 1493.5,1296.1 1494.0,1296.6 1494.5,1297.1 1495.0,1297.5 1495.5,1298.0 1496.0,1298.5 1496.5,1298.9 1497.0,1299.4 1497.5,1299.9 1498.0,1300.4 1498.5,1300.8 1499.0,1301.3 1499.5,1301.8 1500.0,1302.2 1500.5,1302.7 1501.0,1303.2 1501.5,1303.7 1502.0,1304.1 1502.5,1304.6 1503.0,1305.1 1503.5,1305.6 1504.0,1306.1 1504.5,1306.6 1505.0,1307.1 1505.5,1307.5 1506.0,1308.0 1506.5,1308.5 1507.0,1309.0 1507.5,1309.5 1508.0,1310.0 1508.5,1310.5 1509.0,1311.0 1509.5,1311.5 1510.0,1312.0 1510.5,1312.5 1511.0,1313.0 1511.5,1313.4 1512.0,1313.9 1512.5,1314.4 1513.0,1314.9 1513.5,1315.4 1514.0,1315.9 1514.5,1316.4 1515.0,1316.9 1515.5,1317.4 1516.0,1317.9 1516.5,1318.4 1517.0,1318.8 1517.5,1319.3 1518.0,1319.8 1518.5,1320.3 1519.0,1320.8 1519.5,1321.2 1520.0,1321.7 1520.5,1322.2 1521.0,1322.7 1521.5,1323.1 1522.0,1323.6 1522.5,1324.1 1523.0,1324.5 1523.5,1325.0 1524.0,1325.5 1524.5,1325.9 1525.0,1326.4 1525.5,1326.9 1526.0,1327.3 1526.5,1327.8 1527.0,1328.2 1527.5,1328.7 1528.0,1329.1 1528.5,1329.6 1529.0,1330.0 1529.5,1330.4 1530.0,1330.9 1530.5,1331.3 1531.0,1331.8 1531.5,1332.2 1532.0,1332.6 1532.5,1333.1 1533.0,1333.5 1533.5,1333.9 1534.0,1334.3 1534.5,1334.8 1535.0,1335.2 1535.5,1335.6 1536.0,1336.0 1536.5,1336.4 1537.0,1336.9 1537.5,1337.3 1538.0,1337.7 1538.5,1338.1 1539.0,1338.5 1539.5,1338.9 1540.0,1339.3 1540.5,1339.7 1541.0,1340.1 1541.5,1340.5 1542.0,1340.9 1542.5,1341.2 1543.0,1341.6 1543.5,1342.0 1544.0,1342.4 1544.5,1342.8 1545.0,1343.1 1545.5,1343.5 1546.0,1343.9 1546.5,1344.3 1547.0,1344.6 1547.5,1345.0 1548.0,1345.3 1548.5,1345.7 1549.0,1346.1 1549.5,1346.4 1550.0,1346.8 1550.5,1347.1 1551.0,1347.4 1551.5,1347.8 1552.0,1348.1 1552.5,1348.5 1553.0,1348.8 1553.5,1349.1 1554.0,1349.5 1554.5,1349.8 1555.0,1350.1 1555.5,1350.4 1556.0,1350.7 1556.5,1351.1 1557.0,1351.4 1557.5,1351.7 1558.0,1352.0 1558.5,1352.3 1559.0,1352.6 1559.5,1352.9 1560.0,1353.2 1560.5,1353.5 1561.0,1353.8 1561.5,1354.1 1562.0,1354.3 1562.5,1354.6 1563.0,1354.9 1563.5,1355.2 1564.0,1355.4 1564.5,1355.7 1565.0,1356.0 1565.5,1356.2 1566.0,1356.5 1566.5,1356.8 1567.0,1357.0 1567.5,1357.3 1568.0,1357.5 1568.5,1357.7 1569.0,1358.0 1569.5,1358.2 1570.0,1358.5 1570.5,1358.7 1571.0,1358.9 1571.5,1359.1 1572.0,1359.4 1572.5,1359.6 1573.0,1359.8 1573.5,1360.0 1574.0,1360.2 1574.5,1360.4 1575.0,1360.6 1575.5,1360.8 1576.0,1361.0 1576.5,1361.2 1577.0,1361.4 1577.5,1361.6 1578.0,1361.7 1578.5,1361.9 1579.0,1362.1 1579.5,1362.2 1580.0,1362.4 1580.5,1362.6 1581.0,1362.7 1581.5,1362.9 1582.0,1363.0 1582.5,1363.2 1583.0,1363.3 1583.5,1363.5 1584.0,1363.6 1584.5,1363.7 1585.0,1363.9 1585.5,1364.0 1586.0,1364.1 1586.5,1364.3 1587.0,1364.4 1587.5,1364.5 1588.0,1364.6 1588.5,1364.7 1589.0,1364.8 1589.5,1364.9 1590.0,1365.1 1590.5,1365.2 1591.0,1365.3 1591.5,1365.4 1592.0,1365.5 1592.5,1365.6 1593.0,1365.6 1593.5,1365.7 1594.0,1365.8 1594.5,1365.9 1595.0,1366.0 1595.5,1366.1 1596.0,1366.2 1596.5,1366.3 1597.0,1366.3 1597.5,1366.4 1598.0,1366.5 1598.5,1366.6 1599.0,1366.6 1599.5,1366.7 1600.0,1366.8 1600.5,1366.9 1601.0,1366.9 1601.5,1367.0 1602.0,1367.1 1602.5,1367.2 1603.0,1367.2 1603.5,1367.3 1604.0,1367.4 1604.5,1367.4 1605.0,1367.5 1605.5,1367.6 1606.0,1367.6 1606.5,1367.7 1607.0,1367.8 1607.5,1367.8 1608.0,1367.9 1608.5,1368.0 1609.0,1368.0 1609.5,1368.1 1610.0,1368.2 1610.5,1368.2 1611.0,1368.3 1611.5,1368.4 1612.0,1368.4 1612.5,1368.5 1613.0,1368.6 1613.5,1368.6 1614.0,1368.7 1614.5,1368.7 1615.0,1368.8 1615.5,1368.9 1616.0,1368.9 1616.5,1369.0 1617.0,1369.1 1617.5,1369.1 1618.0,1369.2 1618.5,1369.3 1619.0,1369.3 1619.5,1369.4 1620.0,1369.4 1620.5,1369.5 1621.0,1369.6 1621.5,1369.6 1622.0,1369.7 1622.5,1369.7 1623.0,1369.8 1623.5,1369.9 1624.0,1369.9 1624.5,1370.0 1625.0,1370.0 1625.5,1370.1 1626.0,1370.1 1626.5,1370.2 1627.0,1370.2 1627.5,1370.3 1628.0,1370.4 1628.5,1370.4 1629.0,1370.5 1629.5,1370.5 1630.0,1370.6 1630.5,1370.6 1631.0,1370.7 1631.5,1370.7 1632.0,1370.8 1632.5,1370.8 1633.0,1370.9 1633.5,1370.9 1634.0,1371.0 1634.5,1371.0 1635.0,1371.0 1635.5,1371.1 1636.0,1371.1 1636.5,1371.2 1637.0,1371.2 1637.5,1371.3 1638.0,1371.3 1638.5,1371.3 1639.0,1371.4 1639.5,1371.4 1640.0,1371.5 1640.5,1371.5 1641.0,1371.5 1641.5,1371.6 1642.0,1371.6 1642.5,1371.6 1643.0,1371.7 1643.5,1371.7 1644.0,1371.7 1644.5,1371.8 1645.0,1371.8 1645.5,1371.8 1646.0,1371.8 1646.5,1371.9 1647.0,1371.9 1647.5,1371.9 1648.0,1371.9 1648.5,1372.0 1649.0,1372.0 1649.5,1372.0 1650.0,1372.0 1650.5,1372.1 1651.0,1372.1 1651.5,1372.1 1652.0,1372.1 1652.5,1372.2 1653.0,1372.2 1653.5,1372.2 1654.0,1372.2 1654.5,1372.2 1655.0,1372.2 1655.5,1372.3 1656.0,1372.3 1656.5,1372.3 1657.0,1372.3 1657.5,1372.3 1658.0,1372.4 1658.5,1372.4 1659.0,1372.4 1659.5,1372.4 1660.0,1372.4 1660.5,1372.4 1661.0,1372.5 1661.5,1372.5 1662.0,1372.5 1662.5,1372.5 1663.0,1372.5 1663.5,1372.5 1664.0,1372.5 1664.5,1372.6 1665.0,1372.6 1665.5,1372.6 1666.0,1372.6 1666.5,1372.6 1667.0,1372.6 1667.5,1372.6 1668.0,1372.7 1668.5,1372.7 1669.0,1372.7 1669.5,1372.7 1670.0,1372.7 1670.5,1372.7 1671.0,1372.7 1671.5,1372.8 1672.0,1372.8 1672.5,1372.8 1673.0,1372.8 1673.5,1372.8 1674.0,1372.8 1674.5,1372.8 1675.0,1372.9 1675.5,1372.9 1676.0,1372.9 1676.5,1372.9 1677.0,1372.9 1677.5,1373.0 1678.0,1373.0 1678.5,1373.0 1679.0,1373.0 1679.5,1373.0 1680.0,1373.0 1680.5,1373.1 1681.0,1373.1 1681.5,1373.1 1682.0,1373.1 1682.5,1373.1 1683.0,1373.2 1683.5,1373.2 1684.0,1373.2 1684.5,1373.2 1685.0,1373.3 1685.5,1373.3 1686.0,1373.3 1686.5,1373.3 1687.0,1373.4 1687.5,1373.4 1688.0,1373.4 1688.5,1373.4 1689.0,1373.5 1689.5,1373.5 1690.0,1373.5 1690.5,1373.6 1691.0,1373.6 1691.5,1373.6 1692.0,1373.7 1692.5,1373.7 1693.0,1373.7 1693.5,1373.8 1694.0,1373.8 1694.5,1373.8 1695.0,1373.9 1695.5,1373.9 1696.0,1374.0 1696.5,1374.0 1697.0,1374.0 1697.5,1374.1 1698.0,1374.1 1698.5,1374.2 1699.0,1374.2 1699.5,1374.3 1700.0,1374.3 1700.5,1374.4 1701.0,1374.4 1701.5,1374.5 1702.0,1374.5 1702.5,1374.6 1703.0,1374.6 1703.5,1374.7 1704.0,1374.7 1704.5,1374.8 1705.0,1374.8 1705.5,1374.9 1706.0,1374.9 1706.5,1375.0 1707.0,1375.1 1707.5,1375.1 1708.0,1375.2 1708.5,1375.2 1709.0,1375.3 1709.5,1375.4 1710.0,1375.4 1710.5,1375.5 1711.0,1375.6 1711.5,1375.6 1712.0,1375.7 1712.5,1375.8 1713.0,1375.8 1713.5,1375.9 1714.0,1376.0 1714.5,1376.0 1715.0,1376.1 1715.5,1376.2 1716.0,1376.3 1716.5,1376.3 1717.0,1376.4 1717.5,1376.5 1718.0,1376.5 1718.5,1376.6 1719.0,1376.7 1719.5,1376.8 1720.0,1376.8 1720.5,1376.9 1721.0,1377.0 1721.5,1377.1 1722.0,1377.1 1722.5,1377.2 1723.0,1377.3 1723.5,1377.4 1724.0,1377.4 1724.5,1377.5 1725.0,1377.6 1725.5,1377.7 1726.0,1377.7 1726.5,1377.8 1727.0,1377.9 1727.5,1378.0 1728.0,1378.0 1728.5,1378.1 1729.0,1378.2 1729.5,1378.3 1730.0,1378.3 1730.5,1378.4 1731.0,1378.5 1731.5,1378.6 1732.0,1378.6 1732.5,1378.7 1733.0,1378.8 1733.5,1378.9 1734.0,1378.9 1734.5,1379.0 1735.0,1379.1 1735.5,1379.2 1736.0,1379.2 1736.5,1379.3 1737.0,1379.4 1737.5,1379.5 1738.0,1379.5 1738.5,1379.6 1739.0,1379.7 1739.5,1379.8 1740.0,1379.8 1740.5,1379.9 1741.0,1380.0 1741.5,1380.0 1742.0,1380.1 1742.5,1380.2 1743.0,1380.2 1743.5,1380.3 1744.0,1380.4 1744.5,1380.4 1745.0,1380.5 1745.5,1380.6 1746.0,1380.6 1746.5,1380.7 1747.0,1380.8 1747.5,1380.8 1748.0,1380.9 1748.5,1381.0 1749.0,1381.0 1749.5,1381.1 1750.0,1381.1 1750.5,1381.2 1751.0,1381.2 1751.5,1381.3 1752.0,1381.4 1752.5,1381.4 1753.0,1381.5 1753.5,1381.5 1754.0,1381.6 1754.5,1381.6 1755.0,1381.7 1755.5,1381.7 1756.0,1381.8 1756.5,1381.8 1757.0,1381.9 1757.5,1381.9 1758.0,1381.9 1758.5,1382.0 1759.0,1382.0 1759.5,1382.1 1760.0,1382.1 1760.5,1382.2 1761.0,1382.2 1761.5,1382.2 1762.0,1382.3 1762.5,1382.3 1763.0,1382.3 1763.5,1382.4 1764.0,1382.4 1764.5,1382.4 1765.0,1382.4 1765.5,1382.5 1766.0,1382.5 1766.5,1382.5 1767.0,1382.5 1767.5,1382.6 1768.0,1382.6 1768.5,1382.6 1769.0,1382.6 1769.5,1382.6 1770.0,1382.7 1770.5,1382.7 1771.0,1382.7 1771.5,1382.7 1772.0,1382.7 1772.5,1382.7 1773.0,1382.7 1773.5,1382.8 1774.0,1382.8 1774.5,1382.8 1775.0,1382.8 1775.5,1382.8 1776.0,1382.8 1776.5,1382.8 1777.0,1382.8 1777.5,1382.8 1778.0,1382.8 1778.5,1382.8 1779.0,1382.8 1779.5,1382.8 1780.0,1382.8 1780.5,1382.8 1781.0,1382.8 1781.5,1382.8 1782.0,1382.8 1782.5,1382.8 1783.0,1382.7 1783.5,1382.7 1784.0,1382.7 1784.5,1382.7 1785.0,1382.7 1785.5,1382.7 1786.0,1382.7 1786.5,1382.7 1787.0,1382.6 1787.5,1382.6 1788.0,1382.6 1788.5,1382.6 1789.0,1382.6 1789.5,1382.5 1790.0,1382.5 1790.5,1382.5 1791.0,1382.5 1791.5,1382.5 1792.0,1382.4 1792.5,1382.4 1793.0,1382.4 1793.5,1382.4 1794.0,1382.3 1794.5,1382.3 1795.0,1382.3 1795.5,1382.2 1796.0,1382.2 1796.5,1382.2 1797.0,1382.1 1797.5,1382.1 1798.0,1382.1 1798.5,1382.0 1799.0,1382.0 1799.5,1382.0 1800.0,1381.9 1800.5,1381.9 1801.0,1381.8 1801.5,1381.8 1802.0,1381.8 1802.5,1381.7 1803.0,1381.7 1803.5,1381.6 1804.0,1381.6 1804.5,1381.6 1805.0,1381.5 1805.5,1381.5 1806.0,1381.4 1806.5,1381.4 1807.0,1381.3 1807.5,1381.3 1808.0,1381.2 1808.5,1381.2 1809.0,1381.1 1809.5,1381.1 1810.0,1381.0 1810.5,1381.0 1811.0,1380.9 1811.5,1380.9 1812.0,1380.8 1812.5,1380.8 1813.0,1380.7 1813.5,1380.6 1814.0,1380.6 1814.5,1380.5 1815.0,1380.5 1815.5,1380.4 1816.0,1380.4 1816.5,1380.3 1817.0,1380.2 1817.5,1380.2 1818.0,1380.1 1818.5,1380.0 1819.0,1380.0 1819.5,1379.9 1820.0,1379.9 1820.5,1379.8 1821.0,1379.7 1821.5,1379.7 1822.0,1379.6 1822.5,1379.5 1823.0,1379.5 1823.5,1379.4 1824.0,1379.3 1824.5,1379.3 1825.0,1379.2 1825.5,1379.1 1826.0,1379.1 1826.5,1379.0 1827.0,1378.9 1827.5,1378.8 1828.0,1378.8 1828.5,1378.7 1829.0,1378.6 1829.5,1378.6 1830.0,1378.5 1830.5,1378.4 1831.0,1378.3 1831.5,1378.3 1832.0,1378.2 1832.5,1378.1 1833.0,1378.0 1833.5,1378.0 1834.0,1377.9 1834.5,1377.8 1835.0,1377.7 1835.5,1377.6 1836.0,1377.6 1836.5,1377.5 1837.0,1377.4 1837.5,1377.3 1838.0,1377.2 1838.5,1377.2 1839.0,1377.1 1839.5,1377.0 1840.0,1376.9 1840.5,1376.8 1841.0,1376.8 1841.5,1376.7 1842.0,1376.6 1842.5,1376.5 1843.0,1376.4 1843.5,1376.3 1844.0,1376.3 1844.5,1376.2 1845.0,1376.1 1845.5,1376.0 1846.0,1375.9 1846.5,1375.8 1847.0,1375.7 1847.5,1375.7 1848.0,1375.6 1848.5,1375.5 1849.0,1375.4 1849.5,1375.3 1850.0,1375.2 1850.5,1375.1 1851.0,1375.1 1851.5,1375.0 1852.0,1374.9 1852.5,1374.8 1853.0,1374.7 1853.5,1374.6 1854.0,1374.5 1854.5,1374.4 1855.0,1374.3 1855.5,1374.3 1856.0,1374.2 1856.5,1374.1 1857.0,1374.0 1857.5,1373.9 1858.0,1373.8 1858.5,1373.7 1859.0,1373.6 1859.5,1373.5 1860.0,1373.4 1860.5,1373.4 1861.0,1373.3 1861.5,1373.2 1862.0,1373.1 1862.5,1373.0 1863.0,1372.9 1863.5,1372.8 1864.0,1372.7 1864.5,1372.6 1865.0,1372.5 1865.5,1372.4 1866.0,1372.3 1866.5,1372.3 1867.0,1372.2 1867.5,1372.1 1868.0,1372.0"/>
</g>
<g stroke-width="9.3" stroke-linecap="round">
<line x1="1435.5" y1="209.3" x2="1585.1" y2="209.3" stroke="#000"/>
<line x1="1435.5" y1="302.4" x2="1585.1" y2="302.4" stroke="#ff8000"/>
<line x1="1435.5" y1="395.9" x2="1585.1" y2="395.9" stroke="#0000ff"/>
</g>
<g font-family="'Liberation Sans', Arial, Helvetica, sans-serif" font-weight="bold" fill="#000">
<text transform="translate(1606.1,232.6) scale(0.9476,1)" font-size="77.25">N 719</text>
<text transform="translate(1606.1,325.6) scale(0.9476,1)" font-size="77.25">N 3</text>
<text transform="translate(1606.1,418.7) scale(0.9476,1)" font-size="77.25">D 205</text>
<text transform="translate(454.12,1485.8) scale(0.943,1)" text-anchor="middle" font-size="103">400</text><text transform="translate(924.16,1485.8) scale(0.943,1)" text-anchor="middle" font-size="103">500</text><text transform="translate(1394.21,1485.8) scale(0.943,1)" text-anchor="middle" font-size="103">600</text><text transform="translate(1864.25,1485.8) scale(0.943,1)" text-anchor="middle" font-size="103">700</text>
<text transform="translate(649.1,1581.8) scale(1.045,1)" font-size="93.6">Wavelength (nm)</text>
<text transform="translate(87.9,1185.0) rotate(-90) scale(0.978,1)" font-size="101.3">Absorbance (a.u.)</text>
</g>
</svg>
</body></html>
